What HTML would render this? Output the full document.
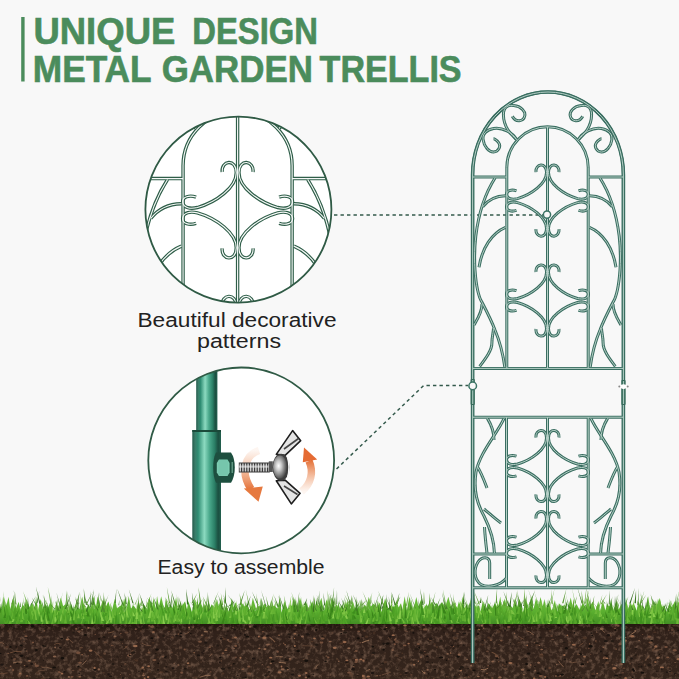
<!DOCTYPE html>
<html><head><meta charset="utf-8">
<style>
html,body{margin:0;padding:0;width:679px;height:679px;overflow:hidden;background:#f8f8f8;}
svg{display:block;position:absolute;left:0;top:0;}
.title{font-family:"Liberation Sans",sans-serif;font-weight:bold;fill:#4b8c5c;stroke:#4b8c5c;stroke-width:0.6;}
.lab{font-family:"Liberation Sans",sans-serif;fill:#222;}
</style></head><body>
<svg width="679" height="679" viewBox="0 0 679 679">
<defs>
<g id="tr"><path d="M472.6,663 L472.6,175 A75.4,83 0 0 1 623.4,175 L623.4,663"/><path d="M506.8,368 L506.8,167.5 A40.7,40.7 0 0 1 588.2,167.5 L588.2,368"/><path d="M547.5,126.8 L547.5,368"/><path d="M472.6,177 L506.8,177 M588.2,177 L623.4,177"/><path d="M472.6,368.4 L623.4,368.4 M472.6,417.2 L623.4,417.2 M472.6,587.8 L623.4,587.8"/><path d="M506.5,417.2 L506.5,587.8 M588.2,417.2 L588.2,587.8 M547.5,417.2 L547.5,587.8"/><path d="M472.6,554 L506.5,554 M588.2,554 L623.4,554"/><path d="M 516.5,139.5 C 511.6,134.8 503.6,127.8 503.4,114.8 C 503.4,105.8 509.6,104.8 513.7,105.6 C 521.6,106.3 525.6,111.8 524.8,115.8 C 523.6,121.8 515.6,122.8 512.3,116.3"/><path d="M 578.5,139.5 C 583.4,134.8 591.4,127.8 591.6,114.8 C 591.6,105.8 585.4,104.8 581.3,105.6 C 573.4,106.3 569.4,111.8 570.2,115.8 C 571.4,121.8 579.4,122.8 582.7,116.3"/><path d="M 516.5,139.5 C 513.0,132.8 502.0,126.8 493.5,128.5 C 486.0,129.8 482.0,134.8 483.2,139.8 C 484.0,146.8 489.0,151.8 493.5,152.1 C 499.0,151.8 501.0,145.8 498.7,142.8 C 497.0,139.8 494.0,138.8 493.5,138.8"/><path d="M 578.5,139.5 C 582.0,132.8 593.0,126.8 601.5,128.5 C 609.0,129.8 613.0,134.8 611.8,139.8 C 611.0,146.8 606.0,151.8 601.5,152.1 C 596.0,151.8 594.0,145.8 596.3,142.8 C 598.0,139.8 601.0,138.8 601.5,138.8"/><path d="M495.2,177.7 C486,192 479,210 475.8,236 C474,252 474.5,262 475,270 C476,284 478,296 482,302.3 C487,312 492,322 495,330 C500,342 503,354 504.8,367"/><path d="M 599.8,177.7 C 609.0,192.0 616.0,210.0 619.2,236.0 C 621.0,252.0 620.5,262.0 620.0,270.0 C 619.0,284.0 617.0,296.0 613.0,302.3 C 608.0,312.0 603.0,322.0 600.0,330.0 C 595.0,342.0 592.0,354.0 590.2,367.0"/><path d="M482.7,206.8 C488,200 496,196 505.5,195.8"/><path d="M 612.3,206.8 C 607.0,200.0 599.0,196.0 589.5,195.8"/><path d="M479,267.2 C482,248 492,233 505.5,227.4"/><path d="M 616.0,267.2 C 613.0,248.0 603.0,233.0 589.5,227.4"/><path d="M474,325 C478,318 482,312 482,303.9"/><path d="M 621.0,325.0 C 617.0,318.0 613.0,312.0 613.0,303.9"/><path d="M479.7,366.3 C486,358 492,350 491.9,343 C492,336 493.5,332 493.5,328.2"/><path d="M 615.3,366.3 C 609.0,358.0 603.0,350.0 603.1,343.0 C 603.0,336.0 601.5,332.0 601.5,328.2"/><path d="M504.1,418.4 C497,434 480,452 476,472 C473,492 478,505 484,516 C490,528 494,540 494.4,553"/><path d="M 590.9,418.4 C 598.0,434.0 615.0,452.0 619.0,472.0 C 622.0,492.0 617.0,505.0 611.0,516.0 C 605.0,528.0 601.0,540.0 600.6,553.0"/><path d="M487.4,418.4 C492,426 494,432 494,440"/><path d="M 607.6,418.4 C 603.0,426.0 601.0,432.0 601.0,440.0"/><path d="M477,466 C481,472 484,480 487,488"/><path d="M 618.0,466.0 C 614.0,472.0 611.0,480.0 608.0,488.0"/><path d="M484,509 C489,513 494,518 501,523"/><path d="M 611.0,509.0 C 606.0,513.0 601.0,518.0 594.0,523.0"/><path d="M484.5,527 C485,537 486,545 487,553"/><path d="M 610.5,527.0 C 610.0,537.0 609.0,545.0 608.0,553.0"/><path d="M489.7,579 L489.7,563 C489.7,556.5 482,556 478,562 C473.5,569 474,580 481,584.5 C488,588 500,586 506.5,578"/><path d="M 605.3,579.0 L 605.3,563.0 C 605.3,556.5 613.0,556.0 617.0,562.0 C 621.5,569.0 621.0,580.0 614.0,584.5 C 607.0,588.0 595.0,586.0 588.5,578.0"/><path transform="translate(547.5,200.6) scale(1,1)" d="M-11.5,-28.5 C-12.5,-37 -1,-39 -1,-28 C-1,-17 -16,-6 -30,-2 C-35,-0.8 -40.5,-1.5 -41,-6 C-41.3,-10 -36,-11.5 -31,-9.8"/><path transform="translate(547.5,200.6) scale(-1,1)" d="M-11.5,-28.5 C-12.5,-37 -1,-39 -1,-28 C-1,-17 -16,-6 -30,-2 C-35,-0.8 -40.5,-1.5 -41,-6 C-41.3,-10 -36,-11.5 -31,-9.8"/><path transform="translate(547.5,200.6) scale(1,-1)" d="M-11.5,-28.5 C-12.5,-37 -1,-39 -1,-28 C-1,-17 -16,-6 -30,-2 C-35,-0.8 -40.5,-1.5 -41,-6 C-41.3,-10 -36,-11.5 -31,-9.8"/><path transform="translate(547.5,200.6) scale(-1,-1)" d="M-11.5,-28.5 C-12.5,-37 -1,-39 -1,-28 C-1,-17 -16,-6 -30,-2 C-35,-0.8 -40.5,-1.5 -41,-6 C-41.3,-10 -36,-11.5 -31,-9.8"/><path transform="translate(547.5,300.5) scale(1,1)" d="M-11.5,-28.5 C-12.5,-37 -1,-39 -1,-28 C-1,-17 -16,-6 -30,-2 C-35,-0.8 -40.5,-1.5 -41,-6 C-41.3,-10 -36,-11.5 -31,-9.8"/><path transform="translate(547.5,300.5) scale(-1,1)" d="M-11.5,-28.5 C-12.5,-37 -1,-39 -1,-28 C-1,-17 -16,-6 -30,-2 C-35,-0.8 -40.5,-1.5 -41,-6 C-41.3,-10 -36,-11.5 -31,-9.8"/><path transform="translate(547.5,300.5) scale(1,-1)" d="M-11.5,-28.5 C-12.5,-37 -1,-39 -1,-28 C-1,-17 -16,-6 -30,-2 C-35,-0.8 -40.5,-1.5 -41,-6 C-41.3,-10 -36,-11.5 -31,-9.8"/><path transform="translate(547.5,300.5) scale(-1,-1)" d="M-11.5,-28.5 C-12.5,-37 -1,-39 -1,-28 C-1,-17 -16,-6 -30,-2 C-35,-0.8 -40.5,-1.5 -41,-6 C-41.3,-10 -36,-11.5 -31,-9.8"/><path transform="translate(547.5,466.0) scale(1,1)" d="M-11.5,-28.5 C-12.5,-37 -1,-39 -1,-28 C-1,-17 -16,-6 -30,-2 C-35,-0.8 -40.5,-1.5 -41,-6 C-41.3,-10 -36,-11.5 -31,-9.8"/><path transform="translate(547.5,466.0) scale(-1,1)" d="M-11.5,-28.5 C-12.5,-37 -1,-39 -1,-28 C-1,-17 -16,-6 -30,-2 C-35,-0.8 -40.5,-1.5 -41,-6 C-41.3,-10 -36,-11.5 -31,-9.8"/><path transform="translate(547.5,466.0) scale(1,-1)" d="M-11.5,-28.5 C-12.5,-37 -1,-39 -1,-28 C-1,-17 -16,-6 -30,-2 C-35,-0.8 -40.5,-1.5 -41,-6 C-41.3,-10 -36,-11.5 -31,-9.8"/><path transform="translate(547.5,466.0) scale(-1,-1)" d="M-11.5,-28.5 C-12.5,-37 -1,-39 -1,-28 C-1,-17 -16,-6 -30,-2 C-35,-0.8 -40.5,-1.5 -41,-6 C-41.3,-10 -36,-11.5 -31,-9.8"/><path transform="translate(547.5,547.0) scale(1,1)" d="M-11.5,-28.5 C-12.5,-37 -1,-39 -1,-28 C-1,-17 -16,-6 -30,-2 C-35,-0.8 -40.5,-1.5 -41,-6 C-41.3,-10 -36,-11.5 -31,-9.8"/><path transform="translate(547.5,547.0) scale(-1,1)" d="M-11.5,-28.5 C-12.5,-37 -1,-39 -1,-28 C-1,-17 -16,-6 -30,-2 C-35,-0.8 -40.5,-1.5 -41,-6 C-41.3,-10 -36,-11.5 -31,-9.8"/><path transform="translate(547.5,547.0) scale(1,-1)" d="M-11.5,-28.5 C-12.5,-37 -1,-39 -1,-28 C-1,-17 -16,-6 -30,-2 C-35,-0.8 -40.5,-1.5 -41,-6 C-41.3,-10 -36,-11.5 -31,-9.8"/><path transform="translate(547.5,547.0) scale(-1,-1)" d="M-11.5,-28.5 C-12.5,-37 -1,-39 -1,-28 C-1,-17 -16,-6 -30,-2 C-35,-0.8 -40.5,-1.5 -41,-6 C-41.3,-10 -36,-11.5 -31,-9.8"/></g>
<clipPath id="c1"><circle cx="238.4" cy="209.6" r="93"/></clipPath>
<clipPath id="c2"><circle cx="241.2" cy="460.4" r="92.9"/></clipPath>
<linearGradient id="pole" x1="0" x2="1" y1="0" y2="0">
 <stop offset="0" stop-color="#23594a"/><stop offset="0.1" stop-color="#3a7d6a"/><stop offset="0.2" stop-color="#2e8c72"/><stop offset="0.42" stop-color="#8cdac0"/><stop offset="0.6" stop-color="#4aa88b"/><stop offset="0.78" stop-color="#2a7e65"/><stop offset="0.9" stop-color="#1b4f40"/><stop offset="1" stop-color="#23604f"/>
</linearGradient>
<filter id="noise" x="0" y="0" width="100%" height="100%">
 <feTurbulence type="fractalNoise" baseFrequency="0.22" numOctaves="3" seed="4"/>
 <feColorMatrix type="matrix" values="0 0 0 0 0.55  0 0 0 0 0.33  0 0 0 0 0.22  0 0 0 2.2 -1.0"/>
</filter>
<linearGradient id="soilg" x1="0" x2="0" y1="0" y2="1">
 <stop offset="0" stop-color="#24170f"/><stop offset="0.15" stop-color="#30211a"/><stop offset="1" stop-color="#34251c"/>
</linearGradient>
<linearGradient id="grassg" gradientUnits="userSpaceOnUse" x1="0" x2="0" y1="596" y2="626">
 <stop offset="0" stop-color="#6fbf3e"/><stop offset="0.5" stop-color="#5cb030"/><stop offset="1" stop-color="#3f8a22"/>
</linearGradient>
<radialGradient id="wn" cx="0.4" cy="0.45" r="0.6">
 <stop offset="0" stop-color="#ffffff"/><stop offset="0.35" stop-color="#c8c8c8"/><stop offset="0.8" stop-color="#6a6a6a"/><stop offset="1" stop-color="#444"/>
</radialGradient>
<linearGradient id="arrL" x1="0" x2="0" y1="0" y2="1">
 <stop offset="0" stop-color="#f0a070" stop-opacity="0.1"/><stop offset="1" stop-color="#e5753d"/>
</linearGradient>
<linearGradient id="arrR" x1="0" x2="0" y1="1" y2="0">
 <stop offset="0" stop-color="#f0a070" stop-opacity="0.1"/><stop offset="1" stop-color="#e5753d"/>
</linearGradient>
</defs>
<rect width="679" height="679" fill="#f8f8f8"/>

<!-- title -->
<rect x="21.2" y="17" width="3.4" height="64.5" fill="#4b8c5c"/>
<text class="title" x="33.4" y="43.5" font-size="36.5" textLength="142.0" lengthAdjust="spacingAndGlyphs">UNIQUE</text>
<text class="title" x="192.2" y="43.5" font-size="36.5" textLength="125.8" lengthAdjust="spacingAndGlyphs">DESIGN</text>
<text class="title" x="32.8" y="81.5" font-size="36.5" textLength="118.8" lengthAdjust="spacingAndGlyphs">METAL</text>
<text class="title" x="161.7" y="81.5" font-size="36.5" textLength="151.3" lengthAdjust="spacingAndGlyphs">GARDEN</text>
<text class="title" x="319.6" y="81.5" font-size="36.5" textLength="142.0" lengthAdjust="spacingAndGlyphs">TRELLIS</text>

<!-- circle 1 -->
<circle cx="238.4" cy="209.6" r="93" fill="#ffffff"/>
<g clip-path="url(#c1)">
 <g transform="translate(237.6,210.2) scale(1.34) translate(-547.5,-200.6)">
  <use href="#tr" fill="none" stroke="#2f5e49" stroke-width="2.55"/>
  <use href="#tr" fill="none" stroke="#f4f8f6" stroke-width="0.85"/>
 </g>
</g>
<circle cx="238.4" cy="209.6" r="93" fill="none" stroke="#2f5a45" stroke-width="1.8"/>
<text class="lab" x="137.5" y="327.4" font-size="20" textLength="199" lengthAdjust="spacingAndGlyphs">Beautiful decorative</text>
<text class="lab" x="197" y="347.8" font-size="20" textLength="84" lengthAdjust="spacingAndGlyphs">patterns</text>

<!-- dashed line 1 -->
<path d="M334,215 L543.4,215" stroke="#33594b" stroke-width="1.5" stroke-dasharray="3.4 3.1" fill="none"/>

<!-- circle 2 -->
<circle cx="241.2" cy="460.4" r="92.9" fill="#ffffff"/>
<g clip-path="url(#c2)">
 <rect x="196.2" y="360" width="21.2" height="72" fill="url(#pole)"/>
 <rect x="192.3" y="430" width="28.7" height="130" fill="url(#pole)"/>
 <rect x="192.3" y="430" width="28.7" height="2" fill="#1a4a3a"/>
 <!-- nut -->
 <path d="M216,452.5 L231,452.5 Q234.8,458 234.8,467.6 Q234.8,477 231,482.7 L216,482.7 Q213.2,477 213.2,467.6 Q213.2,458 216,452.5Z" fill="#1d4f3f"/>
 <path d="M219,459.5 L227.5,459.5 L229.6,463 L229.6,472.5 L227.5,476 L219,476 L216.8,472.5 L216.8,463Z" fill="#7dcdb2"/>
 <path d="M218.5,460 L228,460 L228,475.5 L218.5,475.5Z" fill="#6fc0a5" opacity="0.5"/>
 <rect x="231.6" y="462" width="1.2" height="11" fill="#6fa892"/>
 <!-- arrows -->
 <path d="M259,450.5 C245,455 240,472 251,489" stroke="url(#arrL)" stroke-width="7.5" fill="none"/>
 <path d="M243.8,488.5 L262.8,486.5 L258.5,501.7 Z" fill="#e6793f"/>
 <!-- bolt -->
 <rect x="238.8" y="462.5" width="31" height="10" fill="#3a3a3a"/>
 <g fill="#d0d0d0"><rect x="239.6" y="463.5" width="1.4" height="8"/><rect x="242.2" y="463.5" width="1.4" height="8"/><rect x="244.8" y="463.5" width="1.4" height="8"/><rect x="247.4" y="463.5" width="1.4" height="8"/><rect x="250.0" y="463.5" width="1.4" height="8"/><rect x="252.6" y="463.5" width="1.4" height="8"/><rect x="255.2" y="463.5" width="1.4" height="8"/><rect x="257.8" y="463.5" width="1.4" height="8"/><rect x="260.4" y="463.5" width="1.4" height="8"/><rect x="263.0" y="463.5" width="1.4" height="8"/><rect x="265.6" y="463.5" width="1.4" height="8"/><rect x="268.2" y="463.5" width="1.4" height="8"/></g>
 <rect x="238.8" y="465.5" width="31" height="2.2" fill="#f2f2f2" opacity="0.6"/>
 <rect x="268.8" y="461.3" width="4" height="10.7" fill="#555"/>
 <!-- right arrow -->
 <path d="M301.5,491.5 C311,484 314,472 309,461" stroke="url(#arrR)" stroke-width="7.5" fill="none"/>
 <path d="M302.8,462.3 L317.2,459.5 L304,447.4 Z" fill="#e56b33"/>
 <!-- wing nut -->
 <path d="M276.3,454.4 L292.6,430.6 L300.7,440.7 L285.1,455.4 Z" fill="#e4e4e4" stroke="#1e1e1e" stroke-width="1.6" stroke-linejoin="round"/>
 <path d="M284,449 L298.5,438.5" stroke="#444" stroke-width="1.6"/>
 <path d="M276.3,480.8 L291.3,503.9 L300.1,493.3 L285.1,480.1 Z" fill="#e4e4e4" stroke="#1e1e1e" stroke-width="1.6" stroke-linejoin="round"/>
 <path d="M284,486 L297.5,494.5" stroke="#444" stroke-width="1.6"/>
 <ellipse cx="281" cy="467.3" rx="8.6" ry="13.5" fill="#3d3d3d"/>
 <ellipse cx="280" cy="467" rx="7" ry="11.5" fill="url(#wn)"/>
 <path d="M287.5,457 Q290.5,467 287.5,478" stroke="#f8f8f8" stroke-width="1.5" fill="none"/>
</g>
<circle cx="241.2" cy="460.4" r="92.9" fill="none" stroke="#2f5a45" stroke-width="1.8"/>
<text class="lab" x="157.5" y="574" font-size="20" textLength="167" lengthAdjust="spacingAndGlyphs">Easy to assemble</text>

<!-- dashed line 2 -->
<path d="M336.5,469 L423.7,385.5 L468,385.5" stroke="#33594b" stroke-width="1.5" stroke-dasharray="3.4 3.1" fill="none"/>

<!-- grass & soil -->
<path d="M-2,626 L-2.0,608.3 L-0.2,602.5 L1.4,609.8 L3.7,596.6 L6.2,606.3 L8.6,596.7 L10.2,609.0 L13.4,597.2 L15.3,610.4 L18.7,601.8 L21.0,612.8 L22.6,604.6 L24.7,607.0 L26.4,599.1 L29.6,607.3 L32.2,602.4 L34.5,609.8 L36.1,596.6 L38.0,610.8 L40.4,599.1 L43.0,609.2 L45.1,603.9 L48.0,607.7 L50.7,601.3 L53.9,611.1 L56.0,605.8 L57.8,608.9 L60.8,597.5 L63.2,606.3 L66.1,603.6 L68.7,612.1 L70.9,603.0 L73.5,610.1 L76.0,604.4 L79.3,609.3 L82.2,596.6 L85.1,610.5 L88.6,604.2 L90.6,608.7 L93.5,596.2 L95.9,607.2 L97.6,596.6 L100.7,606.9 L102.7,599.9 L105.9,606.6 L108.3,601.5 L111.6,611.7 L114.8,598.8 L117.1,608.5 L120.4,605.6 L122.2,607.2 L124.2,598.3 L126.6,610.1 L128.7,596.0 L131.0,608.6 L133.6,605.5 L136.5,609.6 L139.2,602.8 L140.8,612.3 L143.9,604.7 L147.0,608.7 L149.3,597.0 L152.1,606.4 L153.7,598.1 L155.5,608.4 L157.1,596.0 L158.9,606.7 L161.2,596.3 L164.4,610.3 L166.2,598.5 L168.4,608.5 L170.2,604.5 L173.6,609.3 L176.1,596.9 L177.8,608.4 L179.8,604.3 L181.7,606.2 L185.1,601.3 L186.9,609.8 L188.4,601.3 L191.9,612.0 L194.8,598.6 L197.0,607.2 L200.0,601.3 L203.1,608.3 L205.0,604.1 L208.5,612.0 L211.6,604.2 L214.6,607.6 L217.1,599.6 L218.7,606.2 L220.8,598.6 L223.6,612.7 L226.0,605.4 L229.5,612.7 L231.7,598.2 L233.7,607.4 L235.6,602.2 L238.9,611.9 L241.4,602.5 L244.5,606.6 L247.3,605.1 L250.3,611.3 L252.8,597.8 L255.9,608.3 L259.0,605.7 L261.3,608.8 L264.7,603.2 L266.5,606.9 L268.3,605.0 L271.4,607.0 L274.6,605.8 L277.4,608.5 L280.0,597.3 L281.5,612.8 L284.3,601.3 L287.7,609.0 L290.9,604.3 L292.8,607.8 L294.9,598.4 L297.6,607.8 L299.9,597.3 L303.3,608.5 L305.7,601.8 L309.0,608.9 L312.3,601.0 L314.9,609.7 L316.4,600.4 L318.3,606.0 L321.4,597.7 L323.8,611.1 L326.5,599.3 L329.0,609.9 L332.1,597.1 L334.7,607.7 L336.7,603.7 L339.2,609.9 L342.3,605.1 L344.7,610.3 L347.2,601.1 L350.1,609.2 L352.6,600.8 L356.0,610.9 L359.3,605.4 L361.3,609.9 L364.7,604.4 L366.4,606.9 L368.8,596.7 L370.8,606.5 L373.6,603.8 L376.9,607.1 L379.9,602.6 L381.6,612.2 L385.1,598.2 L388.5,608.8 L391.0,605.9 L394.1,607.1 L396.5,601.2 L398.7,607.4 L400.8,603.2 L402.3,609.9 L404.7,596.2 L406.9,610.4 L409.4,596.6 L412.9,611.5 L416.3,597.0 L418.4,606.3 L421.4,598.7 L423.2,609.0 L426.5,604.2 L428.5,607.0 L431.9,601.7 L434.8,606.6 L436.4,602.9 L438.7,606.5 L442.1,602.3 L445.2,606.6 L448.4,596.7 L451.6,609.2 L453.8,601.5 L457.2,607.9 L458.9,601.3 L460.9,606.8 L462.7,596.5 L464.6,608.2 L466.7,603.6 L468.8,609.5 L470.7,599.5 L472.2,607.8 L473.7,603.3 L476.3,607.3 L478.8,605.3 L480.5,611.7 L482.9,601.0 L486.0,608.8 L488.6,602.9 L492.0,608.4 L495.2,603.1 L498.0,608.8 L500.2,596.5 L501.9,606.5 L504.9,598.6 L506.7,606.6 L509.9,604.7 L512.7,608.0 L514.7,598.9 L517.1,607.1 L519.5,598.6 L523.0,612.8 L525.6,598.4 L529.0,608.2 L531.2,596.0 L533.5,609.3 L536.0,598.0 L538.5,606.0 L540.5,596.9 L542.8,606.3 L544.4,599.0 L546.3,610.1 L548.9,603.5 L551.7,611.0 L554.9,599.9 L557.1,612.9 L558.9,603.2 L561.7,606.3 L564.9,604.9 L567.6,611.1 L570.7,597.4 L573.3,609.5 L576.5,604.0 L579.6,610.1 L582.9,602.8 L585.8,607.6 L587.3,597.3 L589.6,606.7 L592.7,601.6 L595.5,610.4 L598.4,600.9 L599.9,611.6 L602.9,601.0 L605.4,610.6 L607.1,603.4 L609.1,606.5 L611.1,603.3 L613.0,611.2 L616.5,600.9 L618.7,609.4 L621.6,603.7 L624.3,610.5 L626.0,597.5 L628.0,611.2 L630.1,601.7 L631.6,606.4 L633.7,602.7 L636.5,610.7 L638.6,601.2 L641.1,609.3 L642.8,604.9 L644.7,612.8 L648.1,596.2 L650.5,611.7 L653.9,600.5 L656.0,607.5 L659.3,598.1 L662.0,607.0 L664.6,605.5 L666.3,611.7 L668.8,604.9 L671.7,607.6 L675.0,600.9 L676.6,606.0 L679.1,600.5 L681.2,607.0 L683.4,599.2 L684,626Z" fill="url(#grassg)"/><path d="M-5.3,622.5L-6.8,608.3L-2.3,622.5Z" fill="#4fa326"/><path d="M614.6,616.1L615.3,607.0L617.8,616.1Z" fill="#52a028"/><path d="M46.8,625.0L50.5,611.6L48.5,625.0Z" fill="#4fa326"/><path d="M569.2,616.0L568.1,600.7L571.0,616.0Z" fill="#398419"/><path d="M211.8,622.8L211.9,609.2L213.1,622.8Z" fill="#88cc4c"/><path d="M269.9,624.3L268.3,613.2L271.3,624.3Z" fill="#64b232"/><path d="M305.0,622.5L303.9,610.4L306.3,622.5Z" fill="#398419"/><path d="M81.4,618.6L81.1,609.8L84.1,618.6Z" fill="#88cc4c"/><path d="M173.3,621.2L174.7,612.9L175.3,621.2Z" fill="#6cb838"/><path d="M437.0,613.1L440.7,602.5L439.3,613.1Z" fill="#3f8f1e"/><path d="M618.6,626.0L616.5,616.0L620.2,626.0Z" fill="#5eac2e"/><path d="M114.0,619.8L114.3,611.3L116.8,619.8Z" fill="#489a22"/><path d="M605.2,622.5L605.6,613.0L607.4,622.5Z" fill="#64b232"/><path d="M180.2,622.5L181.8,612.0L182.2,622.5Z" fill="#88cc4c"/><path d="M341.0,620.8L339.6,606.3L342.7,620.8Z" fill="#489a22"/><path d="M258.5,621.0L258.5,611.3L261.4,621.0Z" fill="#4fa326"/><path d="M81.1,618.0L85.1,604.6L84.2,618.0Z" fill="#3f8f1e"/><path d="M-6.3,617.5L-2.3,602.3L-3.4,617.5Z" fill="#3f8f1e"/><path d="M164.9,613.5L166.4,606.8L167.5,613.5Z" fill="#88cc4c"/><path d="M577.6,624.5L580.5,618.6L578.8,624.5Z" fill="#6cb838"/><path d="M154.5,624.9L153.7,612.8L156.0,624.9Z" fill="#7cc242"/><path d="M358.1,618.1L355.8,604.7L359.9,618.1Z" fill="#52a028"/><path d="M125.9,615.7L123.1,602.0L128.2,615.7Z" fill="#3f8f1e"/><path d="M185.8,616.4L184.9,602.2L188.1,616.4Z" fill="#398419"/><path d="M164.6,625.4L163.7,612.7L165.8,625.4Z" fill="#3f8f1e"/><path d="M603.6,621.1L602.5,615.2L605.7,621.1Z" fill="#56a42a"/><path d="M150.0,612.5L150.6,603.8L152.5,612.5Z" fill="#489a22"/><path d="M-1.4,616.1L-3.8,601.8L0.7,616.1Z" fill="#489a22"/><path d="M208.4,623.5L207.5,615.9L211.1,623.5Z" fill="#7cc242"/><path d="M69.0,620.7L73.3,609.0L71.2,620.7Z" fill="#88cc4c"/><path d="M33.2,620.3L30.3,605.2L34.5,620.3Z" fill="#52a028"/><path d="M91.3,612.7L91.9,607.1L94.3,612.7Z" fill="#56a42a"/><path d="M499.1,626.0L498.5,610.7L500.6,626.0Z" fill="#398419"/><path d="M508.2,612.4L508.2,600.1L510.2,612.4Z" fill="#56a42a"/><path d="M298.8,613.5L296.5,607.7L300.9,613.5Z" fill="#5eac2e"/><path d="M380.7,622.6L383.8,613.4L382.5,622.6Z" fill="#64b232"/><path d="M54.4,621.9L55.8,614.7L56.5,621.9Z" fill="#56a42a"/><path d="M244.6,624.6L245.3,619.2L247.4,624.6Z" fill="#64b232"/><path d="M22.2,612.5L26.4,606.8L23.9,612.5Z" fill="#5eac2e"/><path d="M612.9,616.7L617.8,608.8L615.3,616.7Z" fill="#7cc242"/><path d="M508.0,621.7L507.7,606.5L510.6,621.7Z" fill="#52a028"/><path d="M625.6,620.9L622.6,605.5L627.3,620.9Z" fill="#3f8f1e"/><path d="M486.5,618.5L490.3,605.0L489.5,618.5Z" fill="#3f8f1e"/><path d="M85.5,619.0L89.9,613.9L87.3,619.0Z" fill="#6cb838"/><path d="M412.0,616.6L412.3,608.1L414.8,616.6Z" fill="#5eac2e"/><path d="M346.4,617.5L347.0,610.7L348.9,617.5Z" fill="#3f8f1e"/><path d="M374.1,616.6L378.8,600.8L377.3,616.6Z" fill="#7cc242"/><path d="M423.8,614.9L429.3,605.3L426.9,614.9Z" fill="#6cb838"/><path d="M155.0,617.8L157.8,606.0L157.7,617.8Z" fill="#88cc4c"/><path d="M517.5,622.9L516.6,614.7L519.2,622.9Z" fill="#7cc242"/><path d="M502.8,614.8L501.5,607.1L504.3,614.8Z" fill="#52a028"/><path d="M123.6,612.9L122.7,605.1L125.8,612.9Z" fill="#88cc4c"/><path d="M550.9,621.1L548.8,605.2L553.1,621.1Z" fill="#489a22"/><path d="M573.4,624.8L572.5,619.4L574.9,624.8Z" fill="#489a22"/><path d="M407.6,623.6L405.3,616.5L409.9,623.6Z" fill="#6cb838"/><path d="M303.7,615.6L308.0,602.1L305.1,615.6Z" fill="#52a028"/><path d="M483.3,616.9L482.7,611.5L484.6,616.9Z" fill="#7cc242"/><path d="M19.9,622.3L23.9,607.2L22.8,622.3Z" fill="#64b232"/><path d="M461.0,614.6L460.0,606.2L463.8,614.6Z" fill="#398419"/><path d="M327.4,617.7L329.4,604.0L328.9,617.7Z" fill="#398419"/><path d="M56.9,614.3L57.1,601.6L58.7,614.3Z" fill="#7cc242"/><path d="M281.9,612.7L286.0,599.5L283.9,612.7Z" fill="#4fa326"/><path d="M589.1,626.0L588.0,617.0L591.8,626.0Z" fill="#489a22"/><path d="M643.3,618.1L640.9,611.4L644.7,618.1Z" fill="#52a028"/><path d="M602.1,618.5L599.4,611.7L604.4,618.5Z" fill="#88cc4c"/><path d="M549.3,617.6L554.1,606.3L552.0,617.6Z" fill="#6cb838"/><path d="M94.8,616.0L98.9,605.2L96.2,616.0Z" fill="#3f8f1e"/><path d="M512.8,623.1L512.6,609.2L515.6,623.1Z" fill="#4fa326"/><path d="M666.2,618.8L670.6,613.2L668.1,618.8Z" fill="#52a028"/><path d="M468.0,624.5L472.0,612.4L470.4,624.5Z" fill="#52a028"/><path d="M577.1,623.6L575.9,616.6L579.1,623.6Z" fill="#398419"/><path d="M101.4,617.0L106.6,610.4L104.2,617.0Z" fill="#489a22"/><path d="M21.9,619.9L19.6,606.5L24.8,619.9Z" fill="#5eac2e"/><path d="M262.3,618.4L265.8,604.0L264.8,618.4Z" fill="#7cc242"/><path d="M395.4,618.0L396.0,605.7L397.5,618.0Z" fill="#4fa326"/><path d="M-3.8,625.8L-3.0,615.7L-1.4,625.8Z" fill="#3f8f1e"/><path d="M570.4,623.3L567.9,613.9L572.3,623.3Z" fill="#56a42a"/><path d="M57.0,618.2L54.5,607.6L59.4,618.2Z" fill="#5eac2e"/><path d="M629.0,616.4L627.0,603.5L631.7,616.4Z" fill="#64b232"/><path d="M443.5,623.0L441.3,617.7L446.0,623.0Z" fill="#5eac2e"/><path d="M126.9,625.7L132.1,615.3L130.0,625.7Z" fill="#6cb838"/><path d="M466.5,622.1L470.4,614.7L469.0,622.1Z" fill="#7cc242"/><path d="M103.6,624.6L106.9,616.5L105.1,624.6Z" fill="#398419"/><path d="M658.6,618.7L660.3,607.2L660.3,618.7Z" fill="#56a42a"/><path d="M19.1,614.5L23.9,607.8L21.7,614.5Z" fill="#64b232"/><path d="M110.0,623.0L111.5,616.7L112.5,623.0Z" fill="#56a42a"/><path d="M659.2,618.3L662.2,607.6L662.2,618.3Z" fill="#7cc242"/><path d="M678.3,620.8L681.5,611.5L680.0,620.8Z" fill="#56a42a"/><path d="M392.0,617.0L392.3,603.6L393.6,617.0Z" fill="#4fa326"/><path d="M197.7,619.2L202.9,610.8L200.7,619.2Z" fill="#88cc4c"/><path d="M611.3,622.3L609.9,609.0L613.0,622.3Z" fill="#88cc4c"/><path d="M292.0,619.2L289.9,604.3L293.6,619.2Z" fill="#88cc4c"/><path d="M25.3,612.8L24.8,601.5L27.5,612.8Z" fill="#398419"/><path d="M148.3,620.2L147.1,608.7L150.7,620.2Z" fill="#3f8f1e"/><path d="M103.2,612.2L106.0,598.4L105.3,612.2Z" fill="#5eac2e"/><path d="M433.9,624.2L433.9,610.6L435.6,624.2Z" fill="#4fa326"/><path d="M32.5,623.5L34.4,608.7L34.9,623.5Z" fill="#52a028"/><path d="M640.1,622.3L643.9,614.5L641.3,622.3Z" fill="#398419"/><path d="M11.7,614.6L15.7,607.8L13.1,614.6Z" fill="#52a028"/><path d="M373.4,625.2L372.2,618.6L375.8,625.2Z" fill="#398419"/><path d="M440.5,617.8L441.3,606.1L441.9,617.8Z" fill="#88cc4c"/><path d="M27.8,624.5L30.1,610.8L29.0,624.5Z" fill="#64b232"/><path d="M507.6,618.5L508.1,605.4L509.3,618.5Z" fill="#5eac2e"/><path d="M173.6,621.0L178.3,614.7L176.6,621.0Z" fill="#7cc242"/><path d="M484.0,615.7L484.8,604.6L486.7,615.7Z" fill="#398419"/><path d="M663.9,616.1L667.8,600.9L665.3,616.1Z" fill="#398419"/><path d="M3.9,615.6L7.4,608.0L7.0,615.6Z" fill="#56a42a"/><path d="M125.8,617.4L126.3,605.8L128.7,617.4Z" fill="#88cc4c"/><path d="M574.2,619.5L575.1,609.3L575.4,619.5Z" fill="#4fa326"/><path d="M295.4,622.1L294.7,610.9L297.1,622.1Z" fill="#52a028"/><path d="M397.6,619.9L394.6,613.0L399.0,619.9Z" fill="#52a028"/><path d="M634.4,616.8L631.3,610.3L635.7,616.8Z" fill="#88cc4c"/><path d="M430.6,621.8L428.3,608.7L432.9,621.8Z" fill="#56a42a"/><path d="M130.8,625.4L133.6,614.5L133.8,625.4Z" fill="#64b232"/><path d="M67.4,614.9L65.1,608.6L70.3,614.9Z" fill="#88cc4c"/><path d="M54.5,622.5L55.1,610.6L56.0,622.5Z" fill="#88cc4c"/><path d="M135.4,616.5L132.4,606.8L137.1,616.5Z" fill="#7cc242"/><path d="M27.2,622.6L30.5,607.6L29.6,622.6Z" fill="#3f8f1e"/><path d="M580.6,620.7L580.9,615.3L582.6,620.7Z" fill="#5eac2e"/><path d="M232.5,621.9L231.7,610.9L235.4,621.9Z" fill="#5eac2e"/><path d="M390.0,616.0L391.0,606.2L391.7,616.0Z" fill="#4fa326"/><path d="M-2.8,618.9L0.4,608.5L-1.2,618.9Z" fill="#3f8f1e"/><path d="M402.5,625.4L403.9,614.7L404.0,625.4Z" fill="#489a22"/><path d="M640.1,615.2L645.0,608.4L642.8,615.2Z" fill="#3f8f1e"/><path d="M536.9,621.8L538.9,608.1L538.8,621.8Z" fill="#64b232"/><path d="M633.5,624.5L634.1,611.3L636.0,624.5Z" fill="#56a42a"/><path d="M136.0,615.7L137.0,600.8L138.0,615.7Z" fill="#88cc4c"/><path d="M154.6,618.5L158.0,607.6L157.3,618.5Z" fill="#88cc4c"/><path d="M17.3,620.1L21.3,609.4L19.4,620.1Z" fill="#398419"/><path d="M505.1,614.4L508.4,604.5L507.4,614.4Z" fill="#6cb838"/><path d="M224.3,621.0L225.2,608.3L226.0,621.0Z" fill="#52a028"/><path d="M100.4,614.2L100.1,606.5L102.6,614.2Z" fill="#6cb838"/><path d="M156.2,625.4L161.4,617.5L159.3,625.4Z" fill="#6cb838"/><path d="M656.7,613.4L662.0,604.2L659.5,613.4Z" fill="#7cc242"/><path d="M293.9,614.7L291.5,602.7L295.5,614.7Z" fill="#64b232"/><path d="M313.8,612.2L314.1,597.8L315.5,612.2Z" fill="#88cc4c"/><path d="M198.5,612.3L201.0,604.5L199.7,612.3Z" fill="#489a22"/><path d="M619.6,618.0L622.6,606.7L621.6,618.0Z" fill="#489a22"/><path d="M454.0,621.1L456.3,606.5L456.4,621.1Z" fill="#489a22"/><path d="M462.0,621.0L461.7,611.0L464.5,621.0Z" fill="#5eac2e"/><path d="M610.7,615.4L613.2,606.0L612.2,615.4Z" fill="#64b232"/><path d="M326.3,612.3L327.8,597.8L328.9,612.3Z" fill="#6cb838"/><path d="M609.8,616.6L614.0,611.5L612.8,616.6Z" fill="#5eac2e"/><path d="M19.7,619.6L23.5,612.8L22.8,619.6Z" fill="#398419"/><path d="M233.8,623.9L232.6,613.8L236.0,623.9Z" fill="#4fa326"/><path d="M433.9,623.6L434.7,612.9L437.0,623.6Z" fill="#489a22"/><path d="M676.0,614.6L680.8,603.9L678.6,614.6Z" fill="#52a028"/><path d="M239.3,612.8L239.1,604.8L240.5,612.8Z" fill="#64b232"/><path d="M625.0,620.8L626.4,608.4L626.4,620.8Z" fill="#7cc242"/><path d="M504.5,625.2L503.6,614.4L507.3,625.2Z" fill="#64b232"/><path d="M312.0,614.3L309.9,599.1L314.8,614.3Z" fill="#489a22"/><path d="M317.3,619.9L322.0,612.4L319.2,619.9Z" fill="#88cc4c"/><path d="M566.0,623.1L571.3,613.6L568.7,623.1Z" fill="#88cc4c"/><path d="M80.4,623.7L84.0,614.8L82.1,623.7Z" fill="#64b232"/><path d="M467.2,625.8L468.5,613.3L470.1,625.8Z" fill="#7cc242"/><path d="M240.4,621.2L241.5,612.6L242.9,621.2Z" fill="#5eac2e"/><path d="M448.6,617.1L452.1,601.9L449.9,617.1Z" fill="#52a028"/><path d="M617.9,623.0L621.8,616.4L620.3,623.0Z" fill="#4fa326"/><path d="M446.7,614.9L446.2,609.1L449.1,614.9Z" fill="#52a028"/><path d="M92.6,615.3L92.1,601.7L94.1,615.3Z" fill="#64b232"/><path d="M539.1,614.4L541.3,599.5L541.8,614.4Z" fill="#88cc4c"/><path d="M615.1,619.7L614.6,607.7L617.3,619.7Z" fill="#489a22"/><path d="M359.6,622.4L363.8,612.6L361.9,622.4Z" fill="#7cc242"/><path d="M282.6,623.6L284.2,613.4L284.8,623.6Z" fill="#6cb838"/><path d="M476.3,615.5L478.4,608.6L478.9,615.5Z" fill="#6cb838"/><path d="M572.8,618.6L575.6,607.4L575.7,618.6Z" fill="#56a42a"/><path d="M287.4,626.0L285.8,613.6L289.3,626.0Z" fill="#88cc4c"/><path d="M13.7,620.5L18.1,608.0L15.6,620.5Z" fill="#5eac2e"/><path d="M345.5,618.8L343.1,603.9L348.1,618.8Z" fill="#88cc4c"/><path d="M81.1,613.3L81.2,601.1L83.8,613.3Z" fill="#398419"/><path d="M524.8,615.0L525.3,605.2L527.1,615.0Z" fill="#7cc242"/><path d="M195.9,623.6L196.8,614.1L197.7,623.6Z" fill="#398419"/><path d="M231.8,614.8L229.5,604.4L233.4,614.8Z" fill="#7cc242"/><path d="M81.9,625.6L86.9,619.7L83.9,625.6Z" fill="#398419"/><path d="M604.6,619.6L603.6,614.1L605.8,619.6Z" fill="#489a22"/><path d="M560.2,618.7L557.8,605.2L562.4,618.7Z" fill="#398419"/><path d="M415.3,620.6L418.1,608.7L417.7,620.6Z" fill="#88cc4c"/><path d="M51.4,612.6L53.2,600.6L53.0,612.6Z" fill="#88cc4c"/><path d="M118.7,612.5L123.2,599.0L121.2,612.5Z" fill="#56a42a"/><path d="M594.3,613.9L597.4,605.5L597.2,613.9Z" fill="#6cb838"/><path d="M284.1,616.5L286.7,606.7L287.1,616.5Z" fill="#4fa326"/><path d="M336.9,619.3L340.2,605.2L339.0,619.3Z" fill="#64b232"/><path d="M301.1,612.2L303.4,602.9L304.2,612.2Z" fill="#6cb838"/><path d="M321.8,617.8L323.7,611.7L323.4,617.8Z" fill="#6cb838"/><path d="M425.3,618.0L428.3,612.9L428.5,618.0Z" fill="#5eac2e"/><path d="M144.2,613.7L143.6,603.5L146.5,613.7Z" fill="#3f8f1e"/><path d="M499.1,614.6L502.6,609.1L501.7,614.6Z" fill="#6cb838"/><path d="M496.7,613.2L499.5,601.3L498.8,613.2Z" fill="#7cc242"/><path d="M622.9,612.7L620.9,607.4L625.9,612.7Z" fill="#88cc4c"/><path d="M557.4,613.1L560.0,604.7L558.9,613.1Z" fill="#3f8f1e"/><path d="M413.5,616.4L416.4,601.0L415.6,616.4Z" fill="#6cb838"/><path d="M93.6,623.2L96.0,614.2L96.1,623.2Z" fill="#64b232"/><path d="M322.3,622.9L321.8,612.9L325.0,622.9Z" fill="#56a42a"/><path d="M195.0,612.8L198.1,597.1L197.9,612.8Z" fill="#56a42a"/><path d="M592.7,622.2L591.3,617.0L595.6,622.2Z" fill="#52a028"/><path d="M289.1,624.4L291.8,615.3L291.5,624.4Z" fill="#489a22"/><path d="M550.3,616.0L549.5,610.9L552.4,616.0Z" fill="#52a028"/><path d="M628.6,622.7L627.6,609.1L630.0,622.7Z" fill="#52a028"/><path d="M94.9,625.7L96.7,611.9L97.7,625.7Z" fill="#3f8f1e"/><path d="M233.2,613.2L236.4,602.1L234.8,613.2Z" fill="#489a22"/><path d="M206.7,612.8L209.9,603.5L209.8,612.8Z" fill="#52a028"/><path d="M511.1,623.1L509.2,613.0L513.9,623.1Z" fill="#5eac2e"/><path d="M154.3,620.1L158.5,605.2L156.6,620.1Z" fill="#3f8f1e"/><path d="M342.3,614.8L340.5,607.5L345.2,614.8Z" fill="#7cc242"/><path d="M244.2,619.9L245.1,610.5L245.7,619.9Z" fill="#4fa326"/><path d="M629.6,618.9L629.7,604.4L631.7,618.9Z" fill="#5eac2e"/><path d="M102.0,620.4L102.7,611.6L103.2,620.4Z" fill="#4fa326"/><path d="M135.2,624.2L136.7,613.0L136.8,624.2Z" fill="#7cc242"/><path d="M286.9,625.3L291.0,611.8L290.0,625.3Z" fill="#7cc242"/><path d="M575.7,616.7L575.4,600.8L577.0,616.7Z" fill="#4fa326"/><path d="M377.5,624.2L382.6,614.1L380.5,624.2Z" fill="#5eac2e"/><path d="M588.9,621.0L591.2,605.8L590.3,621.0Z" fill="#56a42a"/><path d="M382.9,621.0L385.3,605.4L384.9,621.0Z" fill="#3f8f1e"/><path d="M579.7,617.2L582.2,609.6L581.2,617.2Z" fill="#7cc242"/><path d="M641.9,612.8L639.7,601.7L645.0,612.8Z" fill="#7cc242"/><path d="M536.2,621.9L540.7,609.8L537.5,621.9Z" fill="#6cb838"/><path d="M212.7,612.1L215.9,604.9L215.1,612.1Z" fill="#3f8f1e"/><path d="M516.5,613.5L515.2,604.9L517.9,613.5Z" fill="#3f8f1e"/><path d="M255.1,618.2L259.9,604.3L258.1,618.2Z" fill="#3f8f1e"/><path d="M488.3,614.7L492.6,609.3L490.0,614.7Z" fill="#52a028"/><path d="M591.5,624.4L591.8,617.9L592.9,624.4Z" fill="#64b232"/><path d="M573.9,620.8L574.0,610.8L576.7,620.8Z" fill="#3f8f1e"/><path d="M73.9,617.1L76.5,608.5L75.4,617.1Z" fill="#3f8f1e"/><path d="M375.3,614.0L374.4,599.4L377.3,614.0Z" fill="#6cb838"/><path d="M11.7,620.0L14.9,611.7L13.4,620.0Z" fill="#5eac2e"/><path d="M213.5,624.6L218.0,618.4L214.8,624.6Z" fill="#88cc4c"/><path d="M631.1,619.8L629.4,605.7L633.8,619.8Z" fill="#56a42a"/><path d="M291.7,615.7L290.6,608.0L293.7,615.7Z" fill="#64b232"/><path d="M610.9,612.8L610.8,599.8L614.1,612.8Z" fill="#4fa326"/><path d="M298.2,619.1L299.2,608.5L301.0,619.1Z" fill="#398419"/><path d="M191.4,617.0L191.6,611.6L193.2,617.0Z" fill="#6cb838"/><path d="M89.3,614.5L91.8,601.0L90.9,614.5Z" fill="#5eac2e"/><path d="M565.4,624.5L568.3,611.4L566.9,624.5Z" fill="#6cb838"/><path d="M416.2,621.9L417.6,608.0L417.8,621.9Z" fill="#5eac2e"/><path d="M470.8,619.3L475.3,605.0L473.1,619.3Z" fill="#56a42a"/><path d="M225.4,623.8L225.9,609.3L226.6,623.8Z" fill="#3f8f1e"/><path d="M85.2,621.3L87.3,613.6L88.4,621.3Z" fill="#4fa326"/><path d="M106.5,617.2L103.7,605.7L108.8,617.2Z" fill="#3f8f1e"/><path d="M661.0,613.0L660.4,604.1L663.9,613.0Z" fill="#56a42a"/><path d="M530.9,624.2L535.0,612.8L532.7,624.2Z" fill="#5eac2e"/><path d="M651.2,618.9L652.6,608.3L653.5,618.9Z" fill="#4fa326"/><path d="M161.9,613.2L160.1,601.4L163.7,613.2Z" fill="#398419"/><path d="M557.2,612.4L559.6,606.4L558.8,612.4Z" fill="#4fa326"/><path d="M570.9,620.9L569.8,610.8L573.0,620.9Z" fill="#56a42a"/><path d="M593.0,622.0L591.1,616.5L595.2,622.0Z" fill="#398419"/><path d="M518.5,613.5L522.8,607.2L520.8,613.5Z" fill="#489a22"/><path d="M587.5,614.1L590.3,602.8L589.1,614.1Z" fill="#4fa326"/><path d="M639.9,617.4L643.7,607.8L642.1,617.4Z" fill="#64b232"/><path d="M662.2,612.7L662.9,603.7L665.1,612.7Z" fill="#64b232"/><path d="M574.8,619.9L574.4,604.1L576.8,619.9Z" fill="#398419"/><path d="M31.0,619.2L35.4,603.7L32.7,619.2Z" fill="#64b232"/><path d="M451.0,612.2L449.4,606.0L452.8,612.2Z" fill="#489a22"/><path d="M341.4,612.3L346.5,605.8L344.2,612.3Z" fill="#3f8f1e"/><path d="M430.6,623.3L434.4,608.6L431.9,623.3Z" fill="#88cc4c"/><path d="M421.4,624.9L423.8,613.0L424.2,624.9Z" fill="#4fa326"/><path d="M421.5,615.5L422.5,604.8L424.6,615.5Z" fill="#7cc242"/><path d="M71.3,616.9L69.4,610.0L74.4,616.9Z" fill="#398419"/><path d="M615.0,613.2L619.5,601.7L617.1,613.2Z" fill="#398419"/><path d="M84.7,616.1L83.8,606.6L86.4,616.1Z" fill="#5eac2e"/><path d="M504.3,616.0L506.7,606.0L506.0,616.0Z" fill="#64b232"/><path d="M132.4,621.9L134.0,611.9L134.8,621.9Z" fill="#3f8f1e"/><path d="M558.0,612.4L556.7,603.8L560.3,612.4Z" fill="#52a028"/><path d="M267.2,624.9L271.8,618.2L269.1,624.9Z" fill="#56a42a"/><path d="M332.2,616.0L331.9,600.1L335.0,616.0Z" fill="#6cb838"/><path d="M373.6,620.5L376.0,611.7L375.8,620.5Z" fill="#3f8f1e"/><path d="M237.7,622.7L242.9,611.9L240.3,622.7Z" fill="#6cb838"/><path d="M280.9,621.4L279.8,614.8L283.4,621.4Z" fill="#7cc242"/><path d="M559.4,619.2L562.7,606.1L562.2,619.2Z" fill="#3f8f1e"/><path d="M179.1,620.8L181.8,608.9L181.1,620.8Z" fill="#5eac2e"/><path d="M-3.6,622.7L-2.0,611.3L-0.5,622.7Z" fill="#52a028"/><path d="M97.4,623.9L99.1,615.8L98.8,623.9Z" fill="#3f8f1e"/><path d="M471.1,616.0L471.1,607.2L473.4,616.0Z" fill="#52a028"/><path d="M258.8,616.5L262.7,602.9L261.0,616.5Z" fill="#3f8f1e"/><path d="M200.7,619.5L201.2,605.7L202.7,619.5Z" fill="#489a22"/><path d="M54.1,624.9L58.3,616.3L57.0,624.9Z" fill="#56a42a"/><path d="M135.1,618.0L131.9,603.0L136.4,618.0Z" fill="#52a028"/><path d="M611.0,616.2L610.8,605.3L613.5,616.2Z" fill="#64b232"/><path d="M350.6,619.2L350.6,606.7L352.5,619.2Z" fill="#52a028"/><path d="M460.1,618.3L457.5,613.2L461.7,618.3Z" fill="#64b232"/><path d="M251.5,617.6L253.6,606.4L254.5,617.6Z" fill="#64b232"/><path d="M329.4,618.2L334.3,606.3L331.3,618.2Z" fill="#398419"/><path d="M508.6,613.3L508.2,604.3L510.0,613.3Z" fill="#7cc242"/><path d="M346.8,613.5L349.7,598.7L349.6,613.5Z" fill="#398419"/><path d="M605.8,617.9L605.3,611.2L608.0,617.9Z" fill="#398419"/><path d="M609.7,617.8L610.9,612.1L611.1,617.8Z" fill="#52a028"/><path d="M678.3,620.9L679.0,615.4L681.1,620.9Z" fill="#7cc242"/><path d="M483.9,619.7L483.8,604.7L485.3,619.7Z" fill="#4fa326"/><path d="M454.5,614.8L455.8,604.3L456.2,614.8Z" fill="#88cc4c"/><path d="M610.8,619.2L609.6,612.6L613.2,619.2Z" fill="#6cb838"/><path d="M102.2,622.6L99.8,616.5L103.8,622.6Z" fill="#398419"/><path d="M331.7,618.5L335.3,608.8L334.2,618.5Z" fill="#88cc4c"/><path d="M525.2,616.5L524.8,603.6L526.7,616.5Z" fill="#7cc242"/><path d="M427.4,624.0L424.7,608.6L429.0,624.0Z" fill="#52a028"/><path d="M259.2,612.8L261.4,598.0L262.3,612.8Z" fill="#3f8f1e"/><path d="M31.4,615.3L29.9,607.9L33.8,615.3Z" fill="#6cb838"/><path d="M210.7,624.6L210.3,610.6L213.1,624.6Z" fill="#3f8f1e"/><path d="M668.7,612.9L671.3,600.5L671.1,612.9Z" fill="#64b232"/><path d="M207.2,624.3L210.4,613.9L208.9,624.3Z" fill="#6cb838"/><path d="M111.1,617.3L115.1,612.2L113.1,617.3Z" fill="#56a42a"/><path d="M73.5,619.5L73.4,610.2L74.8,619.5Z" fill="#5eac2e"/><path d="M284.9,624.8L285.0,613.7L287.0,624.8Z" fill="#56a42a"/><path d="M157.7,612.5L157.1,600.2L159.2,612.5Z" fill="#6cb838"/><path d="M57.8,615.8L55.8,601.6L59.9,615.8Z" fill="#489a22"/><path d="M103.1,616.9L103.7,604.0L106.3,616.9Z" fill="#489a22"/><path d="M198.5,618.7L202.7,611.4L201.1,618.7Z" fill="#7cc242"/><path d="M404.6,618.2L405.9,602.3L406.6,618.2Z" fill="#398419"/><path d="M140.3,624.2L141.5,617.9L142.6,624.2Z" fill="#7cc242"/><path d="M501.3,622.7L503.8,617.4L502.8,622.7Z" fill="#4fa326"/><path d="M262.7,613.2L266.5,606.3L264.6,613.2Z" fill="#88cc4c"/><path d="M607.8,613.0L611.6,597.9L610.5,613.0Z" fill="#489a22"/><path d="M39.1,616.4L37.4,608.9L41.7,616.4Z" fill="#7cc242"/><path d="M239.0,623.8L241.2,613.7L241.4,623.8Z" fill="#6cb838"/><path d="M639.1,614.5L642.8,605.4L641.7,614.5Z" fill="#64b232"/><path d="M11.4,621.9L16.4,611.8L13.4,621.9Z" fill="#88cc4c"/><path d="M61.5,616.1L63.2,608.1L63.1,616.1Z" fill="#88cc4c"/><path d="M22.0,612.6L20.5,605.8L23.8,612.6Z" fill="#64b232"/><path d="M502.5,619.7L507.2,607.8L504.9,619.7Z" fill="#489a22"/><path d="M386.6,622.0L387.3,614.2L389.1,622.0Z" fill="#56a42a"/><path d="M638.2,613.6L640.9,600.2L641.2,613.6Z" fill="#52a028"/><path d="M412.1,612.7L410.4,605.0L414.9,612.7Z" fill="#489a22"/><path d="M529.1,616.8L529.8,601.8L531.8,616.8Z" fill="#52a028"/><path d="M565.0,615.9L569.6,609.9L567.0,615.9Z" fill="#56a42a"/><path d="M470.5,622.3L472.6,608.2L472.6,622.3Z" fill="#4fa326"/><path d="M459.8,614.9L463.9,602.5L462.5,614.9Z" fill="#3f8f1e"/><path d="M519.1,612.6L522.4,599.9L520.8,612.6Z" fill="#398419"/><path d="M106.2,622.9L105.9,615.3L109.4,622.9Z" fill="#6cb838"/><path d="M240.8,617.8L240.0,610.5L242.3,617.8Z" fill="#3f8f1e"/><path d="M455.8,615.3L457.0,607.7L457.9,615.3Z" fill="#88cc4c"/><path d="M236.0,616.2L234.3,601.5L238.3,616.2Z" fill="#56a42a"/><path d="M427.4,613.7L432.2,604.0L429.9,613.7Z" fill="#6cb838"/><path d="M406.8,618.5L410.1,605.0L408.2,618.5Z" fill="#7cc242"/><path d="M2.6,618.8L6.7,613.3L4.4,618.8Z" fill="#5eac2e"/><path d="M477.4,618.3L477.0,612.0L479.5,618.3Z" fill="#56a42a"/><path d="M192.9,619.8L194.2,614.3L196.0,619.8Z" fill="#3f8f1e"/><path d="M52.1,622.0L53.4,606.3L53.6,622.0Z" fill="#3f8f1e"/><path d="M653.2,618.8L652.8,605.2L655.1,618.8Z" fill="#5eac2e"/><path d="M438.2,620.8L440.3,605.5L439.9,620.8Z" fill="#489a22"/><path d="M48.1,622.5L48.0,617.2L49.6,622.5Z" fill="#56a42a"/><path d="M122.2,620.9L126.4,606.6L123.7,620.9Z" fill="#7cc242"/><path d="M505.5,616.6L509.1,609.5L507.4,616.6Z" fill="#56a42a"/><path d="M88.3,624.9L87.0,610.7L89.6,624.9Z" fill="#5eac2e"/><path d="M384.1,620.8L387.2,606.8L387.1,620.8Z" fill="#489a22"/><path d="M334.4,619.0L334.0,612.3L336.8,619.0Z" fill="#5eac2e"/><path d="M91.8,615.2L93.9,608.7L93.8,615.2Z" fill="#4fa326"/><path d="M580.5,618.7L580.1,611.3L581.7,618.7Z" fill="#52a028"/><path d="M583.1,623.0L582.6,613.3L585.6,623.0Z" fill="#398419"/><path d="M483.2,624.5L480.8,618.8L486.3,624.5Z" fill="#6cb838"/><path d="M616.7,614.3L617.4,606.0L619.0,614.3Z" fill="#56a42a"/><path d="M385.0,618.6L386.2,607.6L387.0,618.6Z" fill="#398419"/><path d="M619.9,624.1L624.8,608.4L622.3,624.1Z" fill="#4fa326"/><path d="M492.0,616.6L493.5,604.4L494.0,616.6Z" fill="#56a42a"/><path d="M324.7,621.1L325.0,612.8L327.7,621.1Z" fill="#4fa326"/><path d="M578.6,615.1L580.9,602.0L580.1,615.1Z" fill="#52a028"/><path d="M250.1,620.1L251.6,610.6L252.5,620.1Z" fill="#64b232"/><path d="M173.5,615.2L172.5,599.5L176.2,615.2Z" fill="#489a22"/><path d="M588.2,615.5L589.3,609.5L589.9,615.5Z" fill="#3f8f1e"/><path d="M150.1,618.4L153.0,607.5L152.7,618.4Z" fill="#52a028"/><path d="M384.8,623.9L388.0,611.4L386.3,623.9Z" fill="#398419"/><path d="M372.7,622.0L371.3,608.7L375.9,622.0Z" fill="#398419"/><path d="M63.8,623.6L62.7,614.3L66.9,623.6Z" fill="#52a028"/><path d="M321.3,613.3L323.3,604.2L323.4,613.3Z" fill="#4fa326"/><path d="M250.6,612.2L249.3,600.7L252.4,612.2Z" fill="#6cb838"/><path d="M287.3,624.4L291.5,612.6L289.7,624.4Z" fill="#56a42a"/><path d="M109.5,622.4L112.9,613.7L112.0,622.4Z" fill="#7cc242"/><path d="M78.2,617.2L83.1,604.1L80.9,617.2Z" fill="#4fa326"/><path d="M556.4,616.9L556.2,608.0L558.8,616.9Z" fill="#4fa326"/><path d="M631.5,621.5L630.1,613.7L633.6,621.5Z" fill="#52a028"/><path d="M297.2,623.1L294.7,612.7L298.9,623.1Z" fill="#6cb838"/><path d="M376.1,616.1L375.9,603.5L377.6,616.1Z" fill="#7cc242"/><path d="M365.4,621.7L369.6,607.8L366.6,621.7Z" fill="#56a42a"/><path d="M678.8,618.8L676.5,608.5L681.6,618.8Z" fill="#5eac2e"/><path d="M119.5,623.5L119.7,611.0L121.7,623.5Z" fill="#6cb838"/><path d="M471.3,618.3L476.1,610.8L473.5,618.3Z" fill="#56a42a"/><path d="M221.2,615.0L222.6,600.2L222.5,615.0Z" fill="#6cb838"/><path d="M557.9,622.2L559.2,613.5L561.0,622.2Z" fill="#56a42a"/><path d="M-1.9,620.1L-4.7,611.4L0.2,620.1Z" fill="#52a028"/><path d="M25.4,614.0L24.4,601.7L27.1,614.0Z" fill="#398419"/><path d="M677.3,617.0L678.7,605.7L678.8,617.0Z" fill="#4fa326"/><path d="M624.4,624.6L623.1,618.6L626.5,624.6Z" fill="#52a028"/><path d="M430.8,617.1L434.6,609.0L433.7,617.1Z" fill="#6cb838"/><path d="M463.3,616.3L466.4,602.9L465.5,616.3Z" fill="#88cc4c"/><path d="M162.6,624.2L162.6,611.3L165.2,624.2Z" fill="#88cc4c"/><path d="M216.8,625.8L216.6,615.5L218.5,625.8Z" fill="#489a22"/><path d="M680.4,614.1L684.8,606.9L683.0,614.1Z" fill="#64b232"/><path d="M301.3,620.0L299.3,611.6L302.6,620.0Z" fill="#7cc242"/><path d="M489.4,615.5L492.2,604.2L492.5,615.5Z" fill="#5eac2e"/><path d="M628.5,620.2L627.2,614.3L630.9,620.2Z" fill="#3f8f1e"/><path d="M240.3,622.8L243.9,613.1L241.6,622.8Z" fill="#3f8f1e"/><path d="M213.6,614.5L215.3,599.6L216.3,614.5Z" fill="#88cc4c"/><path d="M178.9,621.9L178.9,614.5L180.5,621.9Z" fill="#52a028"/><path d="M189.1,619.0L187.7,612.9L190.4,619.0Z" fill="#6cb838"/><path d="M408.2,613.1L412.1,599.2L410.0,613.1Z" fill="#6cb838"/><path d="M-2.4,615.8L-5.4,603.7L-0.6,615.8Z" fill="#4fa326"/><path d="M140.2,616.6L142.4,603.3L142.2,616.6Z" fill="#88cc4c"/><path d="M545.8,614.4L548.8,599.9L547.1,614.4Z" fill="#52a028"/><path d="M224.4,618.9L223.5,607.3L226.5,618.9Z" fill="#4fa326"/><path d="M11.7,616.4L11.2,604.2L13.8,616.4Z" fill="#56a42a"/><path d="M101.5,612.3L103.2,604.9L104.4,612.3Z" fill="#56a42a"/><path d="M554.7,617.9L556.6,607.0L557.0,617.9Z" fill="#88cc4c"/><path d="M669.8,620.0L672.1,612.5L672.6,620.0Z" fill="#3f8f1e"/><path d="M519.3,622.9L523.1,614.5L522.5,622.9Z" fill="#3f8f1e"/><path d="M379.5,617.1L378.5,606.2L381.2,617.1Z" fill="#398419"/><path d="M321.2,621.2L321.7,607.7L324.4,621.2Z" fill="#489a22"/><path d="M270.5,625.7L272.2,610.4L271.9,625.7Z" fill="#398419"/><path d="M339.8,619.8L344.3,612.8L341.7,619.8Z" fill="#6cb838"/><path d="M615.9,624.2L619.3,609.8L618.2,624.2Z" fill="#56a42a"/><path d="M529.9,615.4L531.1,599.6L532.4,615.4Z" fill="#56a42a"/><path d="M615.2,617.4L618.1,610.1L616.4,617.4Z" fill="#88cc4c"/><path d="M498.8,612.9L499.5,600.8L501.8,612.9Z" fill="#4fa326"/><path d="M150.9,617.3L151.2,602.3L153.4,617.3Z" fill="#489a22"/><path d="M15.2,612.3L14.1,599.5L17.1,612.3Z" fill="#56a42a"/><path d="M517.2,621.0L522.0,612.7L518.9,621.0Z" fill="#52a028"/><path d="M538.3,618.7L542.0,603.4L541.4,618.7Z" fill="#6cb838"/><path d="M560.4,616.0L561.8,607.3L563.4,616.0Z" fill="#6cb838"/><path d="M214.7,620.5L213.0,605.0L216.0,620.5Z" fill="#489a22"/><path d="M580.5,622.3L583.8,616.8L582.6,622.3Z" fill="#64b232"/><path d="M589.6,625.9L586.5,617.7L591.0,625.9Z" fill="#4fa326"/><path d="M85.6,616.2L85.7,605.7L88.3,616.2Z" fill="#3f8f1e"/><path d="M464.1,613.3L468.8,604.5L466.7,613.3Z" fill="#56a42a"/><path d="M668.7,612.5L672.3,604.9L671.3,612.5Z" fill="#4fa326"/><path d="M86.6,620.3L89.5,609.0L89.2,620.3Z" fill="#4fa326"/><path d="M676.6,616.4L674.6,601.8L678.7,616.4Z" fill="#6cb838"/><path d="M355.8,612.0L357.3,604.6L358.2,612.0Z" fill="#398419"/><path d="M338.5,613.6L340.0,604.7L341.5,613.6Z" fill="#56a42a"/><path d="M663.0,623.9L661.5,608.3L664.3,623.9Z" fill="#6cb838"/><path d="M4.8,615.8L3.0,600.1L6.1,615.8Z" fill="#398419"/><path d="M649.8,615.7L647.2,607.2L651.9,615.7Z" fill="#7cc242"/><path d="M371.8,621.7L376.1,605.9L374.4,621.7Z" fill="#64b232"/><path d="M284.4,619.6L282.9,610.3L287.1,619.6Z" fill="#64b232"/><path d="M547.7,624.6L546.7,612.6L549.9,624.6Z" fill="#7cc242"/><path d="M471.7,622.2L475.5,606.3L474.2,622.2Z" fill="#5eac2e"/><path d="M574.6,623.0L572.3,608.0L577.2,623.0Z" fill="#56a42a"/><path d="M465.7,618.2L466.5,605.8L468.0,618.2Z" fill="#3f8f1e"/><path d="M507.5,623.9L509.9,613.3L510.7,623.9Z" fill="#489a22"/><path d="M562.8,623.1L562.3,608.5L564.1,623.1Z" fill="#398419"/><path d="M177.2,621.2L175.1,607.1L180.0,621.2Z" fill="#88cc4c"/><path d="M147.8,620.6L152.1,612.7L149.9,620.6Z" fill="#56a42a"/><path d="M353.2,618.7L351.8,611.2L356.2,618.7Z" fill="#398419"/><path d="M244.6,614.9L244.8,608.0L247.1,614.9Z" fill="#6cb838"/><path d="M559.8,618.4L563.9,606.4L562.8,618.4Z" fill="#4fa326"/><path d="M215.8,617.1L216.3,602.6L217.8,617.1Z" fill="#7cc242"/><path d="M252.6,617.1L253.7,604.8L254.4,617.1Z" fill="#88cc4c"/><path d="M54.6,617.5L57.2,601.6L56.7,617.5Z" fill="#3f8f1e"/><path d="M497.7,614.4L494.5,603.8L499.2,614.4Z" fill="#3f8f1e"/><path d="M352.8,615.3L352.5,606.2L354.7,615.3Z" fill="#4fa326"/><path d="M377.3,612.0L378.9,604.2L379.1,612.0Z" fill="#398419"/><path d="M183.5,616.5L186.9,608.9L184.9,616.5Z" fill="#88cc4c"/><path d="M334.1,613.2L338.6,606.8L335.8,613.2Z" fill="#56a42a"/><path d="M627.9,622.0L625.6,612.9L630.6,622.0Z" fill="#64b232"/><path d="M290.5,620.5L289.8,612.7L293.4,620.5Z" fill="#6cb838"/><path d="M631.2,614.7L633.9,599.0L633.2,614.7Z" fill="#88cc4c"/><path d="M134.0,624.0L134.5,618.2L135.9,624.0Z" fill="#64b232"/><path d="M336.0,624.6L333.4,611.3L338.3,624.6Z" fill="#3f8f1e"/><path d="M638.5,621.8L643.2,612.0L640.0,621.8Z" fill="#5eac2e"/><path d="M296.8,618.9L300.6,608.2L299.3,618.9Z" fill="#489a22"/><path d="M270.4,612.6L272.2,600.1L273.1,612.6Z" fill="#3f8f1e"/><path d="M75.7,615.1L78.9,609.2L77.1,615.1Z" fill="#5eac2e"/><path d="M578.6,615.0L582.0,605.0L580.2,615.0Z" fill="#56a42a"/><path d="M326.5,612.8L327.0,600.2L328.8,612.8Z" fill="#64b232"/><path d="M556.7,624.2L556.5,617.6L558.9,624.2Z" fill="#4fa326"/><path d="M122.3,619.5L119.9,608.8L124.2,619.5Z" fill="#88cc4c"/><path d="M586.1,619.8L586.1,609.2L587.4,619.8Z" fill="#7cc242"/><path d="M165.3,617.3L166.5,607.5L167.1,617.3Z" fill="#6cb838"/><path d="M29.8,619.5L30.6,610.4L32.0,619.5Z" fill="#52a028"/><path d="M91.0,625.0L92.0,616.3L93.7,625.0Z" fill="#88cc4c"/><path d="M29.1,616.4L29.5,605.5L31.4,616.4Z" fill="#56a42a"/><path d="M18.5,615.1L16.9,605.2L20.1,615.1Z" fill="#52a028"/><path d="M415.0,617.7L413.4,604.7L416.6,617.7Z" fill="#6cb838"/><path d="M293.2,620.9L296.7,615.4L294.5,620.9Z" fill="#52a028"/><path d="M336.8,612.2L339.4,599.3L338.3,612.2Z" fill="#489a22"/><path d="M457.8,621.4L457.0,613.2L460.7,621.4Z" fill="#6cb838"/><path d="M529.9,622.0L530.5,611.3L531.5,622.0Z" fill="#5eac2e"/><path d="M648.6,617.8L648.2,605.6L651.7,617.8Z" fill="#88cc4c"/><path d="M286.8,624.2L284.6,609.0L288.3,624.2Z" fill="#3f8f1e"/><path d="M196.2,615.3L195.9,603.9L198.5,615.3Z" fill="#6cb838"/><path d="M206.7,615.6L206.0,604.6L209.8,615.6Z" fill="#88cc4c"/><path d="M669.0,617.5L669.3,612.1L671.5,617.5Z" fill="#489a22"/><path d="M445.4,621.7L443.4,614.5L447.0,621.7Z" fill="#56a42a"/><path d="M461.2,613.6L459.7,599.5L464.3,613.6Z" fill="#88cc4c"/><path d="M640.9,619.4L641.1,611.2L643.6,619.4Z" fill="#3f8f1e"/><path d="M606.9,624.8L606.0,617.6L608.7,624.8Z" fill="#52a028"/><path d="M366.1,613.2L365.7,606.7L369.0,613.2Z" fill="#489a22"/><path d="M393.2,616.2L390.6,604.8L394.4,616.2Z" fill="#489a22"/><path d="M644.6,621.2L644.4,615.6L646.7,621.2Z" fill="#489a22"/><path d="M220.7,617.1L224.7,610.9L223.5,617.1Z" fill="#398419"/><path d="M307.5,622.5L305.8,616.2L309.5,622.5Z" fill="#4fa326"/><path d="M17.5,619.2L19.4,613.1L19.0,619.2Z" fill="#52a028"/><path d="M570.9,613.1L573.7,600.1L572.8,613.1Z" fill="#88cc4c"/><path d="M642.6,616.6L646.7,602.4L644.8,616.6Z" fill="#6cb838"/><path d="M174.2,613.5L172.2,605.9L175.9,613.5Z" fill="#398419"/><path d="M74.9,618.5L76.3,611.7L77.1,618.5Z" fill="#56a42a"/><path d="M647.6,616.0L653.0,604.9L650.6,616.0Z" fill="#398419"/><path d="M339.6,624.5L344.3,619.3L341.8,624.5Z" fill="#52a028"/><path d="M138.9,622.4L137.7,616.5L141.8,622.4Z" fill="#4fa326"/><path d="M286.4,620.7L287.7,614.5L287.9,620.7Z" fill="#88cc4c"/><path d="M392.3,615.3L395.9,603.7L394.9,615.3Z" fill="#4fa326"/><path d="M560.1,613.0L557.7,604.3L561.7,613.0Z" fill="#6cb838"/><path d="M554.8,616.8L556.0,602.9L557.8,616.8Z" fill="#4fa326"/><path d="M212.4,625.0L210.0,611.4L215.1,625.0Z" fill="#6cb838"/><path d="M499.8,621.5L499.3,614.8L501.3,621.5Z" fill="#489a22"/><path d="M631.7,621.6L628.8,608.8L632.9,621.6Z" fill="#3f8f1e"/><path d="M19.8,619.4L17.5,610.7L22.2,619.4Z" fill="#5eac2e"/><path d="M131.4,620.8L134.4,606.4L132.8,620.8Z" fill="#56a42a"/><path d="M395.4,623.2L398.7,612.8L397.6,623.2Z" fill="#7cc242"/><path d="M564.4,625.1L567.7,610.2L567.2,625.1Z" fill="#88cc4c"/><path d="M400.3,618.1L404.0,604.0L403.2,618.1Z" fill="#7cc242"/><path d="M509.7,620.3L511.4,608.1L511.1,620.3Z" fill="#7cc242"/><path d="M511.1,623.9L512.9,616.2L513.4,623.9Z" fill="#3f8f1e"/><path d="M389.9,625.1L387.6,610.3L392.4,625.1Z" fill="#64b232"/><path d="M540.8,621.6L544.4,606.2L542.8,621.6Z" fill="#5eac2e"/><path d="M150.8,621.4L153.6,607.7L153.8,621.4Z" fill="#64b232"/><path d="M540.6,612.1L537.5,601.7L542.1,612.1Z" fill="#3f8f1e"/><path d="M282.6,620.5L282.1,610.4L284.3,620.5Z" fill="#56a42a"/><path d="M264.8,618.5L265.1,613.2L268.0,618.5Z" fill="#6cb838"/><path d="M477.4,618.2L480.6,605.9L478.8,618.2Z" fill="#88cc4c"/><path d="M426.2,617.3L426.2,602.4L428.0,617.3Z" fill="#6cb838"/><path d="M243.2,615.1L245.6,600.4L246.2,615.1Z" fill="#64b232"/><path d="M206.4,616.5L209.9,601.8L208.8,616.5Z" fill="#6cb838"/><path d="M263.5,612.1L261.2,597.7L265.2,612.1Z" fill="#52a028"/><path d="M551.5,615.5L549.5,606.6L553.8,615.5Z" fill="#398419"/><path d="M452.9,613.9L452.0,600.6L455.0,613.9Z" fill="#398419"/><path d="M423.7,618.2L423.8,602.7L426.2,618.2Z" fill="#88cc4c"/><path d="M466.6,625.1L464.3,611.2L469.1,625.1Z" fill="#3f8f1e"/><path d="M244.3,625.7L248.3,620.0L246.9,625.7Z" fill="#398419"/><path d="M253.7,616.4L252.1,605.7L256.1,616.4Z" fill="#3f8f1e"/><path d="M17.7,616.6L22.8,610.0L20.7,616.6Z" fill="#6cb838"/><path d="M123.5,624.9L128.3,614.3L125.1,624.9Z" fill="#52a028"/><path d="M435.8,615.9L435.3,602.5L438.1,615.9Z" fill="#64b232"/><path d="M371.5,617.7L376.3,611.8L374.0,617.7Z" fill="#3f8f1e"/><path d="M657.8,621.9L656.7,609.3L659.3,621.9Z" fill="#52a028"/><path d="M335.8,612.7L339.7,601.8L337.4,612.7Z" fill="#4fa326"/><path d="M106.1,622.3L105.2,615.5L107.4,622.3Z" fill="#7cc242"/><path d="M663.5,622.9L665.9,613.9L665.2,622.9Z" fill="#3f8f1e"/><path d="M130.1,616.5L127.8,606.7L131.8,616.5Z" fill="#64b232"/><path d="M213.7,623.1L212.1,612.9L216.7,623.1Z" fill="#52a028"/><path d="M304.3,623.7L307.4,611.7L306.1,623.7Z" fill="#6cb838"/><path d="M186.2,619.5L189.9,607.2L188.2,619.5Z" fill="#5eac2e"/><path d="M183.9,617.1L185.0,602.0L185.6,617.1Z" fill="#88cc4c"/><path d="M77.1,618.3L78.7,613.2L79.7,618.3Z" fill="#7cc242"/><path d="M238.0,625.2L236.6,617.2L239.3,625.2Z" fill="#398419"/><path d="M60.1,620.4L64.1,606.3L62.7,620.4Z" fill="#7cc242"/><path d="M108.6,614.5L111.3,601.5L110.0,614.5Z" fill="#64b232"/><path d="M265.8,625.2L265.5,612.0L267.8,625.2Z" fill="#56a42a"/><path d="M234.8,614.6L236.2,600.0L237.1,614.6Z" fill="#88cc4c"/><path d="M632.4,616.0L635.3,608.7L635.4,616.0Z" fill="#5eac2e"/><path d="M340.0,623.9L341.6,611.6L342.0,623.9Z" fill="#52a028"/><path d="M496.4,623.0L499.9,610.5L497.8,623.0Z" fill="#489a22"/><path d="M456.2,622.6L460.9,612.1L459.2,622.6Z" fill="#88cc4c"/><path d="M256.5,616.0L260.5,603.9L258.5,616.0Z" fill="#7cc242"/><path d="M484.4,622.8L485.7,611.1L486.8,622.8Z" fill="#489a22"/><path d="M207.4,617.0L211.2,605.8L208.8,617.0Z" fill="#4fa326"/><path d="M476.3,613.0L475.5,598.8L477.5,613.0Z" fill="#88cc4c"/><path d="M520.2,618.3L525.2,607.7L522.6,618.3Z" fill="#52a028"/><path d="M550.5,612.6L548.2,598.5L552.1,612.6Z" fill="#88cc4c"/><path d="M638.9,625.5L637.9,614.7L641.2,625.5Z" fill="#489a22"/><path d="M188.3,625.6L190.8,614.3L189.9,625.6Z" fill="#6cb838"/><path d="M13.3,619.1L11.1,609.4L15.8,619.1Z" fill="#5eac2e"/><path d="M397.2,617.6L398.7,607.0L398.8,617.6Z" fill="#4fa326"/><path d="M548.4,625.5L553.0,616.8L549.7,625.5Z" fill="#3f8f1e"/><path d="M390.4,618.0L394.6,602.4L392.8,618.0Z" fill="#489a22"/><path d="M229.6,614.7L228.7,605.2L231.2,614.7Z" fill="#398419"/><path d="M5.0,622.9L8.3,609.2L7.8,622.9Z" fill="#489a22"/><path d="M379.5,621.8L383.0,606.1L382.6,621.8Z" fill="#52a028"/><path d="M489.3,612.9L486.8,605.6L492.2,612.9Z" fill="#88cc4c"/><path d="M364.6,619.8L366.0,607.9L366.4,619.8Z" fill="#56a42a"/><path d="M204.2,612.6L204.5,605.7L207.2,612.6Z" fill="#3f8f1e"/><path d="M525.9,616.8L526.3,602.4L528.9,616.8Z" fill="#3f8f1e"/><path d="M676.1,624.8L677.3,611.0L678.9,624.8Z" fill="#6cb838"/><path d="M579.7,619.4L579.7,611.6L581.6,619.4Z" fill="#88cc4c"/><path d="M8.0,624.7L13.2,611.9L11.2,624.7Z" fill="#64b232"/><path d="M527.5,622.2L531.7,615.4L529.6,622.2Z" fill="#6cb838"/><path d="M3.3,615.0L2.9,603.6L4.5,615.0Z" fill="#5eac2e"/><path d="M313.8,612.6L314.8,597.8L315.2,612.6Z" fill="#56a42a"/><path d="M226.7,619.8L230.3,609.8L229.7,619.8Z" fill="#4fa326"/><path d="M161.5,624.7L159.5,615.5L163.9,624.7Z" fill="#6cb838"/><path d="M644.7,618.2L649.3,606.9L647.3,618.2Z" fill="#3f8f1e"/><path d="M519.0,620.0L522.7,607.1L520.6,620.0Z" fill="#88cc4c"/><path d="M457.3,622.0L459.8,614.4L459.9,622.0Z" fill="#3f8f1e"/><path d="M411.2,613.7L411.5,603.2L413.8,613.7Z" fill="#489a22"/><path d="M-3.0,619.9L-3.8,606.7L-0.3,619.9Z" fill="#88cc4c"/><path d="M20.7,613.3L23.8,597.6L22.0,613.3Z" fill="#4fa326"/><path d="M271.3,625.2L274.2,609.6L272.6,625.2Z" fill="#398419"/><path d="M434.4,624.9L432.2,617.0L435.6,624.9Z" fill="#5eac2e"/><path d="M517.2,624.4L515.4,618.3L519.4,624.4Z" fill="#52a028"/><path d="M346.3,613.5L351.0,599.8L349.4,613.5Z" fill="#4fa326"/><path d="M43.5,612.4L41.4,600.3L45.9,612.4Z" fill="#52a028"/><path d="M403.5,623.2L401.1,617.3L405.8,623.2Z" fill="#7cc242"/><path d="M309.1,621.4L307.6,610.2L310.7,621.4Z" fill="#398419"/><path d="M553.4,618.4L555.4,612.1L555.0,618.4Z" fill="#64b232"/><path d="M671.2,620.6L672.7,614.6L673.8,620.6Z" fill="#5eac2e"/><path d="M497.1,623.9L494.9,609.6L499.1,623.9Z" fill="#7cc242"/><path d="M207.1,616.1L208.7,605.7L209.0,616.1Z" fill="#489a22"/><path d="M-1.4,613.0L1.3,606.8L1.0,613.0Z" fill="#398419"/><path d="M259.7,625.8L261.1,610.6L261.3,625.8Z" fill="#5eac2e"/><path d="M622.7,623.7L620.2,610.8L625.2,623.7Z" fill="#64b232"/><path d="M546.1,612.8L545.3,601.0L547.8,612.8Z" fill="#6cb838"/><path d="M168.4,616.2L167.7,607.4L169.8,616.2Z" fill="#3f8f1e"/><path d="M106.0,625.3L107.0,613.0L108.5,625.3Z" fill="#56a42a"/><path d="M183.1,615.5L180.1,606.0L184.8,615.5Z" fill="#56a42a"/><path d="M628.0,616.6L631.7,603.1L631.0,616.6Z" fill="#5eac2e"/><path d="M360.3,613.5L360.1,599.4L362.8,613.5Z" fill="#56a42a"/><path d="M38.6,613.7L37.0,603.7L39.9,613.7Z" fill="#88cc4c"/><path d="M364.7,625.1L369.3,615.6L367.3,625.1Z" fill="#88cc4c"/><path d="M56.1,615.0L60.0,606.8L57.4,615.0Z" fill="#7cc242"/><path d="M291.0,613.7L293.1,598.2L293.4,613.7Z" fill="#6cb838"/><path d="M470.0,622.4L468.8,609.2L471.7,622.4Z" fill="#4fa326"/><path d="M57.0,624.1L59.2,612.1L59.5,624.1Z" fill="#52a028"/><path d="M92.2,613.0L92.0,607.2L93.5,613.0Z" fill="#5eac2e"/><path d="M362.8,613.0L364.5,607.2L365.4,613.0Z" fill="#88cc4c"/><path d="M662.2,621.6L665.2,613.6L663.8,621.6Z" fill="#5eac2e"/><path d="M169.1,617.5L168.0,604.9L172.2,617.5Z" fill="#5eac2e"/><path d="M587.5,618.4L586.1,609.9L589.4,618.4Z" fill="#489a22"/><path d="M67.2,614.9L67.1,606.1L69.7,614.9Z" fill="#489a22"/><path d="M44.1,613.3L46.3,599.6L46.0,613.3Z" fill="#7cc242"/><path d="M118.5,614.0L123.3,607.9L120.4,614.0Z" fill="#88cc4c"/><path d="M55.4,620.2L54.7,614.5L57.2,620.2Z" fill="#6cb838"/><path d="M639.0,617.0L637.4,606.0L640.9,617.0Z" fill="#7cc242"/><path d="M248.8,614.3L253.2,602.0L251.8,614.3Z" fill="#6cb838"/><path d="M190.8,617.3L189.3,603.9L192.4,617.3Z" fill="#489a22"/><path d="M519.6,623.9L523.6,616.3L521.3,623.9Z" fill="#4fa326"/><path d="M29.2,621.3L27.7,607.1L30.5,621.3Z" fill="#3f8f1e"/><path d="M329.8,613.5L330.8,602.4L331.8,613.5Z" fill="#3f8f1e"/><path d="M324.7,614.4L324.9,606.9L326.1,614.4Z" fill="#5eac2e"/><path d="M177.7,618.2L177.0,610.6L179.0,618.2Z" fill="#398419"/><path d="M146.7,622.4L151.2,611.2L149.8,622.4Z" fill="#64b232"/><path d="M70.1,625.2L68.7,614.4L71.6,625.2Z" fill="#56a42a"/><path d="M140.3,613.2L144.7,605.2L142.4,613.2Z" fill="#6cb838"/><path d="M45.0,618.3L43.9,609.8L47.5,618.3Z" fill="#56a42a"/><path d="M40.8,621.8L40.0,611.6L43.1,621.8Z" fill="#88cc4c"/><path d="M443.6,619.2L444.7,613.9L446.2,619.2Z" fill="#398419"/><path d="M440.8,622.8L438.9,610.5L442.7,622.8Z" fill="#64b232"/><path d="M547.7,625.2L551.6,612.1L549.7,625.2Z" fill="#88cc4c"/><path d="M119.5,615.2L123.4,603.6L120.9,615.2Z" fill="#489a22"/><path d="M579.8,616.0L583.4,600.3L581.6,616.0Z" fill="#56a42a"/><path d="M396.3,625.2L398.3,615.7L397.5,625.2Z" fill="#3f8f1e"/><path d="M154.5,618.7L159.2,608.1L156.7,618.7Z" fill="#489a22"/><path d="M421.4,615.0L420.6,600.9L424.6,615.0Z" fill="#3f8f1e"/><path d="M180.9,625.6L178.0,612.3L182.5,625.6Z" fill="#64b232"/><path d="M454.3,612.3L453.0,603.2L457.1,612.3Z" fill="#4fa326"/><path d="M100.5,623.4L101.5,611.7L102.8,623.4Z" fill="#64b232"/><path d="M89.1,615.4L93.5,609.0L90.6,615.4Z" fill="#6cb838"/><path d="M682.2,613.9L685.0,605.4L683.7,613.9Z" fill="#64b232"/><path d="M108.9,620.2L109.7,610.2L111.9,620.2Z" fill="#88cc4c"/><path d="M147.3,614.1L152.4,600.9L149.9,614.1Z" fill="#5eac2e"/><path d="M29.7,624.8L26.7,618.7L31.4,624.8Z" fill="#7cc242"/><path d="M513.2,614.5L510.7,607.9L515.1,614.5Z" fill="#7cc242"/><path d="M550.2,621.1L548.0,610.5L551.9,621.1Z" fill="#88cc4c"/><path d="M359.3,621.5L360.6,612.5L361.6,621.5Z" fill="#64b232"/><path d="M46.1,624.6L44.8,613.3L48.7,624.6Z" fill="#7cc242"/><path d="M436.9,617.8L436.4,602.2L439.8,617.8Z" fill="#4fa326"/><path d="M424.5,618.6L427.5,606.2L425.7,618.6Z" fill="#3f8f1e"/><path d="M228.2,622.7L232.4,607.1L230.3,622.7Z" fill="#56a42a"/><path d="M535.5,615.3L540.0,605.5L537.1,615.3Z" fill="#64b232"/><path d="M270.0,613.9L270.3,600.7L272.6,613.9Z" fill="#64b232"/><path d="M451.2,622.7L449.8,616.3L452.9,622.7Z" fill="#7cc242"/><path d="M71.7,619.1L73.9,604.4L74.2,619.1Z" fill="#3f8f1e"/><path d="M394.9,625.2L395.1,613.8L397.5,625.2Z" fill="#64b232"/><path d="M210.3,623.4L213.1,610.7L213.1,623.4Z" fill="#64b232"/><path d="M248.5,625.5L252.4,612.0L251.0,625.5Z" fill="#88cc4c"/><path d="M164.8,620.3L165.2,606.8L167.7,620.3Z" fill="#88cc4c"/><path d="M169.7,623.5L174.0,611.9L172.7,623.5Z" fill="#52a028"/><path d="M25.3,624.6L25.7,613.0L27.6,624.6Z" fill="#4fa326"/><path d="M42.7,612.1L44.8,605.2L43.9,612.1Z" fill="#489a22"/><path d="M114.6,624.6L113.1,611.0L115.9,624.6Z" fill="#5eac2e"/><path d="M637.8,625.6L637.6,618.9L640.1,625.6Z" fill="#56a42a"/><path d="M194.5,622.5L194.7,607.8L197.6,622.5Z" fill="#7cc242"/><path d="M106.1,613.3L108.5,601.4L107.8,613.3Z" fill="#56a42a"/><path d="M229.3,618.9L233.9,611.8L231.6,618.9Z" fill="#4fa326"/><path d="M512.0,623.7L511.0,614.1L513.2,623.7Z" fill="#7cc242"/><path d="M543.4,623.2L544.9,617.2L545.0,623.2Z" fill="#3f8f1e"/><path d="M547.7,623.1L545.7,615.5L550.2,623.1Z" fill="#52a028"/><path d="M293.6,612.2L292.8,596.9L296.5,612.2Z" fill="#3f8f1e"/><path d="M159.7,615.6L161.3,606.0L162.3,615.6Z" fill="#4fa326"/><path d="M151.3,612.3L150.3,601.7L154.0,612.3Z" fill="#3f8f1e"/><path d="M417.3,624.6L417.0,617.4L419.8,624.6Z" fill="#7cc242"/><path d="M84.1,612.9L84.1,602.8L86.7,612.9Z" fill="#88cc4c"/><path d="M654.2,623.1L654.1,614.7L656.9,623.1Z" fill="#4fa326"/><path d="M527.9,616.4L527.3,608.2L529.6,616.4Z" fill="#6cb838"/><path d="M636.2,624.3L634.5,614.2L637.6,624.3Z" fill="#398419"/><path d="M489.0,624.2L489.8,611.6L490.9,624.2Z" fill="#5eac2e"/><path d="M67.3,613.0L68.1,603.7L69.0,613.0Z" fill="#88cc4c"/><path d="M347.8,618.3L352.3,603.9L349.9,618.3Z" fill="#56a42a"/><path d="M363.0,622.9L362.1,609.9L364.3,622.9Z" fill="#3f8f1e"/><path d="M54.0,624.9L58.4,618.5L57.1,624.9Z" fill="#398419"/><path d="M83.2,618.5L82.2,606.7L84.5,618.5Z" fill="#88cc4c"/><path d="M525.4,618.1L525.2,612.2L526.7,618.1Z" fill="#4fa326"/><path d="M15.7,624.7L17.2,612.4L18.3,624.7Z" fill="#56a42a"/><path d="M107.2,619.4L105.3,605.3L108.8,619.4Z" fill="#64b232"/><path d="M481.6,617.1L482.4,602.3L483.9,617.1Z" fill="#5eac2e"/><path d="M172.8,622.4L177.1,607.6L174.9,622.4Z" fill="#6cb838"/><path d="M409.9,616.0L412.9,605.9L412.5,616.0Z" fill="#6cb838"/><path d="M509.9,624.8L514.0,614.4L512.2,624.8Z" fill="#489a22"/><path d="M12.5,619.2L15.6,605.2L15.6,619.2Z" fill="#52a028"/><path d="M215.5,614.4L215.1,601.2L217.1,614.4Z" fill="#64b232"/><path d="M32.5,612.0L32.6,604.5L35.2,612.0Z" fill="#7cc242"/><path d="M411.4,624.6L411.5,609.1L414.3,624.6Z" fill="#7cc242"/><path d="M648.4,616.2L648.4,604.4L650.2,616.2Z" fill="#489a22"/><path d="M2.5,621.5L5.8,608.1L4.8,621.5Z" fill="#489a22"/><path d="M557.1,621.0L561.0,615.4L558.7,621.0Z" fill="#6cb838"/><path d="M553.7,615.5L554.2,603.3L556.6,615.5Z" fill="#6cb838"/><path d="M158.7,622.0L156.7,609.6L161.7,622.0Z" fill="#6cb838"/><path d="M577.8,624.3L582.7,617.8L580.5,624.3Z" fill="#88cc4c"/><path d="M367.3,624.8L371.6,611.0L370.4,624.8Z" fill="#56a42a"/><path d="M317.7,618.5L321.7,605.2L320.3,618.5Z" fill="#56a42a"/><path d="M165.4,613.4L163.0,604.8L168.2,613.4Z" fill="#489a22"/><path d="M248.5,620.6L246.4,610.1L251.4,620.6Z" fill="#88cc4c"/><path d="M270.6,623.2L270.3,607.7L273.1,623.2Z" fill="#52a028"/><path d="M317.7,624.6L317.6,611.5L320.6,624.6Z" fill="#52a028"/><path d="M624.4,620.4L628.3,604.4L625.8,620.4Z" fill="#3f8f1e"/><path d="M280.9,624.3L279.6,612.0L282.9,624.3Z" fill="#56a42a"/><path d="M633.0,621.2L635.4,606.7L635.3,621.2Z" fill="#3f8f1e"/><path d="M401.4,618.1L401.5,605.2L402.8,618.1Z" fill="#398419"/><path d="M194.1,619.2L192.3,606.0L196.9,619.2Z" fill="#52a028"/><path d="M546.4,615.1L551.3,600.4L548.4,615.1Z" fill="#64b232"/><path d="M432.3,613.1L432.5,603.5L435.4,613.1Z" fill="#398419"/><path d="M498.2,614.6L499.5,603.6L500.8,614.6Z" fill="#6cb838"/><path d="M411.0,617.3L415.0,603.1L412.5,617.3Z" fill="#4fa326"/><path d="M621.2,619.7L625.1,606.4L623.1,619.7Z" fill="#4fa326"/><path d="M136.4,612.3L141.1,601.8L139.4,612.3Z" fill="#489a22"/><path d="M345.7,625.1L344.1,613.9L348.2,625.1Z" fill="#4fa326"/><path d="M286.0,620.4L285.2,612.6L288.1,620.4Z" fill="#398419"/><path d="M426.5,612.8L430.4,599.2L429.5,612.8Z" fill="#6cb838"/><path d="M509.8,615.3L510.8,607.5L511.4,615.3Z" fill="#52a028"/><path d="M114.8,624.2L117.3,608.5L116.2,624.2Z" fill="#3f8f1e"/><path d="M484.1,621.9L488.3,614.0L487.2,621.9Z" fill="#4fa326"/><path d="M330.0,612.0L334.5,597.5L333.0,612.0Z" fill="#398419"/><path d="M460.3,614.0L463.0,603.9L463.5,614.0Z" fill="#56a42a"/><path d="M274.8,622.1L274.1,606.1L277.8,622.1Z" fill="#56a42a"/><path d="M420.3,616.2L418.7,609.5L421.6,616.2Z" fill="#489a22"/><path d="M399.9,613.7L400.7,605.5L402.8,613.7Z" fill="#52a028"/><path d="M328.8,625.2L327.6,615.0L331.2,625.2Z" fill="#6cb838"/><path d="M339.0,615.3L338.7,606.4L340.3,615.3Z" fill="#5eac2e"/><path d="M238.0,618.0L240.5,609.1L240.0,618.0Z" fill="#6cb838"/><path d="M314.2,623.7L311.9,612.7L317.0,623.7Z" fill="#3f8f1e"/><path d="M238.2,620.8L238.4,605.7L240.3,620.8Z" fill="#7cc242"/><path d="M101.5,621.1L98.8,607.9L104.1,621.1Z" fill="#88cc4c"/><path d="M245.8,623.9L247.8,610.2L248.3,623.9Z" fill="#56a42a"/><path d="M546.0,614.2L548.1,603.1L547.8,614.2Z" fill="#6cb838"/><path d="M612.3,623.2L612.0,617.9L614.5,623.2Z" fill="#3f8f1e"/><path d="M182.9,619.3L184.6,614.1L185.6,619.3Z" fill="#56a42a"/><path d="M434.2,618.7L434.5,610.0L436.6,618.7Z" fill="#7cc242"/><path d="M5.3,623.2L9.0,617.5L7.8,623.2Z" fill="#4fa326"/><path d="M183.7,616.7L182.3,602.6L186.3,616.7Z" fill="#4fa326"/><path d="M46.3,614.9L44.3,601.8L48.1,614.9Z" fill="#489a22"/><path d="M33.2,615.7L36.4,602.6L36.2,615.7Z" fill="#6cb838"/><path d="M373.5,624.9L378.0,618.9L375.6,624.9Z" fill="#489a22"/><path d="M21.2,619.0L21.8,605.9L23.7,619.0Z" fill="#6cb838"/><path d="M405.6,625.7L402.8,620.3L407.1,625.7Z" fill="#4fa326"/><path d="M220.2,621.7L220.6,614.9L221.6,621.7Z" fill="#489a22"/><path d="M413.2,621.4L413.7,605.7L416.4,621.4Z" fill="#64b232"/><path d="M218.5,617.7L219.0,607.8L219.8,617.7Z" fill="#88cc4c"/><path d="M480.4,614.5L478.6,607.5L482.3,614.5Z" fill="#88cc4c"/><path d="M34.6,619.4L31.9,606.9L36.6,619.4Z" fill="#52a028"/><path d="M3.3,618.1L5.6,612.9L5.8,618.1Z" fill="#398419"/><path d="M644.2,624.0L645.5,609.0L645.7,624.0Z" fill="#6cb838"/><path d="M467.8,614.2L469.3,602.1L470.8,614.2Z" fill="#398419"/><path d="M641.0,623.8L643.4,614.8L642.6,623.8Z" fill="#64b232"/><path d="M495.3,617.7L500.5,602.2L498.4,617.7Z" fill="#52a028"/><path d="M105.3,624.5L110.1,617.4L106.9,624.5Z" fill="#88cc4c"/><path d="M537.1,623.5L539.5,607.6L538.9,623.5Z" fill="#398419"/><path d="M174.6,620.6L178.6,613.8L176.8,620.6Z" fill="#7cc242"/><path d="M585.8,625.8L589.1,615.4L587.1,625.8Z" fill="#64b232"/><path d="M518.3,620.0L520.1,605.0L520.4,620.0Z" fill="#4fa326"/><path d="M54.4,622.9L53.3,616.7L55.8,622.9Z" fill="#64b232"/><path d="M298.1,622.2L301.2,614.3L300.6,622.2Z" fill="#5eac2e"/><path d="M18.7,623.7L16.1,615.4L20.4,623.7Z" fill="#56a42a"/><path d="M135.4,619.1L136.9,608.6L138.1,619.1Z" fill="#88cc4c"/><path d="M516.1,618.4L516.8,603.9L519.2,618.4Z" fill="#3f8f1e"/><path d="M654.4,612.6L657.8,598.5L656.2,612.6Z" fill="#52a028"/><path d="M674.7,619.6L673.0,606.4L677.2,619.6Z" fill="#64b232"/><path d="M585.5,615.6L585.7,605.1L586.7,615.6Z" fill="#5eac2e"/><path d="M580.5,624.5L581.3,619.1L582.7,624.5Z" fill="#5eac2e"/><path d="M496.6,616.8L494.9,601.5L498.1,616.8Z" fill="#5eac2e"/><path d="M438.0,623.7L436.8,615.9L441.0,623.7Z" fill="#489a22"/><path d="M320.7,623.0L324.8,615.3L322.3,623.0Z" fill="#52a028"/><path d="M201.8,625.9L202.1,620.2L204.3,625.9Z" fill="#3f8f1e"/><path d="M140.6,617.8L139.7,607.7L141.9,617.8Z" fill="#64b232"/><path d="M153.3,618.5L158.6,604.4L156.4,618.5Z" fill="#6cb838"/><path d="M352.2,613.7L356.8,605.2L355.2,613.7Z" fill="#3f8f1e"/><path d="M317.4,625.1L315.3,613.9L319.6,625.1Z" fill="#52a028"/><path d="M220.6,616.8L220.4,610.8L222.0,616.8Z" fill="#6cb838"/><path d="M337.8,616.0L339.2,607.3L339.4,616.0Z" fill="#4fa326"/><path d="M213.0,618.4L213.6,602.9L215.0,618.4Z" fill="#88cc4c"/><path d="M472.7,618.7L471.8,603.5L475.8,618.7Z" fill="#88cc4c"/><path d="M455.0,617.0L455.0,605.4L458.1,617.0Z" fill="#489a22"/><path d="M483.0,620.2L481.4,610.6L484.4,620.2Z" fill="#398419"/><path d="M343.4,613.7L346.0,599.4L345.9,613.7Z" fill="#5eac2e"/><path d="M677.9,621.5L674.6,608.6L679.2,621.5Z" fill="#64b232"/><path d="M54.2,615.9L56.9,601.1L56.4,615.9Z" fill="#56a42a"/><path d="M616.0,620.3L612.9,606.2L617.6,620.3Z" fill="#6cb838"/><path d="M618.2,615.1L616.3,607.8L620.5,615.1Z" fill="#398419"/><path d="M653.3,621.4L657.9,612.2L654.6,621.4Z" fill="#52a028"/><path d="M566.3,625.7L569.1,619.5L568.0,625.7Z" fill="#6cb838"/><path d="M289.1,624.2L286.0,618.9L290.4,624.2Z" fill="#64b232"/><path d="M423.3,621.1L426.3,614.4L425.6,621.1Z" fill="#56a42a"/><path d="M627.5,617.2L625.6,606.2L629.0,617.2Z" fill="#5eac2e"/><path d="M399.3,623.2L400.5,616.5L401.7,623.2Z" fill="#398419"/><path d="M336.3,618.5L339.0,605.2L338.0,618.5Z" fill="#6cb838"/><path d="M157.3,622.6L160.7,614.9L159.0,622.6Z" fill="#5eac2e"/><path d="M569.6,620.2L570.0,610.5L570.8,620.2Z" fill="#88cc4c"/><path d="M678.2,612.7L676.8,596.8L679.5,612.7Z" fill="#6cb838"/><path d="M130.6,615.6L133.6,602.1L132.5,615.6Z" fill="#5eac2e"/><path d="M286.0,616.3L290.3,605.7L287.7,616.3Z" fill="#6cb838"/><path d="M112.4,618.0L110.4,602.8L114.7,618.0Z" fill="#6cb838"/><path d="M398.1,619.0L401.4,603.1L400.8,619.0Z" fill="#88cc4c"/><path d="M538.3,616.0L535.8,610.6L540.6,616.0Z" fill="#489a22"/><path d="M345.6,614.4L346.3,602.0L348.1,614.4Z" fill="#5eac2e"/><path d="M159.8,618.5L161.8,605.8L161.2,618.5Z" fill="#64b232"/><path d="M54.6,621.6L54.2,605.7L56.4,621.6Z" fill="#88cc4c"/><path d="M221.8,612.5L225.2,602.9L223.2,612.5Z" fill="#5eac2e"/><path d="M42.8,619.6L46.9,603.7L44.2,619.6Z" fill="#398419"/><path d="M462.7,615.5L467.2,609.5L465.0,615.5Z" fill="#3f8f1e"/><path d="M195.4,625.1L195.9,611.1L196.9,625.1Z" fill="#3f8f1e"/><path d="M294.7,621.2L293.8,616.0L297.9,621.2Z" fill="#4fa326"/><path d="M538.1,623.1L541.3,617.2L539.8,623.1Z" fill="#489a22"/><path d="M395.7,622.1L398.3,613.3L397.7,622.1Z" fill="#7cc242"/><path d="M105.3,618.1L103.5,611.2L107.6,618.1Z" fill="#64b232"/><path d="M589.5,620.9L593.8,614.2L592.1,620.9Z" fill="#5eac2e"/><path d="M550.1,613.3L548.8,605.9L553.0,613.3Z" fill="#5eac2e"/><path d="M596.3,625.9L600.9,617.4L599.0,625.9Z" fill="#52a028"/><path d="M298.4,625.4L302.2,611.7L300.7,625.4Z" fill="#7cc242"/><path d="M351.3,618.8L351.4,610.1L353.5,618.8Z" fill="#52a028"/><path d="M676.3,620.7L674.0,608.4L677.6,620.7Z" fill="#64b232"/><path d="M451.2,614.6L450.8,603.7L454.0,614.6Z" fill="#3f8f1e"/><path d="M532.0,619.2L536.5,611.5L534.2,619.2Z" fill="#64b232"/><path d="M369.0,616.1L366.1,602.0L370.7,616.1Z" fill="#56a42a"/><path d="M497.8,615.0L497.6,605.0L499.6,615.0Z" fill="#56a42a"/><path d="M52.8,617.0L57.0,604.8L56.0,617.0Z" fill="#64b232"/><path d="M445.1,621.5L447.6,609.5L446.9,621.5Z" fill="#4fa326"/><path d="M229.0,617.7L231.3,607.9L232.0,617.7Z" fill="#7cc242"/><path d="M547.8,615.2L546.1,606.5L550.6,615.2Z" fill="#6cb838"/><path d="M329.7,617.2L330.9,609.2L332.3,617.2Z" fill="#56a42a"/><path d="M578.9,624.1L579.2,614.3L580.8,624.1Z" fill="#88cc4c"/><path d="M119.9,614.2L124.7,606.1L122.8,614.2Z" fill="#56a42a"/><path d="M19.5,614.4L19.7,608.8L21.0,614.4Z" fill="#56a42a"/><path d="M344.3,613.6L345.9,605.6L347.5,613.6Z" fill="#7cc242"/><path d="M673.6,617.5L677.2,610.4L676.2,617.5Z" fill="#5eac2e"/><path d="M518.7,616.7L520.5,604.2L520.3,616.7Z" fill="#4fa326"/><path d="M392.9,620.0L391.0,612.5L395.5,620.0Z" fill="#489a22"/><path d="M155.1,620.2L154.3,608.9L156.4,620.2Z" fill="#56a42a"/><path d="M349.7,623.9L350.2,617.9L351.4,623.9Z" fill="#3f8f1e"/><path d="M208.8,617.8L212.7,608.8L210.2,617.8Z" fill="#64b232"/><path d="M159.6,624.0L161.3,616.3L161.6,624.0Z" fill="#4fa326"/><path d="M351.7,619.7L352.8,611.4L354.4,619.7Z" fill="#3f8f1e"/><path d="M673.8,612.8L672.9,603.6L676.3,612.8Z" fill="#52a028"/><path d="M574.5,619.7L577.6,610.4L576.0,619.7Z" fill="#7cc242"/><path d="M516.9,622.5L520.8,607.1L518.7,622.5Z" fill="#489a22"/><path d="M472.0,612.9L470.1,598.0L473.2,612.9Z" fill="#64b232"/><path d="M343.3,616.1L345.0,603.3L346.4,616.1Z" fill="#6cb838"/><path d="M62.9,619.4L62.4,613.1L65.2,619.4Z" fill="#489a22"/><path d="M598.5,617.0L600.6,608.3L600.8,617.0Z" fill="#7cc242"/><path d="M518.7,620.7L522.4,607.8L520.6,620.7Z" fill="#398419"/><path d="M436.4,613.9L434.0,601.5L437.9,613.9Z" fill="#4fa326"/><path d="M653.0,617.1L651.6,607.6L655.6,617.1Z" fill="#88cc4c"/><path d="M359.9,617.0L358.6,609.2L362.5,617.0Z" fill="#6cb838"/><path d="M567.4,617.2L564.4,604.2L569.0,617.2Z" fill="#56a42a"/><path d="M464.3,621.5L464.9,611.0L465.9,621.5Z" fill="#6cb838"/><path d="M40.4,614.4L44.0,607.4L42.6,614.4Z" fill="#52a028"/><path d="M524.7,621.2L524.1,606.7L526.9,621.2Z" fill="#3f8f1e"/><path d="M499.0,613.6L498.2,605.5L500.6,613.6Z" fill="#52a028"/><path d="M536.2,625.2L539.0,611.0L538.9,625.2Z" fill="#56a42a"/><path d="M383.9,622.5L385.0,613.5L387.0,622.5Z" fill="#4fa326"/><path d="M443.3,613.5L441.1,601.8L446.3,613.5Z" fill="#398419"/><path d="M495.2,615.7L494.1,601.4L498.1,615.7Z" fill="#398419"/><path d="M9.7,620.7L7.8,613.1L12.5,620.7Z" fill="#3f8f1e"/><path d="M361.1,624.1L365.2,616.8L363.0,624.1Z" fill="#4fa326"/><path d="M84.4,617.2L81.9,602.2L87.1,617.2Z" fill="#4fa326"/><path d="M103.5,616.1L108.4,608.0L106.5,616.1Z" fill="#489a22"/><path d="M675.5,618.2L675.2,604.4L678.5,618.2Z" fill="#4fa326"/><path d="M498.3,615.2L502.9,609.2L500.6,615.2Z" fill="#52a028"/><path d="M407.9,624.4L409.2,615.2L409.8,624.4Z" fill="#3f8f1e"/><path d="M565.0,625.2L564.7,617.7L568.1,625.2Z" fill="#398419"/><path d="M164.9,621.7L163.5,612.4L166.5,621.7Z" fill="#56a42a"/><path d="M311.6,616.9L314.0,606.5L314.3,616.9Z" fill="#56a42a"/><path d="M269.9,614.2L274.7,603.8L273.0,614.2Z" fill="#6cb838"/><path d="M355.4,614.2L356.3,599.1L357.6,614.2Z" fill="#489a22"/><path d="M444.5,615.5L448.6,604.2L446.3,615.5Z" fill="#56a42a"/><path d="M432.1,618.8L433.6,609.6L433.8,618.8Z" fill="#64b232"/><path d="M550.6,624.2L553.7,615.9L552.1,624.2Z" fill="#398419"/><path d="M408.5,620.8L411.7,614.4L410.3,620.8Z" fill="#5eac2e"/><path d="M535.5,621.5L536.3,607.5L538.1,621.5Z" fill="#64b232"/><path d="M124.5,613.4L125.4,603.9L126.0,613.4Z" fill="#489a22"/><path d="M437.7,618.1L435.8,610.0L440.3,618.1Z" fill="#489a22"/><path d="M105.0,620.2L107.3,613.1L107.2,620.2Z" fill="#5eac2e"/><path d="M5.2,625.0L2.8,617.8L7.9,625.0Z" fill="#52a028"/><path d="M64.0,618.1L69.1,603.7L66.4,618.1Z" fill="#52a028"/><path d="M151.2,620.0L151.2,607.9L153.4,620.0Z" fill="#5eac2e"/><path d="M669.4,614.2L668.9,605.8L672.3,614.2Z" fill="#5eac2e"/><path d="M35.5,620.0L33.9,605.1L37.1,620.0Z" fill="#7cc242"/><path d="M168.2,613.2L167.1,602.8L170.0,613.2Z" fill="#3f8f1e"/><path d="M147.4,615.4L148.1,600.7L150.1,615.4Z" fill="#4fa326"/><path d="M73.2,622.5L73.8,612.5L74.5,622.5Z" fill="#489a22"/><path d="M137.5,612.5L138.3,599.2L140.5,612.5Z" fill="#64b232"/><path d="M147.8,617.9L151.6,606.0L150.5,617.9Z" fill="#88cc4c"/><path d="M295.4,622.8L296.0,608.6L296.9,622.8Z" fill="#64b232"/><path d="M618.2,623.5L615.4,616.2L619.8,623.5Z" fill="#52a028"/><path d="M615.5,625.9L613.7,615.3L618.1,625.9Z" fill="#64b232"/><path d="M667.6,612.2L670.1,600.3L670.5,612.2Z" fill="#3f8f1e"/><path d="M557.0,624.2L559.6,614.5L560.0,624.2Z" fill="#6cb838"/><path d="M436.7,621.2L433.9,609.0L438.8,621.2Z" fill="#56a42a"/><path d="M352.5,615.2L349.6,609.5L353.9,615.2Z" fill="#4fa326"/><path d="M539.1,616.3L542.2,605.3L540.5,616.3Z" fill="#88cc4c"/><path d="M41.0,625.1L43.7,619.8L42.9,625.1Z" fill="#6cb838"/><path d="M418.8,620.9L422.7,607.8L420.3,620.9Z" fill="#3f8f1e"/><path d="M200.9,625.5L201.3,616.3L202.6,625.5Z" fill="#489a22"/><path d="M215.3,621.0L215.8,606.9L218.1,621.0Z" fill="#7cc242"/><path d="M568.2,620.2L567.8,608.0L571.2,620.2Z" fill="#6cb838"/><path d="M297.4,622.7L295.7,614.6L299.6,622.7Z" fill="#64b232"/><path d="M96.8,615.8L94.4,601.6L98.1,615.8Z" fill="#5eac2e"/><path d="M17.1,618.2L16.8,603.1L19.5,618.2Z" fill="#5eac2e"/><path d="M64.1,623.2L65.6,613.7L66.9,623.2Z" fill="#64b232"/><path d="M244.8,623.2L242.1,617.2L247.0,623.2Z" fill="#88cc4c"/><path d="M50.4,613.3L51.3,606.1L51.9,613.3Z" fill="#64b232"/><path d="M297.8,620.2L302.6,611.8L300.1,620.2Z" fill="#5eac2e"/><path d="M368.5,621.2L365.7,612.8L369.9,621.2Z" fill="#64b232"/><path d="M38.2,621.7L40.9,610.2L40.0,621.7Z" fill="#3f8f1e"/><path d="M193.5,620.0L194.0,614.8L195.3,620.0Z" fill="#398419"/><path d="M183.3,621.0L186.8,615.1L185.4,621.0Z" fill="#489a22"/><path d="M248.2,616.4L247.4,602.3L250.0,616.4Z" fill="#489a22"/><path d="M277.5,624.5L282.9,616.5L280.5,624.5Z" fill="#64b232"/><path d="M644.1,615.6L645.8,601.6L645.7,615.6Z" fill="#398419"/><path d="M439.8,623.3L437.9,612.2L442.7,623.3Z" fill="#6cb838"/><path d="M242.5,621.7L242.5,606.4L244.1,621.7Z" fill="#88cc4c"/><path d="M59.9,621.2L60.9,615.1L62.4,621.2Z" fill="#88cc4c"/><path d="M282.8,624.5L283.3,609.0L285.4,624.5Z" fill="#489a22"/><path d="M252.1,621.7L254.3,608.6L254.1,621.7Z" fill="#52a028"/><path d="M269.4,617.5L267.6,608.2L271.6,617.5Z" fill="#56a42a"/><path d="M677.5,618.5L676.8,604.3L680.2,618.5Z" fill="#398419"/><path d="M640.3,623.7L639.8,609.0L643.1,623.7Z" fill="#3f8f1e"/><path d="M223.3,620.4L227.2,604.6L224.8,620.4Z" fill="#398419"/><path d="M455.5,614.4L456.8,607.7L457.1,614.4Z" fill="#56a42a"/><path d="M589.3,619.3L591.3,612.8L592.4,619.3Z" fill="#56a42a"/><path d="M662.0,616.0L661.2,610.1L665.1,616.0Z" fill="#64b232"/><path d="M145.1,618.5L147.6,608.7L147.9,618.5Z" fill="#5eac2e"/><path d="M656.0,615.2L652.9,607.4L657.4,615.2Z" fill="#64b232"/><path d="M394.4,619.1L394.3,611.3L397.6,619.1Z" fill="#56a42a"/><path d="M389.2,612.4L392.5,598.2L391.6,612.4Z" fill="#88cc4c"/><path d="M483.5,623.3L485.3,610.7L486.3,623.3Z" fill="#6cb838"/><path d="M611.0,618.5L609.0,609.7L612.4,618.5Z" fill="#52a028"/><path d="M535.8,621.3L536.0,612.6L537.3,621.3Z" fill="#7cc242"/><path d="M384.8,616.6L384.5,601.4L386.2,616.6Z" fill="#56a42a"/><path d="M169.3,622.4L168.2,607.0L171.0,622.4Z" fill="#64b232"/><path d="M530.0,618.2L533.0,608.2L531.9,618.2Z" fill="#5eac2e"/><path d="M468.2,614.5L471.4,608.2L470.8,614.5Z" fill="#6cb838"/><path d="M138.4,614.9L136.9,602.6L140.3,614.9Z" fill="#3f8f1e"/><path d="M326.5,612.7L329.6,598.4L327.8,612.7Z" fill="#3f8f1e"/><path d="M46.4,618.3L47.2,613.1L48.4,618.3Z" fill="#5eac2e"/><path d="M279.2,623.9L280.7,610.3L280.8,623.9Z" fill="#7cc242"/><path d="M428.7,617.8L432.4,612.2L430.0,617.8Z" fill="#4fa326"/><path d="M412.5,626.0L411.8,618.7L413.7,626.0Z" fill="#5eac2e"/><path d="M574.2,623.9L575.2,609.5L576.4,623.9Z" fill="#56a42a"/><path d="M570.7,620.2L567.8,608.8L572.6,620.2Z" fill="#7cc242"/><path d="M276.3,625.4L277.3,614.9L277.8,625.4Z" fill="#5eac2e"/><path d="M272.4,613.4L276.0,600.4L274.8,613.4Z" fill="#5eac2e"/><path d="M498.3,618.6L501.9,605.1L500.1,618.6Z" fill="#52a028"/><path d="M598.9,621.3L603.6,613.3L601.7,621.3Z" fill="#489a22"/><path d="M235.9,618.6L238.1,612.4L238.3,618.6Z" fill="#4fa326"/><path d="M222.1,619.6L224.2,604.4L225.1,619.6Z" fill="#52a028"/><path d="M544.3,621.2L548.6,611.5L546.7,621.2Z" fill="#52a028"/><path d="M661.3,620.7L663.5,610.5L663.6,620.7Z" fill="#7cc242"/><path d="M646.8,612.2L650.5,603.7L648.1,612.2Z" fill="#489a22"/><path d="M15.3,621.1L14.2,607.3L17.3,621.1Z" fill="#489a22"/><path d="M507.5,622.1L510.9,606.3L510.0,622.1Z" fill="#6cb838"/><path d="M651.5,622.9L650.6,607.4L653.7,622.9Z" fill="#64b232"/><path d="M649.2,614.1L653.5,604.2L652.3,614.1Z" fill="#7cc242"/><path d="M638.0,612.3L639.5,604.3L641.1,612.3Z" fill="#6cb838"/><path d="M571.3,612.0L574.1,597.8L574.0,612.0Z" fill="#56a42a"/><path d="M220.7,614.2L220.5,607.7L223.3,614.2Z" fill="#52a028"/><path d="M599.0,623.9L602.1,613.9L601.2,623.9Z" fill="#5eac2e"/><path d="M143.8,625.2L142.2,611.2L145.0,625.2Z" fill="#7cc242"/><path d="M60.8,622.7L63.3,609.2L63.7,622.7Z" fill="#56a42a"/><path d="M667.8,613.8L670.4,606.8L669.7,613.8Z" fill="#6cb838"/><path d="M578.7,619.9L577.9,611.9L581.0,619.9Z" fill="#6cb838"/><path d="M417.9,617.2L420.1,610.5L419.1,617.2Z" fill="#5eac2e"/><path d="M132.6,616.3L132.6,611.2L135.3,616.3Z" fill="#88cc4c"/><path d="M315.6,623.4L313.4,616.7L317.5,623.4Z" fill="#6cb838"/><path d="M105.3,613.0L103.3,599.7L107.8,613.0Z" fill="#5eac2e"/><path d="M80.4,618.4L85.2,612.8L82.8,618.4Z" fill="#5eac2e"/><path d="M15.1,616.8L18.7,609.1L17.7,616.8Z" fill="#3f8f1e"/><path d="M360.5,621.8L360.4,615.4L362.3,621.8Z" fill="#7cc242"/><path d="M195.4,613.6L195.7,603.8L197.0,613.6Z" fill="#88cc4c"/><path d="M542.3,616.3L539.8,604.4L543.8,616.3Z" fill="#5eac2e"/><path d="M384.8,624.1L383.6,616.3L386.2,624.1Z" fill="#398419"/><path d="M477.3,621.0L475.5,610.4L478.5,621.0Z" fill="#64b232"/><path d="M569.7,625.5L572.0,616.7L572.0,625.5Z" fill="#5eac2e"/><path d="M630.2,621.2L631.2,612.9L632.0,621.2Z" fill="#3f8f1e"/><path d="M566.0,616.0L569.4,601.4L568.4,616.0Z" fill="#52a028"/><path d="M658.0,613.9L660.6,598.8L660.9,613.9Z" fill="#64b232"/><path d="M482.6,623.2L484.0,615.2L484.8,623.2Z" fill="#489a22"/><path d="M287.9,612.3L291.1,596.3L290.5,612.3Z" fill="#88cc4c"/><path d="M497.6,613.2L496.4,597.5L499.6,613.2Z" fill="#64b232"/><path d="M250.0,621.3L250.7,608.7L252.1,621.3Z" fill="#64b232"/><path d="M68.0,613.0L69.7,602.3L70.1,613.0Z" fill="#64b232"/><path d="M449.3,620.0L448.5,608.0L451.8,620.0Z" fill="#398419"/><path d="M367.9,618.0L367.5,610.2L370.1,618.0Z" fill="#3f8f1e"/><path d="M19.2,619.0L21.9,608.4L22.0,619.0Z" fill="#4fa326"/><path d="M231.9,623.0L231.2,608.2L234.6,623.0Z" fill="#3f8f1e"/><path d="M614.5,617.7L617.1,611.9L616.0,617.7Z" fill="#489a22"/><path d="M468.9,617.3L472.4,602.2L470.7,617.3Z" fill="#5eac2e"/><path d="M91.9,616.5L89.6,606.8L93.3,616.5Z" fill="#56a42a"/><path d="M17.5,622.3L16.8,610.4L19.6,622.3Z" fill="#489a22"/><path d="M177.4,618.5L181.1,611.8L180.5,618.5Z" fill="#56a42a"/><path d="M516.6,613.9L520.5,601.0L519.4,613.9Z" fill="#5eac2e"/><path d="M125.1,625.6L126.6,613.2L127.6,625.6Z" fill="#5eac2e"/><path d="M376.7,617.4L375.9,605.6L377.9,617.4Z" fill="#64b232"/><path d="M532.9,622.1L532.1,613.7L535.5,622.1Z" fill="#7cc242"/><path d="M137.7,620.9L138.4,609.7L139.6,620.9Z" fill="#64b232"/><path d="M51.0,624.1L54.2,612.8L53.4,624.1Z" fill="#64b232"/><path d="M428.1,621.1L428.8,610.6L430.6,621.1Z" fill="#52a028"/><path d="M514.8,618.9L517.8,613.4L516.5,618.9Z" fill="#3f8f1e"/><path d="M529.9,621.7L532.2,613.5L531.4,621.7Z" fill="#3f8f1e"/><path d="M546.3,620.7L545.6,606.4L548.4,620.7Z" fill="#6cb838"/><path d="M496.4,614.8L495.9,606.4L497.8,614.8Z" fill="#56a42a"/><path d="M624.8,614.7L625.0,608.1L626.6,614.7Z" fill="#56a42a"/><path d="M511.5,614.1L510.6,608.0L513.7,614.1Z" fill="#7cc242"/><path d="M436.3,618.4L439.7,603.6L438.9,618.4Z" fill="#398419"/><path d="M230.9,621.2L233.6,605.5L232.6,621.2Z" fill="#489a22"/><path d="M215.6,614.8L219.4,605.0L216.8,614.8Z" fill="#88cc4c"/><path d="M207.1,612.2L206.1,597.3L208.7,612.2Z" fill="#5eac2e"/><path d="M433.9,616.8L434.0,606.2L435.2,616.8Z" fill="#3f8f1e"/><path d="M338.0,617.1L341.3,606.4L339.3,617.1Z" fill="#64b232"/><path d="M626.6,623.1L627.3,611.9L628.4,623.1Z" fill="#6cb838"/><path d="M162.4,615.6L161.2,603.0L164.1,615.6Z" fill="#489a22"/><path d="M16.7,621.8L18.4,614.2L19.6,621.8Z" fill="#56a42a"/><path d="M587.3,617.2L589.5,611.6L589.0,617.2Z" fill="#398419"/><path d="M671.1,614.6L668.3,601.8L672.8,614.6Z" fill="#5eac2e"/><path d="M328.2,619.2L333.1,604.4L330.7,619.2Z" fill="#398419"/><path d="M422.9,624.1L422.0,617.7L425.6,624.1Z" fill="#3f8f1e"/><path d="M48.1,618.7L47.1,605.1L50.8,618.7Z" fill="#4fa326"/><path d="M659.3,624.5L661.2,617.3L662.3,624.5Z" fill="#5eac2e"/><path d="M468.5,618.4L467.6,602.8L471.2,618.4Z" fill="#56a42a"/><path d="M654.4,613.4L657.1,599.8L656.2,613.4Z" fill="#88cc4c"/><path d="M47.6,613.5L47.2,602.5L50.1,613.5Z" fill="#3f8f1e"/><path d="M319.3,623.4L320.3,615.1L320.5,623.4Z" fill="#3f8f1e"/><path d="M116.6,614.9L118.0,606.1L118.2,614.9Z" fill="#5eac2e"/><path d="M653.0,613.2L656.0,600.4L655.4,613.2Z" fill="#4fa326"/><path d="M357.1,618.8L359.2,603.5L358.8,618.8Z" fill="#4fa326"/><path d="M276.8,619.9L276.0,609.1L278.9,619.9Z" fill="#489a22"/><path d="M503.4,614.9L507.9,608.3L506.0,614.9Z" fill="#52a028"/><path d="M179.7,618.8L184.0,609.8L181.8,618.8Z" fill="#4fa326"/><path d="M342.2,625.8L344.3,615.3L345.1,625.8Z" fill="#4fa326"/><path d="M272.8,613.9L271.6,600.4L275.6,613.9Z" fill="#64b232"/><path d="M546.7,613.8L547.0,599.2L548.5,613.8Z" fill="#489a22"/><path d="M73.0,625.0L71.2,616.0L75.9,625.0Z" fill="#398419"/><path d="M347.3,625.8L344.3,618.5L349.1,625.8Z" fill="#56a42a"/><path d="M151.4,612.7L149.2,605.7L153.5,612.7Z" fill="#88cc4c"/><path d="M474.2,622.2L474.0,608.9L476.9,622.2Z" fill="#489a22"/><path d="M93.0,621.5L93.5,611.4L94.3,621.5Z" fill="#398419"/><path d="M562.1,623.3L559.9,607.5L563.7,623.3Z" fill="#5eac2e"/><path d="M74.3,622.5L76.0,613.8L77.4,622.5Z" fill="#52a028"/><path d="M381.2,624.9L383.7,612.8L383.6,624.9Z" fill="#3f8f1e"/><path d="M391.7,617.9L391.6,612.3L394.2,617.9Z" fill="#5eac2e"/><path d="M291.8,619.9L292.0,610.9L293.9,619.9Z" fill="#56a42a"/><path d="M199.3,620.5L198.6,610.7L200.7,620.5Z" fill="#3f8f1e"/><path d="M303.7,620.3L302.2,611.2L304.9,620.3Z" fill="#4fa326"/><path d="M641.3,616.0L640.6,605.9L642.6,616.0Z" fill="#489a22"/><path d="M569.9,615.4L572.9,607.6L572.7,615.4Z" fill="#3f8f1e"/><path d="M299.8,613.6L303.6,606.6L302.5,613.6Z" fill="#56a42a"/><path d="M72.7,620.3L75.5,604.5L74.9,620.3Z" fill="#6cb838"/><path d="M661.0,617.9L663.8,610.6L663.1,617.9Z" fill="#52a028"/><path d="M320.5,624.5L322.2,609.2L321.9,624.5Z" fill="#52a028"/><path d="M-1.2,617.7L2.2,607.2L2.0,617.7Z" fill="#52a028"/><path d="M151.7,616.8L151.3,605.5L153.8,616.8Z" fill="#6cb838"/><path d="M495.9,619.3L498.4,603.6L497.3,619.3Z" fill="#52a028"/><path d="M6.9,615.5L5.4,600.2L9.1,615.5Z" fill="#4fa326"/><path d="M302.5,616.5L306.5,609.3L304.8,616.5Z" fill="#6cb838"/><path d="M614.7,619.2L616.3,611.4L616.5,619.2Z" fill="#6cb838"/><path d="M195.8,621.8L197.9,614.5L198.2,621.8Z" fill="#3f8f1e"/><path d="M84.4,615.0L84.9,606.3L87.1,615.0Z" fill="#64b232"/><path d="M582.0,625.7L581.5,619.0L583.3,625.7Z" fill="#88cc4c"/><path d="M166.7,625.7L169.2,614.9L168.7,625.7Z" fill="#7cc242"/><path d="M562.6,613.8L568.0,598.8L565.5,613.8Z" fill="#398419"/><path d="M356.6,614.9L356.6,607.9L359.2,614.9Z" fill="#398419"/><path d="M176.1,621.4L175.2,608.2L179.3,621.4Z" fill="#5eac2e"/><path d="M140.0,623.5L139.4,612.5L141.7,623.5Z" fill="#7cc242"/><path d="M562.6,623.0L564.8,610.6L563.9,623.0Z" fill="#52a028"/><path d="M444.7,613.6L442.9,608.1L446.4,613.6Z" fill="#398419"/><path d="M47.7,620.8L46.4,606.3L49.9,620.8Z" fill="#398419"/><path d="M513.2,616.8L517.9,611.3L514.9,616.8Z" fill="#5eac2e"/><path d="M267.7,622.9L269.4,609.3L270.3,622.9Z" fill="#489a22"/><path d="M650.0,623.9L652.6,612.3L651.8,623.9Z" fill="#7cc242"/><path d="M181.5,613.2L179.1,597.4L183.9,613.2Z" fill="#56a42a"/><path d="M389.5,621.2L388.9,612.4L392.0,621.2Z" fill="#88cc4c"/><path d="M655.4,619.2L657.5,611.0L658.4,619.2Z" fill="#398419"/><path d="M113.8,615.4L114.8,604.7L116.1,615.4Z" fill="#64b232"/><path d="M610.4,618.6L613.6,613.1L611.6,618.6Z" fill="#56a42a"/><path d="M570.6,612.4L568.9,606.7L572.4,612.4Z" fill="#5eac2e"/><path d="M342.8,614.2L345.2,599.4L345.1,614.2Z" fill="#7cc242"/><path d="M214.2,613.9L214.2,607.1L215.7,613.9Z" fill="#64b232"/><path d="M87.0,616.5L87.3,608.9L89.8,616.5Z" fill="#398419"/><path d="M220.9,625.1L225.6,610.6L223.6,625.1Z" fill="#398419"/><path d="M375.5,620.8L377.3,606.2L378.0,620.8Z" fill="#6cb838"/><path d="M597.3,616.5L598.3,607.0L598.7,616.5Z" fill="#64b232"/><path d="M542.2,624.3L540.7,615.8L544.9,624.3Z" fill="#5eac2e"/><path d="M249.9,616.8L253.7,610.1L252.1,616.8Z" fill="#4fa326"/><path d="M227.6,616.5L231.0,605.9L230.6,616.5Z" fill="#56a42a"/><path d="M483.9,619.4L483.9,606.9L486.2,619.4Z" fill="#52a028"/><path d="M243.9,615.8L247.2,601.1L245.7,615.8Z" fill="#5eac2e"/><path d="M471.5,621.2L469.3,611.5L474.6,621.2Z" fill="#7cc242"/><path d="M376.0,619.6L377.2,610.0L377.4,619.6Z" fill="#489a22"/><path d="M65.2,604.2L67.6,591.2L66.6,604.2Z" fill="#80b860"/><path d="M-4.9,605.1L-1.5,597.4L-3.5,605.1Z" fill="#4d8a2e"/><path d="M254.3,610.9L259.3,604.1L255.8,610.9Z" fill="#80b860"/><path d="M391.3,611.7L386.0,597.0L392.7,611.7Z" fill="#4d8a2e"/><path d="M463.1,605.7L463.6,592.0L464.5,605.7Z" fill="#5b9a35"/><path d="M294.9,604.1L291.1,591.7L296.1,604.1Z" fill="#80b860"/><path d="M358.9,611.6L364.3,606.6L360.2,611.6Z" fill="#6aa83f"/><path d="M374.5,608.0L375.0,602.8L376.0,608.0Z" fill="#6aa83f"/><path d="M251.5,611.9L246.5,599.2L252.3,611.9Z" fill="#3f7a26"/><path d="M55.3,606.6L57.8,598.8L56.6,606.6Z" fill="#6aa83f"/><path d="M620.7,610.5L620.6,598.8L621.7,610.5Z" fill="#35701f"/><path d="M366.2,607.4L372.5,592.2L367.1,607.4Z" fill="#6aa83f"/><path d="M46.3,604.1L42.4,595.0L47.4,604.1Z" fill="#80b860"/><path d="M569.6,611.6L566.6,604.0L570.3,611.6Z" fill="#5b9a35"/><path d="M191.6,603.1L197.4,593.1L193.0,603.1Z" fill="#6aa83f"/><path d="M405.9,605.7L408.8,591.9L407.2,605.7Z" fill="#6aa83f"/><path d="M307.2,610.7L303.2,600.9L308.8,610.7Z" fill="#5b9a35"/><path d="M122.5,610.7L127.5,595.2L123.9,610.7Z" fill="#6aa83f"/><path d="M592.3,605.1L594.3,595.6L593.5,605.1Z" fill="#5b9a35"/><path d="M-1.1,606.2L0.5,597.0L-0.3,606.2Z" fill="#5b9a35"/><path d="M221.8,609.5L218.3,594.7L223.3,609.5Z" fill="#3f7a26"/><path d="M400.5,610.4L401.7,604.7L401.8,610.4Z" fill="#4d8a2e"/><path d="M639.7,603.9L646.3,594.5L640.9,603.9Z" fill="#5b9a35"/><path d="M169.0,603.2L166.8,586.9L170.2,603.2Z" fill="#5b9a35"/><path d="M44.6,608.0L43.8,594.5L45.8,608.0Z" fill="#3f7a26"/><path d="M233.2,603.2L227.8,594.7L234.0,603.2Z" fill="#3f7a26"/><path d="M157.3,609.4L153.2,596.5L158.8,609.4Z" fill="#3f7a26"/><path d="M361.1,605.3L367.3,599.1L362.5,605.3Z" fill="#6aa83f"/><path d="M303.9,605.1L307.2,598.0L305.3,605.1Z" fill="#35701f"/><path d="M228.9,610.4L232.7,599.7L229.8,610.4Z" fill="#35701f"/><path d="M379.7,610.6L384.4,603.2L380.5,610.6Z" fill="#35701f"/><path d="M585.0,603.5L589.4,588.9L586.0,603.5Z" fill="#6aa83f"/><path d="M278.2,608.3L272.6,598.2L279.0,608.3Z" fill="#80b860"/><path d="M369.7,604.2L371.5,593.8L371.0,604.2Z" fill="#80b860"/><path d="M114.7,603.0L116.4,589.0L115.7,603.0Z" fill="#3f7a26"/><path d="M36.0,605.4L31.8,597.5L37.1,605.4Z" fill="#3f7a26"/><path d="M435.0,605.1L430.8,597.3L436.2,605.1Z" fill="#3f7a26"/><path d="M217.9,605.8L214.4,595.1L219.0,605.8Z" fill="#80b860"/><path d="M102.9,606.4L103.9,596.0L104.2,606.4Z" fill="#3f7a26"/><path d="M306.4,611.3L310.0,605.0L307.7,611.3Z" fill="#5b9a35"/><path d="M581.8,603.8L581.6,590.6L583.4,603.8Z" fill="#6aa83f"/><path d="M466.9,608.5L463.7,598.4L468.0,608.5Z" fill="#35701f"/><path d="M60.1,608.4L56.5,592.6L61.1,608.4Z" fill="#35701f"/><path d="M428.6,609.6L431.7,601.7L430.2,609.6Z" fill="#6aa83f"/><path d="M341.5,607.5L345.4,596.0L342.4,607.5Z" fill="#4d8a2e"/><path d="M232.5,611.9L230.7,606.1L233.6,611.9Z" fill="#80b860"/><path d="M313.0,611.7L313.1,596.2L314.1,611.7Z" fill="#35701f"/><path d="M19.6,606.9L20.5,601.6L20.8,606.9Z" fill="#4d8a2e"/><path d="M515.0,606.1L512.2,597.2L516.3,606.1Z" fill="#4d8a2e"/><path d="M367.9,605.4L362.4,591.0L368.8,605.4Z" fill="#5b9a35"/><path d="M507.4,610.6L509.8,604.9L508.1,610.6Z" fill="#80b860"/><path d="M551.7,604.0L551.0,589.6L552.9,604.0Z" fill="#6aa83f"/><path d="M508.4,606.2L503.3,591.1L509.7,606.2Z" fill="#35701f"/><path d="M476.8,604.3L481.4,598.9L478.1,604.3Z" fill="#80b860"/><path d="M314.4,608.1L319.3,593.9L315.5,608.1Z" fill="#5b9a35"/><path d="M228.8,606.1L235.3,600.3L230.4,606.1Z" fill="#3f7a26"/><path d="M355.5,610.7L356.0,596.2L356.9,610.7Z" fill="#3f7a26"/><path d="M539.8,604.1L535.6,598.9L541.2,604.1Z" fill="#80b860"/><path d="M350.1,605.1L346.1,589.8L351.1,605.1Z" fill="#3f7a26"/><path d="M468.7,607.7L474.9,594.3L469.9,607.7Z" fill="#4d8a2e"/><path d="M674.6,610.0L680.6,593.8L675.4,610.0Z" fill="#4d8a2e"/><path d="M150.5,605.9L156.8,596.8L151.3,605.9Z" fill="#6aa83f"/><path d="M452.9,607.5L449.8,592.6L453.9,607.5Z" fill="#3f7a26"/><path d="M522.9,606.0L526.5,596.1L524.3,606.0Z" fill="#4d8a2e"/><path d="M207.6,610.6L209.0,596.8L208.6,610.6Z" fill="#35701f"/><path d="M259.6,603.8L260.7,597.6L260.8,603.8Z" fill="#80b860"/><path d="M54.9,609.2L49.8,603.9L55.7,609.2Z" fill="#35701f"/><path d="M359.2,608.6L356.5,598.5L360.2,608.6Z" fill="#80b860"/><path d="M590.4,608.7L586.9,592.5L591.3,608.7Z" fill="#35701f"/><path d="M315.9,610.7L313.1,603.1L316.8,610.7Z" fill="#35701f"/><path d="M452.2,608.2L453.5,593.7L453.5,608.2Z" fill="#80b860"/><path d="M670.1,610.1L665.9,603.6L671.0,610.1Z" fill="#80b860"/><path d="M435.5,610.6L432.0,603.7L436.7,610.6Z" fill="#5b9a35"/><path d="M257.9,604.8L255.4,599.8L258.8,604.8Z" fill="#5b9a35"/><path d="M87.3,605.4L83.7,596.4L88.5,605.4Z" fill="#5b9a35"/><path d="M502.9,607.4L500.5,602.4L504.4,607.4Z" fill="#6aa83f"/><path d="M446.8,610.5L443.3,599.7L448.4,610.5Z" fill="#6aa83f"/><path d="M381.0,604.1L383.1,595.2L382.4,604.1Z" fill="#80b860"/><path d="M409.6,610.3L411.9,598.9L410.4,610.3Z" fill="#35701f"/><path d="M590.4,611.1L594.1,605.2L591.3,611.1Z" fill="#5b9a35"/><path d="M74.2,608.1L80.2,591.4L75.8,608.1Z" fill="#5b9a35"/><path d="M639.5,605.3L642.0,593.5L640.4,605.3Z" fill="#6aa83f"/><path d="M277.4,606.8L274.1,595.5L278.9,606.8Z" fill="#4d8a2e"/><path d="M435.4,608.7L440.4,597.4L436.8,608.7Z" fill="#4d8a2e"/><path d="M334.6,611.6L331.3,604.1L335.6,611.6Z" fill="#6aa83f"/><path d="M235.9,611.0L231.4,598.1L236.8,611.0Z" fill="#35701f"/><path d="M634.4,603.2L636.1,590.1L636.0,603.2Z" fill="#3f7a26"/><path d="M66.6,606.3L66.4,590.1L68.1,606.3Z" fill="#5b9a35"/><path d="M646.3,606.6L647.5,596.5L647.8,606.6Z" fill="#4d8a2e"/><path d="M524.4,607.8L526.9,594.2L526.0,607.8Z" fill="#5b9a35"/><path d="M518.2,604.9L517.9,593.1L519.1,604.9Z" fill="#6aa83f"/><path d="M146.7,609.4L146.5,598.5L148.0,609.4Z" fill="#80b860"/><path d="M202.2,611.7L205.7,601.5L203.5,611.7Z" fill="#6aa83f"/><path d="M474.0,603.4L474.6,592.4L475.2,603.4Z" fill="#4d8a2e"/><path d="M361.5,605.8L361.7,599.5L362.2,605.8Z" fill="#4d8a2e"/><path d="M297.2,611.7L295.0,601.0L298.2,611.7Z" fill="#35701f"/><path d="M86.5,603.2L92.7,591.5L87.5,603.2Z" fill="#5b9a35"/><path d="M531.0,605.9L533.0,595.9L532.4,605.9Z" fill="#4d8a2e"/><path d="M85.9,604.9L85.2,595.4L86.9,604.9Z" fill="#35701f"/><path d="M297.0,608.2L299.3,591.6L298.2,608.2Z" fill="#4d8a2e"/><path d="M224.8,603.3L225.8,586.8L226.0,603.3Z" fill="#3f7a26"/><path d="M614.6,605.8L615.0,595.8L615.7,605.8Z" fill="#35701f"/><path d="M248.6,605.5L245.8,589.8L249.6,605.5Z" fill="#6aa83f"/><path d="M506.0,607.9L506.4,591.6L507.5,607.9Z" fill="#6aa83f"/><path d="M342.6,609.2L338.2,601.1L344.0,609.2Z" fill="#3f7a26"/><path d="M240.4,610.3L245.7,599.7L241.5,610.3Z" fill="#5b9a35"/><path d="M581.3,611.2L586.0,604.7L582.7,611.2Z" fill="#4d8a2e"/><path d="M389.8,610.8L390.1,604.0L390.9,610.8Z" fill="#3f7a26"/><path d="M268.2,609.5L265.8,595.8L269.7,609.5Z" fill="#5b9a35"/><path d="M587.4,611.6L582.7,599.4L588.9,611.6Z" fill="#4d8a2e"/><path d="M622.7,608.8L628.4,596.4L624.2,608.8Z" fill="#4d8a2e"/><path d="M318.3,604.3L319.3,590.7L319.3,604.3Z" fill="#3f7a26"/><path d="M630.0,611.9L629.2,606.0L631.1,611.9Z" fill="#5b9a35"/><path d="M531.3,610.9L529.1,604.5L532.9,610.9Z" fill="#4d8a2e"/><path d="M606.8,607.1L606.8,600.8L607.9,607.1Z" fill="#4d8a2e"/><path d="M122.6,605.5L117.3,588.7L123.8,605.5Z" fill="#3f7a26"/><path d="M39.2,603.7L35.9,586.8L40.6,603.7Z" fill="#3f7a26"/><path d="M151.3,603.4L146.7,597.4L152.3,603.4Z" fill="#35701f"/><path d="M238.9,609.5L239.6,604.0L240.0,609.5Z" fill="#3f7a26"/><path d="M320.9,609.7L316.6,594.7L321.9,609.7Z" fill="#3f7a26"/><path d="M77.3,604.0L75.1,598.3L78.6,604.0Z" fill="#3f7a26"/><path d="M661.8,610.8L666.0,604.3L663.2,610.8Z" fill="#6aa83f"/><path d="M653.3,605.2L650.5,594.3L654.6,605.2Z" fill="#3f7a26"/><path d="M415.3,608.6L409.7,593.3L416.0,608.6Z" fill="#4d8a2e"/><path d="M174.9,605.4L171.0,590.0L176.3,605.4Z" fill="#4d8a2e"/><path d="M381.8,608.5L383.7,603.4L383.0,608.5Z" fill="#35701f"/><path d="M351.0,604.0L353.2,596.4L351.8,604.0Z" fill="#3f7a26"/><path d="M193.4,609.6L192.7,600.0L194.5,609.6Z" fill="#3f7a26"/><path d="M394.8,605.1L399.6,593.4L395.8,605.1Z" fill="#6aa83f"/><path d="M314.1,606.4L313.5,594.2L314.8,606.4Z" fill="#5b9a35"/><path d="M396.0,603.1L400.9,596.3L396.9,603.1Z" fill="#35701f"/><path d="M407.3,610.4L409.3,599.8L408.2,610.4Z" fill="#5b9a35"/><path d="M84.4,603.3L83.7,587.9L85.8,603.3Z" fill="#4d8a2e"/><path d="M239.2,605.3L244.8,590.2L240.7,605.3Z" fill="#4d8a2e"/><path d="M207.4,608.3L202.5,595.8L208.9,608.3Z" fill="#5b9a35"/><path d="M226.6,607.0L223.1,593.8L227.7,607.0Z" fill="#3f7a26"/><path d="M463.5,608.3L460.6,602.0L464.5,608.3Z" fill="#3f7a26"/><path d="M202.8,608.8L203.3,598.0L204.1,608.8Z" fill="#6aa83f"/><path d="M317.3,607.7L317.6,599.3L318.8,607.7Z" fill="#6aa83f"/><path d="M265.5,605.9L260.9,589.4L266.2,605.9Z" fill="#35701f"/><path d="M322.4,611.3L317.8,597.2L323.1,611.3Z" fill="#80b860"/><path d="M257.0,603.9L252.0,591.5L258.0,603.9Z" fill="#35701f"/><path d="M569.9,608.4L566.1,602.9L571.4,608.4Z" fill="#35701f"/><path d="M528.6,604.7L535.3,589.7L530.1,604.7Z" fill="#3f7a26"/><path d="M179.7,611.6L182.2,601.7L180.5,611.6Z" fill="#35701f"/><path d="M479.7,603.1L481.1,597.3L481.2,603.1Z" fill="#35701f"/><path d="M297.8,611.5L296.4,599.2L299.2,611.5Z" fill="#4d8a2e"/><path d="M614.0,609.4L618.7,593.6L614.9,609.4Z" fill="#4d8a2e"/><path d="M523.4,603.7L524.7,588.3L525.0,603.7Z" fill="#6aa83f"/><path d="M675.2,605.9L679.4,590.0L676.6,605.9Z" fill="#80b860"/><path d="M616.0,607.4L618.6,598.5L617.3,607.4Z" fill="#6aa83f"/><path d="M383.0,611.3L383.9,602.6L383.9,611.3Z" fill="#5b9a35"/><path d="M327.7,608.9L325.7,603.1L329.3,608.9Z" fill="#5b9a35"/><path d="M597.5,608.7L593.1,602.5L598.4,608.7Z" fill="#5b9a35"/><path d="M27.5,609.3L27.9,596.9L28.8,609.3Z" fill="#35701f"/><path d="M396.8,603.7L399.3,593.0L397.8,603.7Z" fill="#3f7a26"/><path d="M386.0,607.6L386.4,594.1L387.0,607.6Z" fill="#35701f"/><path d="M446.4,609.1L444.1,599.5L447.6,609.1Z" fill="#3f7a26"/><path d="M444.8,604.4L442.9,589.2L446.2,604.4Z" fill="#80b860"/><path d="M103.4,611.9L101.6,599.0L104.8,611.9Z" fill="#4d8a2e"/><path d="M169.6,606.7L165.3,597.4L171.1,606.7Z" fill="#80b860"/><path d="M178.3,606.9L178.0,595.8L179.0,606.9Z" fill="#3f7a26"/><path d="M467.4,607.8L465.0,596.8L468.4,607.8Z" fill="#80b860"/><path d="M36.5,603.2L39.4,590.7L37.5,603.2Z" fill="#35701f"/><path d="M348.9,603.9L344.4,594.6L350.0,603.9Z" fill="#6aa83f"/><path d="M519.9,606.3L525.5,598.0L520.7,606.3Z" fill="#35701f"/><path d="M584.2,603.6L586.5,587.2L585.3,603.6Z" fill="#6aa83f"/><path d="M208.2,606.3L207.2,591.9L209.4,606.3Z" fill="#4d8a2e"/><path d="M0.6,610.0L2.9,597.2L1.4,610.0Z" fill="#3f7a26"/><path d="M124.5,609.5L130.8,598.5L125.2,609.5Z" fill="#35701f"/><path d="M432.2,603.6L435.5,591.8L433.0,603.6Z" fill="#5b9a35"/><path d="M563.6,610.1L566.8,593.7L564.7,610.1Z" fill="#80b860"/><path d="M539.1,608.0L534.5,592.6L540.2,608.0Z" fill="#80b860"/><path d="M533.1,605.6L528.1,588.7L533.8,605.6Z" fill="#5b9a35"/><path d="M496.5,608.2L502.9,601.1L497.5,608.2Z" fill="#3f7a26"/><path d="M361.4,608.7L361.7,598.4L363.0,608.7Z" fill="#5b9a35"/><path d="M444.9,609.2L442.0,592.2L446.1,609.2Z" fill="#3f7a26"/><path d="M544.9,606.9L550.5,601.2L545.7,606.9Z" fill="#80b860"/><path d="M25.6,608.8L23.3,602.1L26.7,608.8Z" fill="#6aa83f"/><path d="M294.4,606.8L295.1,596.9L295.3,606.8Z" fill="#35701f"/><path d="M125.5,604.2L124.4,592.6L126.9,604.2Z" fill="#3f7a26"/><path d="M233.3,610.4L239.3,603.3L234.8,610.4Z" fill="#4d8a2e"/><path d="M213.2,607.8L215.8,599.4L214.3,607.8Z" fill="#80b860"/><path d="M221.9,605.0L220.8,593.0L223.2,605.0Z" fill="#6aa83f"/><path d="M285.0,605.7L283.8,594.9L286.3,605.7Z" fill="#80b860"/><path d="M513.6,605.1L518.0,590.0L515.1,605.1Z" fill="#6aa83f"/><path d="M93.8,609.1L91.5,597.2L95.2,609.1Z" fill="#80b860"/><path d="M334.1,610.8L335.4,596.6L335.5,610.8Z" fill="#5b9a35"/><path d="M322.2,611.4L317.6,605.0L323.2,611.4Z" fill="#3f7a26"/><path d="M590.0,606.4L590.6,596.9L590.9,606.4Z" fill="#4d8a2e"/><path d="M589.1,603.6L586.4,588.0L590.1,603.6Z" fill="#6aa83f"/><path d="M645.0,610.5L641.3,605.2L646.6,610.5Z" fill="#5b9a35"/><path d="M418.9,608.6L418.4,598.3L419.7,608.6Z" fill="#35701f"/><path d="M334.3,604.8L334.0,596.4L335.5,604.8Z" fill="#5b9a35"/><path d="M564.3,608.9L559.9,603.4L565.8,608.9Z" fill="#4d8a2e"/><path d="M376.7,605.9L377.2,600.0L377.9,605.9Z" fill="#80b860"/><path d="M134.5,604.7L138.6,596.0L135.4,604.7Z" fill="#80b860"/><path d="M89.8,607.6L90.8,590.8L90.8,607.6Z" fill="#35701f"/><path d="M320.3,611.5L321.6,601.8L321.4,611.5Z" fill="#35701f"/><path d="M374.4,606.5L379.3,593.0L375.2,606.5Z" fill="#4d8a2e"/><path d="M527.0,608.9L532.6,594.8L527.8,608.9Z" fill="#80b860"/><path d="M132.4,603.3L128.9,589.5L133.6,603.3Z" fill="#3f7a26"/><path d="M262.5,610.5L268.5,602.8L263.3,610.5Z" fill="#35701f"/><path d="M449.2,607.7L455.3,602.5L450.4,607.7Z" fill="#3f7a26"/><path d="M141.7,611.5L137.9,605.5L143.1,611.5Z" fill="#35701f"/><path d="M394.6,605.0L391.3,591.6L395.9,605.0Z" fill="#35701f"/><path d="M51.7,606.8L51.6,594.9L52.4,606.8Z" fill="#5b9a35"/><path d="M610.5,610.4L612.2,596.3L611.4,610.4Z" fill="#3f7a26"/><path d="M661.9,611.5L666.4,602.5L663.2,611.5Z" fill="#35701f"/><path d="M547.0,607.1L551.2,597.3L548.3,607.1Z" fill="#35701f"/><path d="M422.4,604.9L419.9,588.2L423.6,604.9Z" fill="#35701f"/><path d="M574.9,603.8L572.0,588.2L575.7,603.8Z" fill="#80b860"/><path d="M632.1,610.1L631.1,604.8L633.5,610.1Z" fill="#3f7a26"/><path d="M366.4,607.2L369.1,597.2L367.2,607.2Z" fill="#80b860"/><path d="M299.6,608.6L299.9,602.5L300.6,608.6Z" fill="#35701f"/><path d="M58.2,607.9L63.0,592.3L59.1,607.9Z" fill="#80b860"/><path d="M316.3,604.8L316.3,598.1L317.1,604.8Z" fill="#35701f"/><path d="M348.5,609.5L346.9,599.2L350.0,609.5Z" fill="#6aa83f"/><path d="M3.8,606.6L3.6,591.1L4.9,606.6Z" fill="#80b860"/><path d="M510.5,609.9L509.4,602.4L511.9,609.9Z" fill="#5b9a35"/><path d="M655.2,604.9L652.1,599.1L656.1,604.9Z" fill="#3f7a26"/><path d="M351.0,603.4L351.5,595.1L351.8,603.4Z" fill="#5b9a35"/><path d="M124.2,612.0L128.6,600.3L125.0,612.0Z" fill="#80b860"/><path d="M352.8,608.8L353.8,602.8L353.7,608.8Z" fill="#80b860"/><path d="M608.7,604.6L609.6,590.3L609.8,604.6Z" fill="#3f7a26"/><path d="M479.4,610.3L478.9,604.5L480.4,610.3Z" fill="#6aa83f"/><path d="M521.1,607.6L516.0,591.8L522.3,607.6Z" fill="#3f7a26"/><path d="M420.6,606.4L421.7,595.7L421.9,606.4Z" fill="#4d8a2e"/><path d="M323.4,610.2L326.8,605.1L324.7,610.2Z" fill="#80b860"/><path d="M247.2,611.6L253.2,606.1L248.1,611.6Z" fill="#3f7a26"/><path d="M474.4,603.5L472.2,596.2L475.7,603.5Z" fill="#4d8a2e"/><path d="M240.7,603.8L239.5,593.1L242.0,603.8Z" fill="#6aa83f"/><path d="M532.1,607.6L532.4,601.7L532.9,607.6Z" fill="#4d8a2e"/><path d="M383.8,607.7L382.1,600.7L384.7,607.7Z" fill="#4d8a2e"/><path d="M224.4,603.2L223.6,597.4L225.9,603.2Z" fill="#5b9a35"/><path d="M54.8,610.6L56.8,599.5L55.7,610.6Z" fill="#80b860"/><path d="M642.8,608.3L640.3,591.9L643.7,608.3Z" fill="#3f7a26"/><path d="M97.5,610.3L92.9,602.1L98.3,610.3Z" fill="#35701f"/><path d="M323.1,609.7L323.7,603.9L324.0,609.7Z" fill="#35701f"/><path d="M476.6,607.4L476.8,600.5L477.8,607.4Z" fill="#80b860"/><path d="M601.1,609.6L602.1,601.4L601.8,609.6Z" fill="#80b860"/><path d="M429.1,604.0L429.7,592.8L430.4,604.0Z" fill="#5b9a35"/><path d="M344.5,608.0L341.2,597.7L345.7,608.0Z" fill="#4d8a2e"/><path d="M204.3,609.4L209.3,594.1L205.1,609.4Z" fill="#5b9a35"/><path d="M165.3,610.2L165.7,597.0L166.8,610.2Z" fill="#5b9a35"/><path d="M389.4,609.6L388.8,596.6L390.5,609.6Z" fill="#35701f"/><path d="M365.5,611.6L361.9,600.6L366.5,611.6Z" fill="#5b9a35"/><path d="M469.1,607.6L471.4,595.7L469.8,607.6Z" fill="#6aa83f"/><path d="M198.5,606.9L193.7,597.7L199.5,606.9Z" fill="#6aa83f"/><path d="M562.1,603.3L566.4,588.7L563.5,603.3Z" fill="#5b9a35"/><path d="M349.1,606.9L351.9,595.6L350.7,606.9Z" fill="#5b9a35"/><path d="M463.7,604.0L461.3,598.9L464.5,604.0Z" fill="#4d8a2e"/><path d="M379.7,608.8L383.5,594.3L381.1,608.8Z" fill="#35701f"/><path d="M616.2,609.5L611.6,604.0L617.1,609.5Z" fill="#5b9a35"/><path d="M151.6,610.8L151.3,596.1L152.5,610.8Z" fill="#3f7a26"/><path d="M160.3,607.3L155.4,602.1L161.4,607.3Z" fill="#4d8a2e"/><path d="M177.6,609.7L181.3,600.6L179.1,609.7Z" fill="#35701f"/><path d="M391.0,603.5L391.8,592.0L392.3,603.5Z" fill="#5b9a35"/><path d="M652.6,605.8L651.0,595.7L653.9,605.8Z" fill="#80b860"/><path d="M76.9,609.2L78.8,593.1L78.5,609.2Z" fill="#3f7a26"/><path d="M193.0,606.3L191.9,592.6L194.4,606.3Z" fill="#3f7a26"/><path d="M324.1,605.4L323.4,593.1L325.2,605.4Z" fill="#35701f"/><path d="M553.5,609.2L551.7,598.8L555.0,609.2Z" fill="#80b860"/><path d="M72.0,610.6L68.0,594.6L73.0,610.6Z" fill="#35701f"/><path d="M668.7,611.9L663.9,603.3L669.6,611.9Z" fill="#35701f"/><path d="M674.7,608.4L676.2,593.3L676.1,608.4Z" fill="#3f7a26"/><path d="M344.7,611.3L347.8,604.7L346.1,611.3Z" fill="#35701f"/><path d="M23.9,610.2L26.2,595.1L24.9,610.2Z" fill="#6aa83f"/><path d="M50.3,603.4L47.8,587.0L51.9,603.4Z" fill="#80b860"/><path d="M26.6,603.8L23.0,591.1L27.9,603.8Z" fill="#80b860"/><path d="M328.1,606.6L327.5,590.0L329.7,606.6Z" fill="#80b860"/><path d="M470.4,608.6L475.8,602.9L471.8,608.6Z" fill="#35701f"/><path d="M137.7,608.4L138.8,594.5L138.7,608.4Z" fill="#4d8a2e"/><path d="M350.0,604.9L351.0,599.9L351.5,604.9Z" fill="#80b860"/><path d="M98.2,607.8L101.1,594.3L99.0,607.8Z" fill="#35701f"/><path d="M653.7,607.1L648.1,602.0L654.4,607.1Z" fill="#6aa83f"/><path d="M76.8,605.3L75.6,596.6L78.0,605.3Z" fill="#5b9a35"/><path d="M314.0,605.2L315.0,596.5L315.1,605.2Z" fill="#5b9a35"/><path d="M104.2,608.7L103.5,592.2L105.7,608.7Z" fill="#5b9a35"/><path d="M472.9,607.3L472.7,595.1L474.0,607.3Z" fill="#80b860"/><path d="M279.7,606.5L278.7,595.5L281.2,606.5Z" fill="#4d8a2e"/><path d="M-0.8,604.8L-4.1,595.7L0.3,604.8Z" fill="#4d8a2e"/><path d="M485.9,608.9L484.1,601.2L486.6,608.9Z" fill="#5b9a35"/><path d="M11.0,610.5L16.0,596.5L11.9,610.5Z" fill="#5b9a35"/><path d="M166.8,606.6L171.8,601.6L167.5,606.6Z" fill="#4d8a2e"/><path d="M30.1,605.5L36.3,595.5L31.0,605.5Z" fill="#35701f"/><path d="M438.2,609.9L442.5,602.2L439.8,609.9Z" fill="#4d8a2e"/><path d="M118.4,605.2L119.4,599.7L119.2,605.2Z" fill="#4d8a2e"/><path d="M581.6,603.3L577.1,586.4L582.5,603.3Z" fill="#3f7a26"/><path d="M104.5,604.3L108.5,594.7L105.2,604.3Z" fill="#3f7a26"/><path d="M369.5,610.2L364.4,601.1L370.3,610.2Z" fill="#80b860"/><path d="M81.2,609.6L80.4,593.0L82.5,609.6Z" fill="#80b860"/><path d="M478.9,604.4L473.9,590.7L480.0,604.4Z" fill="#5b9a35"/><path d="M103.9,607.8L98.6,591.7L104.8,607.8Z" fill="#6aa83f"/><path d="M435.2,609.3L440.1,604.1L436.8,609.3Z" fill="#5b9a35"/><path d="M600.4,604.2L606.8,594.2L601.7,604.2Z" fill="#6aa83f"/><path d="M524.2,607.4L525.3,602.0L525.3,607.4Z" fill="#5b9a35"/><path d="M550.7,603.3L554.7,588.0L551.6,603.3Z" fill="#80b860"/><path d="M308.8,610.6L309.7,604.1L310.2,610.6Z" fill="#6aa83f"/><path d="M306.4,611.3L306.7,597.8L307.1,611.3Z" fill="#3f7a26"/><path d="M15.5,604.6L13.6,589.5L16.3,604.6Z" fill="#35701f"/><path d="M386.9,609.8L393.5,603.2L388.1,609.8Z" fill="#35701f"/><path d="M85.7,611.4L89.7,603.2L87.1,611.4Z" fill="#35701f"/><path d="M169.8,607.4L172.2,593.2L171.3,607.4Z" fill="#3f7a26"/><path d="M199.8,603.5L198.4,587.0L201.3,603.5Z" fill="#5b9a35"/><path d="M283.1,609.0L278.6,593.6L284.2,609.0Z" fill="#3f7a26"/><path d="M432.3,609.8L433.3,598.3L433.7,609.8Z" fill="#4d8a2e"/><path d="M145.7,606.8L151.5,593.3L146.9,606.8Z" fill="#6aa83f"/><path d="M288.7,608.9L288.1,603.9L289.5,608.9Z" fill="#4d8a2e"/><path d="M637.6,604.7L638.9,587.8L638.5,604.7Z" fill="#4d8a2e"/><path d="M15.6,604.0L14.8,590.9L16.4,604.0Z" fill="#6aa83f"/><path d="M486.5,610.2L488.1,595.6L487.3,610.2Z" fill="#35701f"/><path d="M374.2,611.6L370.2,597.3L375.4,611.6Z" fill="#5b9a35"/><path d="M637.4,605.3L637.6,600.0L638.7,605.3Z" fill="#5b9a35"/><path d="M357.3,606.4L353.0,594.6L358.4,606.4Z" fill="#3f7a26"/><path d="M269.3,607.6L273.8,593.5L270.7,607.6Z" fill="#6aa83f"/><path d="M34.7,609.6L32.1,601.7L35.9,609.6Z" fill="#4d8a2e"/><path d="M207.3,611.4L212.6,604.9L208.8,611.4Z" fill="#3f7a26"/><path d="M649.0,611.5L653.9,599.2L650.6,611.5Z" fill="#6aa83f"/><path d="M574.6,603.3L576.9,596.0L575.6,603.3Z" fill="#5b9a35"/><path d="M97.2,603.7L99.1,592.5L98.5,603.7Z" fill="#4d8a2e"/><path d="M672.1,606.1L668.8,598.5L673.1,606.1Z" fill="#80b860"/><path d="M615.2,611.5L617.1,595.1L616.1,611.5Z" fill="#35701f"/><path d="M187.0,604.6L186.1,588.8L188.5,604.6Z" fill="#35701f"/><path d="M483.4,610.5L488.4,594.5L484.6,610.5Z" fill="#3f7a26"/><path d="M383.1,605.8L378.2,590.9L384.4,605.8Z" fill="#5b9a35"/><path d="M174.8,609.6L179.9,602.8L176.0,609.6Z" fill="#6aa83f"/><path d="M654.2,611.6L655.4,600.3L655.1,611.6Z" fill="#6aa83f"/><path d="M225.1,609.8L223.6,599.8L225.9,609.8Z" fill="#4d8a2e"/><path d="M84.5,607.1L81.4,601.4L86.1,607.1Z" fill="#6aa83f"/><path d="M486.9,610.7L491.2,601.3L487.9,610.7Z" fill="#35701f"/><path d="M144.2,608.7L139.0,592.6L145.5,608.7Z" fill="#35701f"/><path d="M66.7,609.8L69.6,600.8L67.8,609.8Z" fill="#6aa83f"/><path d="M225.4,611.9L230.3,602.9L226.8,611.9Z" fill="#5b9a35"/><path d="M333.5,607.5L329.3,592.4L334.4,607.5Z" fill="#3f7a26"/><path d="M462.7,604.0L464.5,591.4L464.0,604.0Z" fill="#35701f"/><path d="M336.3,603.9L337.0,589.9L337.2,603.9Z" fill="#3f7a26"/><path d="M294.7,605.5L291.5,596.1L296.1,605.5Z" fill="#5b9a35"/><path d="M226.2,611.4L223.5,606.1L227.1,611.4Z" fill="#5b9a35"/><path d="M64.7,609.1L71.1,593.4L66.1,609.1Z" fill="#3f7a26"/><path d="M518.7,606.8L518.6,599.6L519.8,606.8Z" fill="#35701f"/><path d="M396.0,603.8L399.5,597.2L397.6,603.8Z" fill="#6aa83f"/><path d="M11.2,604.4L14.3,594.0L12.8,604.4Z" fill="#5b9a35"/><path d="M427.2,608.4L431.1,597.1L428.4,608.4Z" fill="#5b9a35"/><path d="M639.8,611.5L644.9,606.5L640.6,611.5Z" fill="#35701f"/><path d="M509.0,606.9L511.8,591.8L510.6,606.9Z" fill="#35701f"/><path d="M638.8,607.4L644.4,590.5L639.8,607.4Z" fill="#5b9a35"/><path d="M629.3,603.6L635.1,587.5L630.6,603.6Z" fill="#35701f"/><path d="M413.0,609.7L410.1,597.6L413.8,609.7Z" fill="#80b860"/><path d="M194.2,607.2L190.1,602.1L195.3,607.2Z" fill="#5b9a35"/><path d="M598.1,608.6L602.5,594.6L599.2,608.6Z" fill="#6aa83f"/><path d="M484.0,605.1L479.3,596.0L485.1,605.1Z" fill="#80b860"/><path d="M455.4,604.8L453.1,597.7L456.3,604.8Z" fill="#6aa83f"/><path d="M679.8,609.5L683.7,600.6L681.3,609.5Z" fill="#4d8a2e"/><path d="M331.7,604.2L334.1,587.4L333.0,604.2Z" fill="#4d8a2e"/><path d="M357.6,605.6L359.8,599.9L358.9,605.6Z" fill="#80b860"/><path d="M58.3,611.0L54.8,600.6L59.8,611.0Z" fill="#4d8a2e"/><path d="M376.7,607.7L377.3,600.0L377.4,607.7Z" fill="#3f7a26"/><path d="M329.4,608.5L328.8,594.0L330.6,608.5Z" fill="#5b9a35"/><path d="M365.3,610.6L371.3,597.9L366.6,610.6Z" fill="#6aa83f"/><path d="M74.5,610.4L80.3,601.6L75.9,610.4Z" fill="#80b860"/><path d="M515.0,606.5L518.8,595.2L515.8,606.5Z" fill="#35701f"/><path d="M495.6,603.3L497.1,588.0L496.9,603.3Z" fill="#5b9a35"/><path d="M257.3,609.1L256.4,593.3L258.5,609.1Z" fill="#6aa83f"/><path d="M257.3,609.9L256.7,595.9L258.6,609.9Z" fill="#6aa83f"/><path d="M100.9,611.8L104.2,600.8L102.0,611.8Z" fill="#3f7a26"/><path d="M178.6,608.7L176.5,593.9L179.5,608.7Z" fill="#6aa83f"/><path d="M213.2,603.6L218.9,590.4L214.0,603.6Z" fill="#4d8a2e"/><path d="M328.6,605.4L331.5,593.7L329.8,605.4Z" fill="#5b9a35"/><path d="M423.4,603.8L423.9,590.9L424.8,603.8Z" fill="#6aa83f"/><path d="M236.9,610.7L239.1,602.9L237.6,610.7Z" fill="#4d8a2e"/><path d="M301.9,607.1L300.8,596.1L302.8,607.1Z" fill="#80b860"/><path d="M141.4,606.0L140.8,597.5L142.7,606.0Z" fill="#6aa83f"/><path d="M196.4,608.2L202.6,598.7L198.0,608.2Z" fill="#4d8a2e"/><path d="M246.2,606.4L250.9,595.4L247.5,606.4Z" fill="#35701f"/><path d="M604.6,603.6L600.5,598.3L605.6,603.6Z" fill="#4d8a2e"/><path d="M92.2,605.1L95.3,594.5L93.5,605.1Z" fill="#3f7a26"/><path d="M284.0,608.8L286.1,602.2L285.5,608.8Z" fill="#5b9a35"/><path d="M90.9,604.5L93.9,588.7L92.2,604.5Z" fill="#3f7a26"/><path d="M504.1,605.7L502.5,599.4L505.7,605.7Z" fill="#5b9a35"/>
<rect x="0" y="624" width="679" height="55" fill="url(#soilg)"/>
<rect x="0" y="624" width="679" height="55" filter="url(#noise)" opacity="0.45"/>
<ellipse cx="1.9" cy="664.6" rx="1.6" ry="1.2" fill="#1e1612"/><ellipse cx="223.4" cy="668.8" rx="2.1" ry="1.2" fill="#231a14"/><ellipse cx="135.1" cy="663.7" rx="1.1" ry="0.9" fill="#3c2a20"/><ellipse cx="492.2" cy="678.1" rx="1.1" ry="0.8" fill="#74503c"/><ellipse cx="286.6" cy="668.3" rx="2.0" ry="1.2" fill="#231a14"/><ellipse cx="561.7" cy="674.6" rx="2.3" ry="1.2" fill="#15100c"/><ellipse cx="122.5" cy="643.5" rx="0.7" ry="0.6" fill="#5e4232"/><ellipse cx="25.3" cy="649.7" rx="1.1" ry="0.6" fill="#231a14"/><ellipse cx="5.9" cy="667.9" rx="0.8" ry="0.7" fill="#74503c"/><ellipse cx="385.4" cy="662.2" rx="1.8" ry="1.0" fill="#4c3426"/><ellipse cx="335.7" cy="650.7" rx="1.1" ry="0.8" fill="#3c2a20"/><ellipse cx="527.2" cy="645.3" rx="0.9" ry="0.9" fill="#96684c"/><ellipse cx="472.1" cy="665.2" rx="0.9" ry="0.5" fill="#231a14"/><ellipse cx="606.4" cy="655.8" rx="1.9" ry="1.0" fill="#1e1612"/><ellipse cx="43.6" cy="673.1" rx="1.5" ry="0.9" fill="#231a14"/><ellipse cx="488.1" cy="665.7" rx="0.9" ry="0.7" fill="#74503c"/><ellipse cx="369.9" cy="633.4" rx="1.6" ry="1.1" fill="#3c2a20"/><ellipse cx="661.9" cy="667.5" rx="2.1" ry="1.0" fill="#96684c"/><ellipse cx="425.7" cy="677.7" rx="1.4" ry="1.1" fill="#4c3426"/><ellipse cx="28.1" cy="658.2" rx="1.3" ry="1.0" fill="#231a14"/><ellipse cx="460.3" cy="645.0" rx="1.6" ry="1.0" fill="#3c2a20"/><ellipse cx="505.1" cy="630.7" rx="1.1" ry="0.6" fill="#1e1612"/><ellipse cx="356.4" cy="659.9" rx="1.6" ry="1.1" fill="#96684c"/><ellipse cx="264.9" cy="649.1" rx="1.6" ry="1.2" fill="#85604a"/><ellipse cx="285.1" cy="644.8" rx="0.8" ry="0.7" fill="#96684c"/><ellipse cx="452.8" cy="634.9" rx="0.7" ry="0.5" fill="#15100c"/><ellipse cx="377.2" cy="675.8" rx="1.0" ry="0.5" fill="#96684c"/><ellipse cx="534.9" cy="666.3" rx="0.8" ry="0.5" fill="#15100c"/><ellipse cx="303.6" cy="659.6" rx="1.0" ry="0.5" fill="#5e4232"/><ellipse cx="478.0" cy="640.2" rx="0.6" ry="0.4" fill="#5e4232"/><ellipse cx="178.3" cy="665.0" rx="1.2" ry="0.7" fill="#85604a"/><ellipse cx="255.0" cy="626.7" rx="1.8" ry="1.1" fill="#15100c"/><ellipse cx="281.5" cy="666.5" rx="0.9" ry="0.9" fill="#96684c"/><ellipse cx="657.6" cy="658.3" rx="1.4" ry="0.7" fill="#85604a"/><ellipse cx="405.0" cy="625.5" rx="1.8" ry="0.9" fill="#96684c"/><ellipse cx="535.3" cy="670.6" rx="1.0" ry="0.8" fill="#85604a"/><ellipse cx="170.6" cy="627.0" rx="0.6" ry="0.5" fill="#1e1612"/><ellipse cx="587.7" cy="662.1" rx="1.0" ry="0.8" fill="#74503c"/><ellipse cx="434.6" cy="644.1" rx="1.2" ry="0.9" fill="#4c3426"/><ellipse cx="288.1" cy="651.9" rx="0.6" ry="0.5" fill="#5e4232"/><ellipse cx="227.8" cy="639.8" rx="0.6" ry="0.5" fill="#74503c"/><ellipse cx="278.1" cy="628.0" rx="0.9" ry="0.5" fill="#231a14"/><ellipse cx="23.5" cy="675.6" rx="1.9" ry="1.2" fill="#3c2a20"/><ellipse cx="346.9" cy="660.4" rx="1.5" ry="0.8" fill="#96684c"/><ellipse cx="538.2" cy="673.2" rx="1.7" ry="0.9" fill="#15100c"/><ellipse cx="234.0" cy="648.4" rx="0.8" ry="0.7" fill="#85604a"/><ellipse cx="621.6" cy="664.2" rx="1.2" ry="0.9" fill="#85604a"/><ellipse cx="392.6" cy="666.8" rx="0.8" ry="0.5" fill="#3c2a20"/><ellipse cx="162.6" cy="659.2" rx="1.3" ry="1.1" fill="#3c2a20"/><ellipse cx="205.8" cy="642.7" rx="1.6" ry="1.1" fill="#1e1612"/><ellipse cx="310.5" cy="635.9" rx="0.8" ry="0.8" fill="#3c2a20"/><ellipse cx="267.8" cy="635.6" rx="1.6" ry="1.1" fill="#1e1612"/><ellipse cx="393.3" cy="635.2" rx="1.6" ry="0.9" fill="#96684c"/><ellipse cx="489.9" cy="665.2" rx="0.8" ry="0.6" fill="#1e1612"/><ellipse cx="499.9" cy="677.4" rx="1.7" ry="1.2" fill="#85604a"/><ellipse cx="245.4" cy="629.2" rx="0.9" ry="0.8" fill="#74503c"/><ellipse cx="67.3" cy="662.0" rx="1.1" ry="0.8" fill="#3c2a20"/><ellipse cx="667.0" cy="672.1" rx="1.2" ry="0.7" fill="#15100c"/><ellipse cx="59.7" cy="672.1" rx="2.1" ry="1.1" fill="#74503c"/><ellipse cx="171.7" cy="652.3" rx="1.0" ry="0.8" fill="#5e4232"/><ellipse cx="128.2" cy="669.0" rx="0.7" ry="0.5" fill="#74503c"/><ellipse cx="502.7" cy="665.0" rx="1.0" ry="0.9" fill="#5e4232"/><ellipse cx="624.2" cy="662.1" rx="0.8" ry="0.7" fill="#5e4232"/><ellipse cx="581.4" cy="677.7" rx="1.0" ry="0.7" fill="#231a14"/><ellipse cx="8.3" cy="653.5" rx="1.1" ry="0.6" fill="#74503c"/><ellipse cx="3.2" cy="670.7" rx="2.1" ry="1.2" fill="#3c2a20"/><ellipse cx="78.3" cy="652.8" rx="2.3" ry="1.2" fill="#74503c"/><ellipse cx="647.8" cy="632.6" rx="2.1" ry="1.1" fill="#3c2a20"/><ellipse cx="667.7" cy="657.4" rx="1.6" ry="0.8" fill="#74503c"/><ellipse cx="576.5" cy="648.6" rx="1.1" ry="0.8" fill="#4c3426"/><ellipse cx="173.3" cy="626.7" rx="1.1" ry="0.6" fill="#4c3426"/><ellipse cx="115.0" cy="636.3" rx="1.6" ry="0.9" fill="#85604a"/><ellipse cx="294.6" cy="630.7" rx="1.2" ry="0.7" fill="#1e1612"/><ellipse cx="97.2" cy="674.8" rx="1.3" ry="0.8" fill="#5e4232"/><ellipse cx="201.1" cy="662.1" rx="0.7" ry="0.5" fill="#5e4232"/><ellipse cx="566.4" cy="648.2" rx="1.5" ry="1.2" fill="#15100c"/><ellipse cx="72.1" cy="676.8" rx="1.5" ry="0.8" fill="#74503c"/><ellipse cx="444.8" cy="626.3" rx="1.1" ry="1.0" fill="#4c3426"/><ellipse cx="64.6" cy="628.6" rx="1.1" ry="0.8" fill="#74503c"/><ellipse cx="258.9" cy="636.4" rx="1.0" ry="1.0" fill="#96684c"/><ellipse cx="620.6" cy="674.9" rx="1.6" ry="0.8" fill="#231a14"/><ellipse cx="220.4" cy="626.3" rx="1.5" ry="0.9" fill="#5e4232"/><ellipse cx="545.4" cy="668.9" rx="1.0" ry="0.9" fill="#1e1612"/><ellipse cx="642.4" cy="661.0" rx="0.9" ry="0.5" fill="#4c3426"/><ellipse cx="62.0" cy="673.6" rx="1.3" ry="0.9" fill="#96684c"/><ellipse cx="341.9" cy="675.8" rx="1.0" ry="0.6" fill="#3c2a20"/><ellipse cx="642.4" cy="672.7" rx="1.9" ry="1.0" fill="#15100c"/><ellipse cx="626.1" cy="626.7" rx="1.2" ry="0.7" fill="#4c3426"/><ellipse cx="235.6" cy="645.9" rx="1.5" ry="1.1" fill="#74503c"/><ellipse cx="364.0" cy="678.2" rx="1.8" ry="1.1" fill="#74503c"/><ellipse cx="517.0" cy="664.7" rx="1.2" ry="1.0" fill="#231a14"/><ellipse cx="511.6" cy="662.1" rx="0.8" ry="0.5" fill="#1e1612"/><ellipse cx="559.8" cy="675.7" rx="1.4" ry="1.0" fill="#74503c"/><ellipse cx="277.7" cy="632.0" rx="0.9" ry="0.5" fill="#3c2a20"/><ellipse cx="373.0" cy="654.4" rx="0.8" ry="0.7" fill="#5e4232"/><ellipse cx="635.4" cy="630.8" rx="1.1" ry="0.9" fill="#85604a"/><ellipse cx="425.8" cy="654.7" rx="1.4" ry="0.9" fill="#4c3426"/><ellipse cx="269.1" cy="671.9" rx="1.3" ry="0.9" fill="#231a14"/><ellipse cx="584.5" cy="656.8" rx="1.6" ry="0.8" fill="#96684c"/><ellipse cx="631.6" cy="658.5" rx="1.4" ry="1.0" fill="#1e1612"/><ellipse cx="334.7" cy="647.8" rx="2.0" ry="1.1" fill="#96684c"/><ellipse cx="133.8" cy="642.1" rx="0.6" ry="0.5" fill="#231a14"/><ellipse cx="678.8" cy="653.3" rx="1.1" ry="0.6" fill="#231a14"/><ellipse cx="385.3" cy="627.3" rx="0.6" ry="0.5" fill="#3c2a20"/><ellipse cx="610.6" cy="627.9" rx="0.6" ry="0.4" fill="#1e1612"/><ellipse cx="376.9" cy="657.2" rx="0.5" ry="0.5" fill="#231a14"/><ellipse cx="283.7" cy="643.3" rx="0.8" ry="0.7" fill="#74503c"/><ellipse cx="313.3" cy="674.5" rx="1.1" ry="0.5" fill="#231a14"/><ellipse cx="624.2" cy="663.2" rx="0.8" ry="0.7" fill="#3c2a20"/><ellipse cx="625.6" cy="678.2" rx="1.4" ry="1.1" fill="#96684c"/><ellipse cx="512.9" cy="663.6" rx="1.3" ry="0.7" fill="#4c3426"/><ellipse cx="617.7" cy="661.8" rx="0.7" ry="0.5" fill="#5e4232"/><ellipse cx="468.2" cy="668.6" rx="1.0" ry="0.6" fill="#231a14"/><ellipse cx="582.7" cy="629.7" rx="1.2" ry="1.0" fill="#231a14"/><ellipse cx="223.9" cy="639.1" rx="2.1" ry="1.1" fill="#4c3426"/><ellipse cx="147.2" cy="653.1" rx="0.6" ry="0.5" fill="#4c3426"/><ellipse cx="9.1" cy="668.4" rx="1.5" ry="1.1" fill="#3c2a20"/><ellipse cx="541.6" cy="654.5" rx="1.4" ry="0.9" fill="#74503c"/><ellipse cx="638.9" cy="666.8" rx="1.0" ry="0.8" fill="#231a14"/><ellipse cx="404.7" cy="645.4" rx="1.8" ry="0.9" fill="#74503c"/><ellipse cx="655.8" cy="646.5" rx="1.5" ry="1.2" fill="#96684c"/><ellipse cx="222.9" cy="653.3" rx="1.3" ry="1.1" fill="#74503c"/><ellipse cx="405.2" cy="630.9" rx="0.7" ry="0.4" fill="#96684c"/><ellipse cx="653.7" cy="649.0" rx="0.9" ry="0.5" fill="#74503c"/><ellipse cx="228.7" cy="641.3" rx="0.7" ry="0.5" fill="#74503c"/><ellipse cx="152.6" cy="625.7" rx="0.9" ry="0.7" fill="#5e4232"/><ellipse cx="390.3" cy="636.6" rx="1.6" ry="1.1" fill="#1e1612"/><ellipse cx="117.3" cy="656.8" rx="0.8" ry="0.5" fill="#231a14"/><ellipse cx="483.5" cy="666.1" rx="0.7" ry="0.6" fill="#15100c"/><ellipse cx="120.5" cy="674.4" rx="0.6" ry="0.4" fill="#96684c"/><ellipse cx="24.4" cy="631.4" rx="1.0" ry="1.0" fill="#4c3426"/><ellipse cx="615.4" cy="630.1" rx="1.0" ry="0.8" fill="#15100c"/><ellipse cx="551.6" cy="635.9" rx="1.3" ry="1.0" fill="#5e4232"/><ellipse cx="50.3" cy="678.7" rx="1.3" ry="0.9" fill="#231a14"/><ellipse cx="219.9" cy="662.3" rx="1.0" ry="0.9" fill="#1e1612"/><ellipse cx="233.0" cy="662.3" rx="1.7" ry="1.1" fill="#3c2a20"/><ellipse cx="307.8" cy="669.6" rx="1.7" ry="1.0" fill="#3c2a20"/><ellipse cx="201.9" cy="635.1" rx="1.1" ry="0.6" fill="#96684c"/><ellipse cx="619.8" cy="647.3" rx="0.6" ry="0.5" fill="#4c3426"/><ellipse cx="487.5" cy="651.4" rx="1.5" ry="0.8" fill="#5e4232"/><ellipse cx="16.3" cy="646.9" rx="1.0" ry="0.6" fill="#15100c"/><ellipse cx="380.3" cy="641.5" rx="0.9" ry="0.9" fill="#3c2a20"/><ellipse cx="591.4" cy="633.1" rx="1.3" ry="0.9" fill="#1e1612"/><ellipse cx="506.9" cy="670.7" rx="1.3" ry="0.8" fill="#3c2a20"/><ellipse cx="425.2" cy="629.4" rx="2.3" ry="1.2" fill="#74503c"/><ellipse cx="7.0" cy="625.2" rx="1.1" ry="1.0" fill="#231a14"/><ellipse cx="389.9" cy="658.7" rx="0.6" ry="0.6" fill="#231a14"/><ellipse cx="255.1" cy="664.7" rx="0.5" ry="0.5" fill="#1e1612"/><ellipse cx="243.0" cy="669.1" rx="1.3" ry="0.7" fill="#96684c"/><ellipse cx="69.7" cy="669.7" rx="0.6" ry="0.5" fill="#74503c"/><ellipse cx="453.8" cy="642.6" rx="0.6" ry="0.4" fill="#231a14"/><ellipse cx="375.3" cy="646.1" rx="0.9" ry="0.7" fill="#3c2a20"/><ellipse cx="316.8" cy="644.7" rx="1.8" ry="1.1" fill="#231a14"/><ellipse cx="446.5" cy="648.2" rx="1.1" ry="0.8" fill="#231a14"/><ellipse cx="112.0" cy="645.4" rx="1.1" ry="0.6" fill="#74503c"/><ellipse cx="470.9" cy="669.5" rx="1.0" ry="0.9" fill="#4c3426"/><ellipse cx="564.8" cy="659.6" rx="1.3" ry="0.9" fill="#1e1612"/><ellipse cx="158.3" cy="663.2" rx="1.2" ry="0.7" fill="#15100c"/><ellipse cx="460.9" cy="670.4" rx="1.3" ry="1.0" fill="#96684c"/><ellipse cx="10.5" cy="646.9" rx="1.2" ry="0.9" fill="#15100c"/><ellipse cx="250.3" cy="636.1" rx="1.0" ry="0.7" fill="#3c2a20"/><ellipse cx="90.6" cy="650.6" rx="1.9" ry="1.2" fill="#96684c"/><ellipse cx="240.5" cy="657.8" rx="1.1" ry="1.1" fill="#96684c"/><ellipse cx="86.7" cy="649.0" rx="1.0" ry="0.8" fill="#3c2a20"/><ellipse cx="630.0" cy="663.7" rx="1.2" ry="0.8" fill="#5e4232"/><ellipse cx="477.3" cy="628.2" rx="1.3" ry="0.8" fill="#1e1612"/><ellipse cx="668.7" cy="630.1" rx="0.9" ry="0.6" fill="#74503c"/><ellipse cx="158.0" cy="669.9" rx="1.2" ry="0.9" fill="#1e1612"/><ellipse cx="505.7" cy="668.9" rx="1.7" ry="1.0" fill="#5e4232"/><ellipse cx="36.5" cy="650.0" rx="1.6" ry="1.1" fill="#15100c"/><ellipse cx="558.6" cy="653.8" rx="1.2" ry="0.7" fill="#3c2a20"/><ellipse cx="405.8" cy="673.9" rx="0.8" ry="0.5" fill="#3c2a20"/><ellipse cx="7.0" cy="646.9" rx="1.9" ry="1.0" fill="#4c3426"/><ellipse cx="313.4" cy="669.2" rx="0.8" ry="0.7" fill="#4c3426"/><ellipse cx="478.0" cy="634.0" rx="1.1" ry="0.9" fill="#15100c"/><ellipse cx="428.2" cy="652.2" rx="0.8" ry="0.4" fill="#231a14"/><ellipse cx="125.3" cy="663.9" rx="1.2" ry="0.7" fill="#74503c"/><ellipse cx="277.6" cy="676.2" rx="0.8" ry="0.8" fill="#3c2a20"/><ellipse cx="556.8" cy="664.5" rx="0.8" ry="0.7" fill="#85604a"/><ellipse cx="84.1" cy="656.9" rx="0.7" ry="0.6" fill="#3c2a20"/><ellipse cx="475.3" cy="662.5" rx="1.1" ry="1.0" fill="#74503c"/><ellipse cx="32.0" cy="656.5" rx="0.7" ry="0.5" fill="#1e1612"/><ellipse cx="633.1" cy="669.2" rx="1.1" ry="0.9" fill="#15100c"/><ellipse cx="383.7" cy="649.5" rx="1.1" ry="1.0" fill="#15100c"/><ellipse cx="234.0" cy="677.3" rx="0.9" ry="0.4" fill="#1e1612"/><ellipse cx="296.4" cy="633.4" rx="1.4" ry="0.8" fill="#3c2a20"/><ellipse cx="639.1" cy="640.5" rx="0.9" ry="0.7" fill="#85604a"/><ellipse cx="285.2" cy="658.8" rx="1.0" ry="0.6" fill="#1e1612"/><ellipse cx="243.3" cy="677.5" rx="1.3" ry="0.7" fill="#231a14"/><ellipse cx="108.0" cy="626.4" rx="1.4" ry="0.8" fill="#15100c"/><ellipse cx="358.3" cy="638.3" rx="1.6" ry="1.1" fill="#15100c"/><ellipse cx="44.3" cy="646.3" rx="1.9" ry="1.0" fill="#231a14"/><ellipse cx="674.8" cy="650.3" rx="1.9" ry="1.2" fill="#74503c"/><ellipse cx="181.0" cy="633.4" rx="1.2" ry="0.8" fill="#15100c"/><ellipse cx="595.9" cy="641.0" rx="1.0" ry="0.8" fill="#74503c"/><ellipse cx="366.4" cy="660.0" rx="0.9" ry="0.7" fill="#231a14"/><ellipse cx="564.3" cy="655.1" rx="1.2" ry="1.0" fill="#96684c"/><ellipse cx="214.3" cy="649.1" rx="1.7" ry="1.0" fill="#3c2a20"/><ellipse cx="356.3" cy="650.9" rx="1.5" ry="1.0" fill="#74503c"/><ellipse cx="384.9" cy="653.9" rx="1.5" ry="1.0" fill="#3c2a20"/><ellipse cx="656.6" cy="671.4" rx="1.1" ry="0.7" fill="#231a14"/><ellipse cx="247.4" cy="636.7" rx="1.8" ry="0.9" fill="#15100c"/><ellipse cx="508.5" cy="652.7" rx="1.9" ry="1.0" fill="#3c2a20"/><ellipse cx="157.0" cy="649.6" rx="1.8" ry="1.2" fill="#15100c"/><ellipse cx="492.7" cy="661.5" rx="1.4" ry="1.1" fill="#85604a"/><ellipse cx="484.6" cy="640.2" rx="0.9" ry="0.9" fill="#5e4232"/><ellipse cx="165.0" cy="657.4" rx="0.8" ry="0.6" fill="#15100c"/><ellipse cx="343.9" cy="647.2" rx="0.8" ry="0.5" fill="#231a14"/><ellipse cx="518.0" cy="664.3" rx="0.8" ry="0.7" fill="#4c3426"/><ellipse cx="413.8" cy="660.0" rx="0.7" ry="0.6" fill="#85604a"/><ellipse cx="659.9" cy="654.6" rx="1.4" ry="1.1" fill="#3c2a20"/><ellipse cx="497.2" cy="658.2" rx="1.2" ry="0.7" fill="#15100c"/><ellipse cx="148.1" cy="677.1" rx="1.2" ry="1.1" fill="#96684c"/><ellipse cx="156.2" cy="653.2" rx="1.0" ry="0.8" fill="#15100c"/><ellipse cx="332.5" cy="632.8" rx="0.8" ry="0.6" fill="#5e4232"/><ellipse cx="144.7" cy="678.3" rx="1.1" ry="0.7" fill="#96684c"/><ellipse cx="144.6" cy="625.9" rx="1.9" ry="1.1" fill="#231a14"/><ellipse cx="654.6" cy="648.1" rx="0.8" ry="0.7" fill="#85604a"/><ellipse cx="279.6" cy="672.3" rx="2.0" ry="1.1" fill="#96684c"/><ellipse cx="156.7" cy="627.8" rx="0.8" ry="0.5" fill="#15100c"/><ellipse cx="153.9" cy="626.5" rx="1.2" ry="0.8" fill="#3c2a20"/><ellipse cx="94.7" cy="666.9" rx="1.0" ry="0.5" fill="#4c3426"/><ellipse cx="296.7" cy="649.5" rx="0.7" ry="0.6" fill="#4c3426"/><ellipse cx="310.5" cy="626.6" rx="0.6" ry="0.4" fill="#1e1612"/><ellipse cx="81.3" cy="647.6" rx="1.7" ry="0.9" fill="#5e4232"/><ellipse cx="104.6" cy="637.4" rx="0.8" ry="0.5" fill="#15100c"/><ellipse cx="85.4" cy="635.0" rx="1.8" ry="1.0" fill="#15100c"/><ellipse cx="286.4" cy="648.6" rx="0.8" ry="0.5" fill="#1e1612"/><ellipse cx="146.7" cy="640.0" rx="0.8" ry="0.4" fill="#4c3426"/><ellipse cx="121.5" cy="666.0" rx="0.6" ry="0.6" fill="#15100c"/><ellipse cx="362.2" cy="654.7" rx="1.0" ry="0.6" fill="#1e1612"/><ellipse cx="171.4" cy="628.0" rx="1.1" ry="0.8" fill="#231a14"/><ellipse cx="88.4" cy="655.8" rx="0.7" ry="0.6" fill="#74503c"/><ellipse cx="452.7" cy="646.4" rx="1.5" ry="0.8" fill="#96684c"/><ellipse cx="238.8" cy="656.6" rx="1.1" ry="0.6" fill="#3c2a20"/><ellipse cx="27.1" cy="661.8" rx="0.9" ry="0.5" fill="#5e4232"/><ellipse cx="257.9" cy="670.9" rx="1.6" ry="1.0" fill="#3c2a20"/><ellipse cx="424.5" cy="672.8" rx="1.0" ry="0.9" fill="#96684c"/><ellipse cx="592.7" cy="675.2" rx="1.4" ry="0.9" fill="#1e1612"/><ellipse cx="295.0" cy="633.7" rx="1.5" ry="0.8" fill="#96684c"/><ellipse cx="351.8" cy="676.0" rx="1.1" ry="0.7" fill="#5e4232"/><ellipse cx="419.3" cy="647.4" rx="1.1" ry="1.0" fill="#15100c"/><ellipse cx="490.7" cy="635.3" rx="1.2" ry="1.1" fill="#231a14"/><ellipse cx="353.7" cy="666.7" rx="0.6" ry="0.6" fill="#96684c"/><ellipse cx="100.8" cy="657.1" rx="1.8" ry="0.9" fill="#4c3426"/><ellipse cx="136.7" cy="627.5" rx="1.4" ry="0.8" fill="#231a14"/><ellipse cx="400.7" cy="675.8" rx="0.9" ry="0.7" fill="#231a14"/><ellipse cx="619.2" cy="638.8" rx="0.9" ry="0.6" fill="#85604a"/><ellipse cx="618.2" cy="625.8" rx="1.5" ry="0.9" fill="#74503c"/><ellipse cx="229.1" cy="654.7" rx="1.0" ry="0.9" fill="#5e4232"/><ellipse cx="228.1" cy="640.0" rx="1.3" ry="0.8" fill="#85604a"/><ellipse cx="322.5" cy="628.7" rx="1.2" ry="1.1" fill="#3c2a20"/><ellipse cx="614.7" cy="628.1" rx="1.5" ry="0.9" fill="#3c2a20"/><ellipse cx="620.4" cy="644.0" rx="1.5" ry="1.2" fill="#74503c"/><ellipse cx="523.9" cy="674.6" rx="0.8" ry="0.6" fill="#96684c"/><ellipse cx="537.0" cy="643.5" rx="1.7" ry="1.2" fill="#231a14"/><ellipse cx="113.7" cy="639.8" rx="1.3" ry="1.1" fill="#1e1612"/><ellipse cx="571.8" cy="628.9" rx="0.7" ry="0.7" fill="#231a14"/><ellipse cx="80.1" cy="669.7" rx="1.5" ry="1.2" fill="#5e4232"/><ellipse cx="636.0" cy="648.8" rx="1.3" ry="0.7" fill="#1e1612"/><ellipse cx="460.8" cy="640.4" rx="0.5" ry="0.5" fill="#4c3426"/><ellipse cx="478.3" cy="676.5" rx="1.4" ry="0.7" fill="#85604a"/><ellipse cx="580.0" cy="654.3" rx="2.0" ry="1.0" fill="#15100c"/><ellipse cx="124.1" cy="647.6" rx="0.9" ry="0.6" fill="#231a14"/><ellipse cx="366.6" cy="636.7" rx="1.9" ry="1.1" fill="#4c3426"/><ellipse cx="632.8" cy="677.5" rx="0.8" ry="0.7" fill="#15100c"/><ellipse cx="514.0" cy="629.5" rx="1.4" ry="0.9" fill="#231a14"/><ellipse cx="369.6" cy="678.5" rx="1.3" ry="0.7" fill="#5e4232"/><ellipse cx="538.7" cy="662.8" rx="1.6" ry="1.0" fill="#85604a"/><ellipse cx="569.7" cy="642.7" rx="1.7" ry="0.9" fill="#4c3426"/><ellipse cx="383.6" cy="643.3" rx="1.5" ry="0.9" fill="#231a14"/><ellipse cx="458.4" cy="645.8" rx="1.3" ry="1.0" fill="#231a14"/><ellipse cx="350.8" cy="628.9" rx="0.6" ry="0.4" fill="#231a14"/><ellipse cx="202.0" cy="645.1" rx="1.1" ry="0.7" fill="#3c2a20"/><ellipse cx="372.9" cy="646.6" rx="1.4" ry="0.8" fill="#15100c"/><ellipse cx="411.6" cy="630.2" rx="1.0" ry="1.0" fill="#4c3426"/><ellipse cx="193.2" cy="627.2" rx="0.9" ry="0.7" fill="#74503c"/><ellipse cx="341.3" cy="640.7" rx="0.7" ry="0.4" fill="#1e1612"/><ellipse cx="82.1" cy="654.6" rx="0.8" ry="0.6" fill="#96684c"/><ellipse cx="152.1" cy="626.8" rx="2.1" ry="1.2" fill="#74503c"/><ellipse cx="452.1" cy="645.8" rx="1.5" ry="1.1" fill="#1e1612"/><ellipse cx="461.9" cy="667.2" rx="2.1" ry="1.2" fill="#231a14"/><ellipse cx="153.2" cy="642.7" rx="1.6" ry="0.8" fill="#4c3426"/><ellipse cx="67.4" cy="639.5" rx="1.6" ry="1.1" fill="#96684c"/><ellipse cx="48.9" cy="628.0" rx="1.0" ry="0.6" fill="#5e4232"/><ellipse cx="401.5" cy="657.9" rx="0.9" ry="0.6" fill="#5e4232"/><ellipse cx="414.1" cy="664.7" rx="1.1" ry="0.9" fill="#96684c"/><ellipse cx="61.7" cy="638.6" rx="1.4" ry="0.9" fill="#15100c"/><ellipse cx="397.6" cy="661.0" rx="1.5" ry="0.8" fill="#3c2a20"/><ellipse cx="540.1" cy="637.7" rx="1.7" ry="1.1" fill="#231a14"/><ellipse cx="661.7" cy="669.0" rx="1.1" ry="0.8" fill="#1e1612"/><ellipse cx="438.1" cy="675.1" rx="0.7" ry="0.5" fill="#4c3426"/><ellipse cx="326.3" cy="656.0" rx="0.9" ry="0.5" fill="#85604a"/><ellipse cx="38.9" cy="634.2" rx="0.6" ry="0.4" fill="#15100c"/><ellipse cx="399.9" cy="657.7" rx="0.8" ry="0.4" fill="#5e4232"/><ellipse cx="383.7" cy="644.1" rx="1.1" ry="0.9" fill="#1e1612"/><ellipse cx="357.2" cy="662.3" rx="1.0" ry="0.9" fill="#231a14"/><ellipse cx="188.1" cy="663.2" rx="1.3" ry="1.0" fill="#96684c"/><ellipse cx="178.3" cy="634.0" rx="0.9" ry="0.5" fill="#96684c"/><ellipse cx="479.1" cy="629.7" rx="1.2" ry="0.6" fill="#96684c"/><ellipse cx="233.1" cy="627.3" rx="0.7" ry="0.5" fill="#96684c"/><ellipse cx="21.4" cy="655.8" rx="2.1" ry="1.1" fill="#15100c"/><ellipse cx="451.6" cy="628.1" rx="1.1" ry="0.6" fill="#96684c"/><ellipse cx="240.4" cy="633.6" rx="0.8" ry="0.7" fill="#1e1612"/><ellipse cx="469.8" cy="677.3" rx="0.5" ry="0.4" fill="#74503c"/><ellipse cx="614.4" cy="668.2" rx="2.2" ry="1.2" fill="#96684c"/><ellipse cx="135.3" cy="646.0" rx="2.3" ry="1.2" fill="#96684c"/><ellipse cx="675.1" cy="674.0" rx="1.5" ry="0.8" fill="#15100c"/><ellipse cx="292.5" cy="674.6" rx="1.6" ry="1.0" fill="#1e1612"/><ellipse cx="632.3" cy="678.8" rx="0.6" ry="0.6" fill="#85604a"/><ellipse cx="440.9" cy="640.9" rx="1.2" ry="0.8" fill="#231a14"/><ellipse cx="506.6" cy="662.1" rx="1.1" ry="0.8" fill="#15100c"/><ellipse cx="246.8" cy="677.3" rx="0.6" ry="0.5" fill="#1e1612"/><ellipse cx="161.4" cy="672.2" rx="1.8" ry="1.0" fill="#4c3426"/><ellipse cx="132.5" cy="651.3" rx="1.3" ry="1.1" fill="#74503c"/><ellipse cx="327.6" cy="656.8" rx="0.6" ry="0.4" fill="#85604a"/><ellipse cx="427.8" cy="654.5" rx="0.9" ry="0.6" fill="#4c3426"/><ellipse cx="234.8" cy="629.6" rx="1.4" ry="1.0" fill="#1e1612"/><ellipse cx="522.5" cy="669.7" rx="1.9" ry="1.0" fill="#85604a"/><ellipse cx="27.1" cy="675.9" rx="1.4" ry="0.8" fill="#74503c"/><ellipse cx="616.3" cy="665.5" rx="0.9" ry="0.7" fill="#85604a"/><ellipse cx="185.3" cy="668.7" rx="1.3" ry="0.9" fill="#1e1612"/><ellipse cx="549.7" cy="668.0" rx="1.5" ry="0.8" fill="#74503c"/><ellipse cx="418.4" cy="678.2" rx="1.4" ry="1.0" fill="#3c2a20"/><ellipse cx="670.0" cy="671.6" rx="0.9" ry="0.5" fill="#15100c"/><ellipse cx="655.4" cy="662.1" rx="1.4" ry="0.8" fill="#96684c"/><ellipse cx="525.5" cy="637.4" rx="0.6" ry="0.4" fill="#1e1612"/><ellipse cx="189.1" cy="627.4" rx="1.0" ry="1.0" fill="#96684c"/><ellipse cx="104.6" cy="653.6" rx="1.5" ry="1.1" fill="#5e4232"/><ellipse cx="504.8" cy="666.0" rx="1.2" ry="0.9" fill="#4c3426"/><ellipse cx="458.0" cy="656.6" rx="1.7" ry="1.2" fill="#15100c"/><ellipse cx="140.9" cy="631.1" rx="0.8" ry="0.5" fill="#74503c"/><ellipse cx="103.5" cy="635.2" rx="1.8" ry="1.1" fill="#3c2a20"/><ellipse cx="678.2" cy="659.2" rx="1.8" ry="1.1" fill="#96684c"/><ellipse cx="267.1" cy="645.8" rx="0.7" ry="0.6" fill="#85604a"/><ellipse cx="121.4" cy="637.5" rx="1.1" ry="0.9" fill="#3c2a20"/><ellipse cx="270.7" cy="657.7" rx="1.6" ry="0.9" fill="#96684c"/><ellipse cx="311.5" cy="646.5" rx="0.8" ry="0.6" fill="#4c3426"/><ellipse cx="149.1" cy="652.6" rx="1.4" ry="1.2" fill="#74503c"/><ellipse cx="408.6" cy="643.6" rx="1.2" ry="0.9" fill="#96684c"/><ellipse cx="416.6" cy="649.2" rx="2.1" ry="1.1" fill="#231a14"/><ellipse cx="94.1" cy="677.7" rx="1.6" ry="1.1" fill="#231a14"/><ellipse cx="449.9" cy="654.3" rx="1.4" ry="0.9" fill="#3c2a20"/><ellipse cx="296.7" cy="655.4" rx="0.7" ry="0.5" fill="#3c2a20"/><ellipse cx="384.8" cy="629.3" rx="1.4" ry="0.9" fill="#15100c"/><ellipse cx="338.8" cy="661.2" rx="0.9" ry="0.7" fill="#85604a"/><ellipse cx="488.7" cy="677.0" rx="1.2" ry="0.8" fill="#231a14"/><ellipse cx="232.8" cy="638.1" rx="1.3" ry="1.0" fill="#5e4232"/><ellipse cx="383.3" cy="649.8" rx="0.6" ry="0.5" fill="#15100c"/><ellipse cx="217.6" cy="645.4" rx="1.3" ry="1.1" fill="#231a14"/><ellipse cx="550.0" cy="630.8" rx="1.3" ry="0.9" fill="#4c3426"/><ellipse cx="201.9" cy="652.4" rx="0.7" ry="0.5" fill="#1e1612"/><ellipse cx="305.9" cy="677.5" rx="1.2" ry="1.0" fill="#85604a"/><ellipse cx="82.2" cy="629.8" rx="1.1" ry="0.8" fill="#85604a"/><ellipse cx="237.8" cy="675.3" rx="0.9" ry="0.6" fill="#1e1612"/><ellipse cx="380.6" cy="668.8" rx="1.8" ry="0.9" fill="#4c3426"/><ellipse cx="353.6" cy="658.5" rx="1.2" ry="0.8" fill="#4c3426"/><ellipse cx="21.2" cy="645.4" rx="1.6" ry="1.0" fill="#15100c"/><ellipse cx="551.4" cy="628.3" rx="0.6" ry="0.5" fill="#231a14"/><ellipse cx="616.4" cy="625.1" rx="1.2" ry="1.0" fill="#74503c"/><ellipse cx="672.1" cy="660.8" rx="2.1" ry="1.2" fill="#3c2a20"/><ellipse cx="151.8" cy="638.2" rx="1.4" ry="1.0" fill="#15100c"/><ellipse cx="488.8" cy="637.6" rx="1.5" ry="1.2" fill="#4c3426"/><ellipse cx="306.2" cy="672.9" rx="1.4" ry="1.0" fill="#96684c"/><ellipse cx="363.4" cy="660.7" rx="1.2" ry="1.1" fill="#96684c"/><ellipse cx="29.1" cy="671.1" rx="0.6" ry="0.5" fill="#5e4232"/><ellipse cx="166.4" cy="671.6" rx="1.4" ry="0.9" fill="#1e1612"/><ellipse cx="194.1" cy="652.8" rx="0.7" ry="0.7" fill="#96684c"/><ellipse cx="423.8" cy="625.0" rx="1.6" ry="1.1" fill="#85604a"/><ellipse cx="177.2" cy="652.9" rx="0.7" ry="0.4" fill="#85604a"/><ellipse cx="573.4" cy="677.6" rx="1.1" ry="0.8" fill="#15100c"/><ellipse cx="348.0" cy="672.7" rx="1.1" ry="0.7" fill="#5e4232"/><ellipse cx="263.0" cy="631.8" rx="1.1" ry="0.8" fill="#74503c"/><ellipse cx="210.6" cy="649.2" rx="0.4" ry="0.4" fill="#74503c"/><ellipse cx="160.4" cy="672.5" rx="1.2" ry="1.1" fill="#5e4232"/><ellipse cx="632.2" cy="636.2" rx="1.9" ry="1.2" fill="#96684c"/><ellipse cx="289.3" cy="634.3" rx="2.0" ry="1.1" fill="#231a14"/><ellipse cx="498.8" cy="661.7" rx="0.6" ry="0.5" fill="#96684c"/><ellipse cx="531.5" cy="628.0" rx="0.6" ry="0.5" fill="#74503c"/><ellipse cx="110.6" cy="676.4" rx="1.7" ry="0.9" fill="#1e1612"/><ellipse cx="43.0" cy="645.4" rx="0.8" ry="0.6" fill="#15100c"/><ellipse cx="625.2" cy="637.6" rx="1.1" ry="0.6" fill="#96684c"/><ellipse cx="35.3" cy="663.9" rx="1.0" ry="0.8" fill="#85604a"/><ellipse cx="547.4" cy="629.0" rx="1.2" ry="1.1" fill="#231a14"/><ellipse cx="108.5" cy="674.4" rx="1.2" ry="1.1" fill="#1e1612"/><ellipse cx="294.5" cy="638.3" rx="0.7" ry="0.6" fill="#96684c"/><ellipse cx="290.0" cy="658.6" rx="1.3" ry="0.9" fill="#85604a"/><ellipse cx="463.6" cy="645.0" rx="1.0" ry="0.6" fill="#15100c"/><ellipse cx="158.2" cy="657.1" rx="1.3" ry="0.6" fill="#4c3426"/><ellipse cx="674.0" cy="625.5" rx="1.7" ry="0.9" fill="#4c3426"/><ellipse cx="397.0" cy="656.1" rx="1.7" ry="0.9" fill="#4c3426"/><ellipse cx="249.3" cy="673.5" rx="1.9" ry="1.0" fill="#74503c"/><ellipse cx="54.2" cy="667.5" rx="1.9" ry="1.1" fill="#15100c"/><ellipse cx="651.9" cy="640.8" rx="1.6" ry="0.8" fill="#15100c"/><ellipse cx="330.2" cy="641.5" rx="1.4" ry="0.8" fill="#85604a"/><ellipse cx="407.2" cy="672.7" rx="1.0" ry="0.7" fill="#3c2a20"/><ellipse cx="427.6" cy="669.9" rx="1.2" ry="0.8" fill="#85604a"/><ellipse cx="10.6" cy="666.2" rx="1.0" ry="0.7" fill="#85604a"/><ellipse cx="149.3" cy="625.8" rx="1.2" ry="0.6" fill="#96684c"/><ellipse cx="457.7" cy="633.7" rx="1.5" ry="0.7" fill="#5e4232"/><ellipse cx="420.7" cy="644.6" rx="0.8" ry="0.8" fill="#3c2a20"/><ellipse cx="588.8" cy="648.2" rx="0.9" ry="0.5" fill="#74503c"/><ellipse cx="113.8" cy="650.1" rx="0.9" ry="0.6" fill="#231a14"/><ellipse cx="343.2" cy="629.5" rx="1.3" ry="0.8" fill="#96684c"/><ellipse cx="87.7" cy="659.1" rx="0.9" ry="0.5" fill="#4c3426"/><ellipse cx="209.7" cy="647.2" rx="1.3" ry="0.7" fill="#74503c"/><ellipse cx="130.5" cy="636.7" rx="0.7" ry="0.5" fill="#3c2a20"/><ellipse cx="44.5" cy="630.7" rx="0.7" ry="0.7" fill="#74503c"/><ellipse cx="450.4" cy="673.0" rx="1.0" ry="0.7" fill="#3c2a20"/><ellipse cx="438.5" cy="668.9" rx="0.7" ry="0.5" fill="#5e4232"/><ellipse cx="620.9" cy="654.8" rx="1.5" ry="0.9" fill="#4c3426"/><ellipse cx="644.3" cy="676.6" rx="1.2" ry="1.0" fill="#4c3426"/><ellipse cx="455.0" cy="676.6" rx="1.6" ry="0.8" fill="#231a14"/><ellipse cx="0.4" cy="653.6" rx="1.1" ry="0.8" fill="#15100c"/><ellipse cx="272.4" cy="660.3" rx="1.0" ry="0.9" fill="#4c3426"/><ellipse cx="607.0" cy="663.1" rx="2.0" ry="1.1" fill="#5e4232"/><ellipse cx="430.9" cy="627.2" rx="0.8" ry="0.4" fill="#15100c"/><ellipse cx="262.4" cy="636.4" rx="1.3" ry="0.8" fill="#231a14"/><ellipse cx="88.6" cy="635.9" rx="0.7" ry="0.6" fill="#3c2a20"/><ellipse cx="603.4" cy="647.2" rx="0.8" ry="0.6" fill="#96684c"/><ellipse cx="280.7" cy="657.0" rx="1.2" ry="0.8" fill="#74503c"/><ellipse cx="26.1" cy="637.0" rx="1.7" ry="1.2" fill="#1e1612"/><ellipse cx="592.8" cy="674.0" rx="1.7" ry="1.1" fill="#4c3426"/><ellipse cx="347.3" cy="663.7" rx="1.5" ry="0.9" fill="#4c3426"/><ellipse cx="138.9" cy="671.4" rx="0.8" ry="0.6" fill="#1e1612"/><ellipse cx="341.3" cy="643.5" rx="2.1" ry="1.1" fill="#4c3426"/><ellipse cx="446.3" cy="674.7" rx="1.2" ry="0.6" fill="#231a14"/><ellipse cx="474.1" cy="670.3" rx="1.6" ry="0.9" fill="#15100c"/><ellipse cx="517.1" cy="642.8" rx="0.6" ry="0.6" fill="#231a14"/><ellipse cx="206.2" cy="637.9" rx="1.6" ry="1.1" fill="#4c3426"/><ellipse cx="271.3" cy="662.7" rx="1.1" ry="1.0" fill="#231a14"/><ellipse cx="395.0" cy="639.8" rx="1.2" ry="1.0" fill="#74503c"/><ellipse cx="616.2" cy="675.5" rx="1.9" ry="1.1" fill="#15100c"/><ellipse cx="19.5" cy="675.7" rx="1.4" ry="0.9" fill="#5e4232"/><ellipse cx="301.3" cy="662.5" rx="0.6" ry="0.4" fill="#5e4232"/><ellipse cx="48.8" cy="660.1" rx="0.6" ry="0.4" fill="#85604a"/><ellipse cx="654.9" cy="632.3" rx="1.7" ry="0.8" fill="#4c3426"/><ellipse cx="189.6" cy="668.2" rx="1.6" ry="1.0" fill="#3c2a20"/><ellipse cx="95.0" cy="669.7" rx="1.8" ry="1.1" fill="#15100c"/><ellipse cx="172.3" cy="637.3" rx="1.3" ry="1.0" fill="#5e4232"/><ellipse cx="190.4" cy="653.4" rx="0.6" ry="0.4" fill="#231a14"/><ellipse cx="20.2" cy="673.6" rx="1.3" ry="1.0" fill="#96684c"/><ellipse cx="647.9" cy="659.6" rx="0.5" ry="0.4" fill="#15100c"/><ellipse cx="604.7" cy="657.2" rx="1.6" ry="0.9" fill="#5e4232"/><ellipse cx="277.6" cy="651.7" rx="1.3" ry="1.1" fill="#74503c"/><ellipse cx="578.5" cy="654.3" rx="1.8" ry="1.0" fill="#5e4232"/><ellipse cx="620.2" cy="677.5" rx="0.8" ry="0.6" fill="#231a14"/><ellipse cx="104.1" cy="673.0" rx="0.6" ry="0.5" fill="#4c3426"/><ellipse cx="490.9" cy="640.3" rx="1.3" ry="0.7" fill="#74503c"/><ellipse cx="95.2" cy="634.3" rx="0.7" ry="0.6" fill="#74503c"/><ellipse cx="337.2" cy="625.3" rx="1.1" ry="0.7" fill="#1e1612"/><ellipse cx="226.1" cy="648.7" rx="0.8" ry="0.6" fill="#5e4232"/><ellipse cx="450.6" cy="646.6" rx="0.5" ry="0.4" fill="#74503c"/><ellipse cx="79.8" cy="631.4" rx="1.7" ry="1.0" fill="#74503c"/><ellipse cx="528.6" cy="670.3" rx="1.7" ry="0.9" fill="#15100c"/><ellipse cx="220.3" cy="657.6" rx="1.2" ry="0.8" fill="#15100c"/><ellipse cx="198.5" cy="655.4" rx="1.9" ry="1.1" fill="#1e1612"/><ellipse cx="430.5" cy="640.1" rx="1.3" ry="1.1" fill="#5e4232"/><ellipse cx="44.0" cy="636.9" rx="0.8" ry="0.6" fill="#5e4232"/><ellipse cx="394.8" cy="644.3" rx="1.1" ry="1.0" fill="#74503c"/><ellipse cx="26.0" cy="636.2" rx="1.7" ry="1.0" fill="#74503c"/><ellipse cx="360.3" cy="642.8" rx="1.0" ry="0.5" fill="#74503c"/><ellipse cx="167.1" cy="676.0" rx="0.7" ry="0.5" fill="#15100c"/><ellipse cx="32.9" cy="642.6" rx="1.3" ry="0.8" fill="#74503c"/><ellipse cx="122.9" cy="678.0" rx="1.5" ry="0.8" fill="#15100c"/><ellipse cx="387.4" cy="643.7" rx="2.3" ry="1.1" fill="#15100c"/><ellipse cx="203.6" cy="651.1" rx="1.2" ry="0.8" fill="#231a14"/><ellipse cx="373.6" cy="652.8" rx="1.6" ry="1.1" fill="#231a14"/><ellipse cx="299.5" cy="675.7" rx="1.5" ry="1.0" fill="#96684c"/><ellipse cx="541.7" cy="649.5" rx="1.4" ry="0.8" fill="#85604a"/><ellipse cx="84.2" cy="653.2" rx="0.8" ry="0.5" fill="#5e4232"/><ellipse cx="287.9" cy="669.6" rx="1.0" ry="0.7" fill="#85604a"/><ellipse cx="41.2" cy="675.6" rx="0.7" ry="0.6" fill="#231a14"/><ellipse cx="498.5" cy="631.6" rx="2.1" ry="1.2" fill="#4c3426"/><ellipse cx="478.6" cy="657.9" rx="0.5" ry="0.5" fill="#15100c"/><ellipse cx="223.0" cy="673.5" rx="1.4" ry="1.0" fill="#4c3426"/><ellipse cx="103.7" cy="672.5" rx="0.9" ry="0.6" fill="#4c3426"/><ellipse cx="475.5" cy="662.6" rx="1.4" ry="1.1" fill="#5e4232"/><ellipse cx="169.0" cy="631.6" rx="0.7" ry="0.7" fill="#74503c"/><ellipse cx="570.5" cy="632.4" rx="1.0" ry="0.5" fill="#231a14"/><ellipse cx="166.3" cy="666.6" rx="0.7" ry="0.6" fill="#1e1612"/><ellipse cx="221.2" cy="638.7" rx="1.5" ry="0.9" fill="#1e1612"/><ellipse cx="153.4" cy="632.1" rx="1.6" ry="0.8" fill="#96684c"/><ellipse cx="622.9" cy="672.7" rx="1.4" ry="0.8" fill="#5e4232"/><ellipse cx="467.0" cy="659.5" rx="0.9" ry="0.8" fill="#85604a"/><ellipse cx="675.7" cy="674.5" rx="1.0" ry="0.7" fill="#4c3426"/><ellipse cx="666.0" cy="646.9" rx="1.8" ry="1.0" fill="#74503c"/><ellipse cx="2.6" cy="625.5" rx="1.1" ry="0.8" fill="#5e4232"/><ellipse cx="437.0" cy="647.0" rx="1.1" ry="1.1" fill="#4c3426"/><ellipse cx="428.5" cy="673.8" rx="0.9" ry="0.8" fill="#1e1612"/><ellipse cx="496.6" cy="656.1" rx="2.0" ry="1.1" fill="#74503c"/><ellipse cx="649.5" cy="665.0" rx="2.2" ry="1.2" fill="#231a14"/><ellipse cx="321.5" cy="642.4" rx="1.7" ry="1.2" fill="#74503c"/><ellipse cx="280.8" cy="676.2" rx="0.7" ry="0.6" fill="#4c3426"/><ellipse cx="173.8" cy="647.3" rx="1.6" ry="0.8" fill="#3c2a20"/><ellipse cx="558.3" cy="642.2" rx="0.7" ry="0.5" fill="#3c2a20"/><ellipse cx="614.6" cy="660.3" rx="1.7" ry="1.2" fill="#3c2a20"/><ellipse cx="14.3" cy="628.2" rx="1.1" ry="0.9" fill="#231a14"/><ellipse cx="307.1" cy="661.8" rx="1.0" ry="0.6" fill="#4c3426"/><ellipse cx="110.5" cy="660.2" rx="0.5" ry="0.4" fill="#15100c"/><ellipse cx="564.3" cy="642.4" rx="1.4" ry="0.7" fill="#231a14"/><ellipse cx="184.7" cy="649.5" rx="1.2" ry="1.0" fill="#74503c"/><ellipse cx="10.8" cy="627.7" rx="1.3" ry="0.7" fill="#3c2a20"/><ellipse cx="557.5" cy="675.0" rx="2.3" ry="1.2" fill="#231a14"/><ellipse cx="368.3" cy="676.5" rx="1.7" ry="1.0" fill="#96684c"/><ellipse cx="79.2" cy="673.2" rx="1.0" ry="0.8" fill="#1e1612"/><ellipse cx="268.1" cy="644.5" rx="2.0" ry="1.0" fill="#85604a"/><ellipse cx="362.7" cy="636.2" rx="1.1" ry="0.5" fill="#15100c"/><ellipse cx="138.0" cy="637.9" rx="0.6" ry="0.5" fill="#85604a"/><ellipse cx="612.9" cy="626.9" rx="0.9" ry="0.8" fill="#4c3426"/><ellipse cx="180.8" cy="647.6" rx="0.7" ry="0.5" fill="#5e4232"/><ellipse cx="322.4" cy="636.5" rx="0.9" ry="0.6" fill="#1e1612"/><ellipse cx="603.7" cy="658.2" rx="1.0" ry="0.6" fill="#96684c"/><ellipse cx="402.3" cy="653.3" rx="0.8" ry="0.7" fill="#4c3426"/><ellipse cx="141.2" cy="642.9" rx="0.6" ry="0.5" fill="#4c3426"/><ellipse cx="346.6" cy="662.4" rx="1.2" ry="0.8" fill="#1e1612"/><ellipse cx="144.2" cy="627.3" rx="1.6" ry="1.0" fill="#231a14"/><ellipse cx="176.4" cy="635.7" rx="1.3" ry="0.9" fill="#1e1612"/><ellipse cx="575.2" cy="670.6" rx="0.7" ry="0.6" fill="#85604a"/><ellipse cx="534.6" cy="626.8" rx="1.3" ry="1.0" fill="#3c2a20"/><ellipse cx="60.4" cy="647.7" rx="1.4" ry="1.1" fill="#1e1612"/><ellipse cx="32.6" cy="626.2" rx="1.8" ry="1.1" fill="#15100c"/><ellipse cx="94.6" cy="668.0" rx="1.2" ry="0.9" fill="#96684c"/><ellipse cx="121.6" cy="639.7" rx="2.2" ry="1.2" fill="#231a14"/><ellipse cx="298.9" cy="635.0" rx="1.1" ry="0.8" fill="#15100c"/><ellipse cx="157.7" cy="652.7" rx="2.1" ry="1.1" fill="#3c2a20"/><ellipse cx="133.2" cy="652.4" rx="2.0" ry="1.1" fill="#231a14"/><ellipse cx="548.4" cy="648.9" rx="1.4" ry="1.0" fill="#3c2a20"/><ellipse cx="353.2" cy="668.7" rx="1.5" ry="1.1" fill="#1e1612"/><ellipse cx="459.1" cy="654.7" rx="1.5" ry="1.1" fill="#85604a"/><ellipse cx="255.7" cy="636.1" rx="0.6" ry="0.6" fill="#15100c"/><ellipse cx="73.6" cy="632.6" rx="1.1" ry="0.9" fill="#231a14"/><ellipse cx="256.6" cy="646.8" rx="0.6" ry="0.5" fill="#3c2a20"/><ellipse cx="235.5" cy="637.5" rx="1.5" ry="1.1" fill="#96684c"/><ellipse cx="380.0" cy="675.6" rx="1.2" ry="0.6" fill="#5e4232"/><ellipse cx="623.0" cy="633.3" rx="0.7" ry="0.6" fill="#74503c"/><ellipse cx="10.0" cy="676.3" rx="1.8" ry="1.1" fill="#3c2a20"/><ellipse cx="98.8" cy="645.3" rx="0.5" ry="0.5" fill="#1e1612"/><ellipse cx="534.2" cy="678.4" rx="1.2" ry="0.9" fill="#96684c"/><ellipse cx="203.1" cy="666.1" rx="0.8" ry="0.4" fill="#1e1612"/><ellipse cx="431.4" cy="627.6" rx="0.5" ry="0.4" fill="#5e4232"/><ellipse cx="286.5" cy="660.2" rx="1.8" ry="0.9" fill="#1e1612"/><ellipse cx="272.7" cy="661.2" rx="1.9" ry="1.0" fill="#15100c"/><ellipse cx="466.4" cy="675.1" rx="1.3" ry="1.0" fill="#1e1612"/><ellipse cx="79.8" cy="676.7" rx="1.6" ry="0.8" fill="#85604a"/><ellipse cx="200.0" cy="641.7" rx="2.0" ry="1.1" fill="#74503c"/><ellipse cx="239.4" cy="669.5" rx="0.6" ry="0.5" fill="#5e4232"/><ellipse cx="518.8" cy="643.2" rx="2.2" ry="1.2" fill="#3c2a20"/><ellipse cx="395.8" cy="657.1" rx="0.6" ry="0.5" fill="#1e1612"/><ellipse cx="308.7" cy="676.4" rx="1.3" ry="1.2" fill="#15100c"/><ellipse cx="300.2" cy="670.0" rx="0.9" ry="0.5" fill="#74503c"/><ellipse cx="635.9" cy="655.0" rx="1.2" ry="0.6" fill="#15100c"/><ellipse cx="34.3" cy="662.9" rx="1.2" ry="1.0" fill="#4c3426"/><ellipse cx="574.5" cy="632.9" rx="0.9" ry="0.8" fill="#15100c"/><ellipse cx="447.2" cy="634.2" rx="1.0" ry="0.7" fill="#4c3426"/><ellipse cx="113.2" cy="645.6" rx="0.8" ry="0.6" fill="#5e4232"/><ellipse cx="594.4" cy="649.8" rx="0.7" ry="0.5" fill="#231a14"/><ellipse cx="633.8" cy="670.7" rx="1.2" ry="1.0" fill="#15100c"/><ellipse cx="464.9" cy="677.4" rx="0.6" ry="0.5" fill="#74503c"/><ellipse cx="136.6" cy="660.4" rx="1.6" ry="1.1" fill="#4c3426"/><ellipse cx="73.2" cy="670.5" rx="1.3" ry="0.7" fill="#5e4232"/><ellipse cx="17.4" cy="648.1" rx="0.6" ry="0.6" fill="#4c3426"/><ellipse cx="555.9" cy="676.0" rx="1.1" ry="0.7" fill="#85604a"/><ellipse cx="583.3" cy="677.2" rx="1.0" ry="0.7" fill="#4c3426"/><ellipse cx="582.3" cy="664.4" rx="1.9" ry="1.1" fill="#15100c"/><ellipse cx="80.3" cy="632.1" rx="0.7" ry="0.5" fill="#231a14"/><ellipse cx="324.6" cy="635.5" rx="1.6" ry="1.0" fill="#4c3426"/><ellipse cx="279.0" cy="645.7" rx="0.8" ry="0.6" fill="#5e4232"/><ellipse cx="501.3" cy="640.6" rx="1.4" ry="0.9" fill="#74503c"/><ellipse cx="279.0" cy="635.2" rx="0.8" ry="0.6" fill="#96684c"/><ellipse cx="126.3" cy="647.0" rx="1.6" ry="1.1" fill="#5e4232"/><ellipse cx="610.0" cy="673.1" rx="0.9" ry="0.6" fill="#3c2a20"/><ellipse cx="411.4" cy="674.9" rx="1.2" ry="0.8" fill="#5e4232"/><ellipse cx="430.4" cy="671.0" rx="0.9" ry="0.6" fill="#4c3426"/><ellipse cx="321.8" cy="641.4" rx="0.5" ry="0.4" fill="#231a14"/><ellipse cx="596.6" cy="631.9" rx="0.8" ry="0.5" fill="#85604a"/><ellipse cx="481.9" cy="625.8" rx="1.3" ry="0.8" fill="#96684c"/><ellipse cx="568.8" cy="660.8" rx="1.0" ry="0.6" fill="#3c2a20"/><ellipse cx="330.6" cy="675.0" rx="0.6" ry="0.4" fill="#85604a"/><ellipse cx="368.3" cy="668.0" rx="0.6" ry="0.5" fill="#3c2a20"/><ellipse cx="430.4" cy="630.0" rx="1.2" ry="0.9" fill="#3c2a20"/><ellipse cx="81.8" cy="675.3" rx="1.0" ry="0.8" fill="#1e1612"/><ellipse cx="314.5" cy="638.3" rx="1.4" ry="0.9" fill="#96684c"/><ellipse cx="396.8" cy="641.7" rx="1.9" ry="1.2" fill="#5e4232"/><ellipse cx="148.4" cy="650.0" rx="0.6" ry="0.4" fill="#85604a"/><ellipse cx="397.4" cy="668.2" rx="1.0" ry="0.6" fill="#231a14"/><ellipse cx="597.2" cy="673.5" rx="0.9" ry="0.7" fill="#96684c"/><ellipse cx="464.3" cy="633.5" rx="1.8" ry="0.9" fill="#1e1612"/><ellipse cx="543.4" cy="678.7" rx="1.0" ry="0.8" fill="#74503c"/><ellipse cx="638.8" cy="664.2" rx="0.8" ry="0.7" fill="#231a14"/><ellipse cx="678.9" cy="630.4" rx="1.7" ry="0.9" fill="#15100c"/><ellipse cx="521.2" cy="639.0" rx="0.9" ry="0.7" fill="#5e4232"/><ellipse cx="104.4" cy="642.6" rx="0.5" ry="0.4" fill="#85604a"/><ellipse cx="468.6" cy="676.9" rx="0.8" ry="0.7" fill="#74503c"/><ellipse cx="355.2" cy="662.1" rx="0.9" ry="0.7" fill="#85604a"/><ellipse cx="227.3" cy="678.8" rx="0.9" ry="0.7" fill="#3c2a20"/><ellipse cx="231.2" cy="665.2" rx="1.0" ry="0.6" fill="#5e4232"/><ellipse cx="268.1" cy="667.0" rx="1.6" ry="1.1" fill="#5e4232"/><ellipse cx="142.8" cy="667.5" rx="1.4" ry="1.1" fill="#96684c"/><ellipse cx="149.6" cy="671.0" rx="1.2" ry="0.9" fill="#4c3426"/><ellipse cx="372.5" cy="673.1" rx="1.8" ry="1.0" fill="#1e1612"/><ellipse cx="177.3" cy="672.9" rx="0.6" ry="0.4" fill="#4c3426"/><ellipse cx="180.6" cy="636.5" rx="1.1" ry="0.8" fill="#15100c"/><ellipse cx="514.5" cy="633.2" rx="0.7" ry="0.5" fill="#96684c"/><ellipse cx="8.5" cy="631.2" rx="1.4" ry="1.1" fill="#4c3426"/><ellipse cx="357.7" cy="675.8" rx="1.5" ry="0.8" fill="#231a14"/><ellipse cx="675.1" cy="662.4" rx="0.7" ry="0.5" fill="#85604a"/><ellipse cx="418.3" cy="644.0" rx="1.6" ry="1.0" fill="#74503c"/><ellipse cx="616.1" cy="649.1" rx="0.8" ry="0.7" fill="#96684c"/><ellipse cx="233.8" cy="663.8" rx="1.0" ry="0.7" fill="#15100c"/><ellipse cx="354.8" cy="651.7" rx="1.1" ry="0.6" fill="#5e4232"/><ellipse cx="670.1" cy="675.9" rx="1.5" ry="1.0" fill="#3c2a20"/><ellipse cx="76.1" cy="628.9" rx="0.8" ry="0.8" fill="#96684c"/><ellipse cx="411.2" cy="663.4" rx="1.1" ry="1.0" fill="#4c3426"/><ellipse cx="344.6" cy="642.1" rx="2.1" ry="1.1" fill="#96684c"/><ellipse cx="428.4" cy="639.1" rx="1.1" ry="0.8" fill="#5e4232"/><ellipse cx="441.0" cy="657.5" rx="2.2" ry="1.1" fill="#15100c"/><ellipse cx="154.3" cy="660.1" rx="2.2" ry="1.1" fill="#74503c"/><ellipse cx="288.9" cy="654.1" rx="2.0" ry="1.1" fill="#3c2a20"/><ellipse cx="226.4" cy="635.4" rx="1.1" ry="0.9" fill="#231a14"/><ellipse cx="406.2" cy="676.4" rx="0.5" ry="0.4" fill="#74503c"/><ellipse cx="335.1" cy="653.5" rx="0.7" ry="0.7" fill="#3c2a20"/><ellipse cx="612.4" cy="664.7" rx="0.9" ry="0.6" fill="#5e4232"/><ellipse cx="26.7" cy="651.1" rx="0.9" ry="0.5" fill="#85604a"/><ellipse cx="672.3" cy="629.9" rx="1.5" ry="1.1" fill="#5e4232"/><ellipse cx="421.2" cy="652.4" rx="1.7" ry="1.2" fill="#231a14"/><ellipse cx="190.8" cy="633.6" rx="0.9" ry="0.5" fill="#15100c"/><ellipse cx="169.5" cy="649.0" rx="0.7" ry="0.5" fill="#1e1612"/><ellipse cx="14.7" cy="659.0" rx="1.5" ry="0.8" fill="#74503c"/><ellipse cx="143.5" cy="675.3" rx="1.5" ry="1.1" fill="#85604a"/><ellipse cx="462.8" cy="628.8" rx="1.2" ry="1.2" fill="#5e4232"/><ellipse cx="94.0" cy="630.7" rx="1.2" ry="0.7" fill="#3c2a20"/><ellipse cx="221.4" cy="668.7" rx="0.7" ry="0.4" fill="#15100c"/><ellipse cx="351.3" cy="627.4" rx="1.2" ry="1.1" fill="#96684c"/><ellipse cx="323.3" cy="673.4" rx="1.5" ry="0.8" fill="#3c2a20"/><ellipse cx="432.5" cy="662.8" rx="0.7" ry="0.6" fill="#15100c"/><ellipse cx="36.8" cy="665.8" rx="2.2" ry="1.2" fill="#74503c"/><ellipse cx="142.3" cy="670.9" rx="0.9" ry="0.7" fill="#15100c"/><ellipse cx="203.0" cy="653.4" rx="0.6" ry="0.6" fill="#1e1612"/><ellipse cx="518.0" cy="677.7" rx="0.8" ry="0.7" fill="#231a14"/><ellipse cx="540.6" cy="674.1" rx="1.2" ry="0.7" fill="#15100c"/><ellipse cx="652.9" cy="650.8" rx="0.9" ry="0.8" fill="#5e4232"/><ellipse cx="166.0" cy="656.6" rx="1.0" ry="0.9" fill="#1e1612"/><ellipse cx="181.6" cy="672.7" rx="1.4" ry="1.1" fill="#74503c"/><ellipse cx="602.9" cy="664.9" rx="0.8" ry="0.7" fill="#15100c"/><ellipse cx="625.2" cy="640.7" rx="1.7" ry="1.1" fill="#96684c"/><ellipse cx="128.8" cy="655.6" rx="1.9" ry="1.1" fill="#74503c"/><ellipse cx="353.6" cy="665.5" rx="0.9" ry="0.8" fill="#231a14"/><ellipse cx="510.4" cy="663.1" rx="2.1" ry="1.1" fill="#96684c"/><ellipse cx="88.4" cy="627.8" rx="1.1" ry="0.9" fill="#96684c"/><ellipse cx="649.3" cy="636.7" rx="1.8" ry="1.1" fill="#74503c"/><ellipse cx="360.8" cy="659.4" rx="1.6" ry="0.9" fill="#96684c"/><ellipse cx="448.6" cy="659.0" rx="0.9" ry="0.5" fill="#85604a"/><ellipse cx="446.5" cy="660.3" rx="0.8" ry="0.7" fill="#15100c"/><ellipse cx="601.0" cy="651.4" rx="1.2" ry="0.8" fill="#1e1612"/><ellipse cx="676.1" cy="631.5" rx="0.6" ry="0.5" fill="#231a14"/><ellipse cx="154.4" cy="678.9" rx="1.2" ry="0.8" fill="#1e1612"/><ellipse cx="573.8" cy="644.8" rx="2.0" ry="1.0" fill="#96684c"/><ellipse cx="499.0" cy="644.4" rx="0.9" ry="0.5" fill="#5e4232"/><ellipse cx="64.5" cy="671.9" rx="1.2" ry="0.8" fill="#1e1612"/><ellipse cx="295.7" cy="625.5" rx="1.3" ry="0.9" fill="#85604a"/><ellipse cx="584.8" cy="637.9" rx="2.1" ry="1.2" fill="#4c3426"/><ellipse cx="484.8" cy="675.4" rx="1.1" ry="0.9" fill="#231a14"/><ellipse cx="453.8" cy="661.9" rx="0.6" ry="0.4" fill="#5e4232"/><ellipse cx="558.7" cy="625.4" rx="1.4" ry="0.8" fill="#15100c"/><ellipse cx="221.3" cy="660.9" rx="0.9" ry="0.8" fill="#5e4232"/><ellipse cx="596.5" cy="641.9" rx="0.9" ry="0.5" fill="#4c3426"/><ellipse cx="382.6" cy="663.4" rx="1.4" ry="0.8" fill="#231a14"/><ellipse cx="358.7" cy="631.4" rx="1.5" ry="0.8" fill="#74503c"/><ellipse cx="222.1" cy="634.4" rx="1.1" ry="0.5" fill="#3c2a20"/><ellipse cx="270.8" cy="663.4" rx="1.2" ry="0.8" fill="#85604a"/><ellipse cx="210.7" cy="671.8" rx="1.0" ry="0.9" fill="#5e4232"/><ellipse cx="262.3" cy="664.7" rx="0.8" ry="0.4" fill="#85604a"/><ellipse cx="217.5" cy="634.8" rx="1.0" ry="0.5" fill="#3c2a20"/><ellipse cx="135.8" cy="629.2" rx="1.1" ry="0.9" fill="#74503c"/><ellipse cx="460.1" cy="669.0" rx="1.4" ry="0.9" fill="#231a14"/><ellipse cx="508.8" cy="627.0" rx="1.9" ry="1.0" fill="#74503c"/><ellipse cx="62.2" cy="659.1" rx="0.7" ry="0.6" fill="#1e1612"/><ellipse cx="245.4" cy="677.2" rx="1.1" ry="0.7" fill="#15100c"/><ellipse cx="225.8" cy="650.3" rx="1.6" ry="0.8" fill="#96684c"/><ellipse cx="173.2" cy="668.3" rx="1.4" ry="1.0" fill="#1e1612"/><ellipse cx="248.8" cy="666.5" rx="1.6" ry="0.9" fill="#74503c"/><ellipse cx="621.3" cy="667.1" rx="1.0" ry="0.6" fill="#5e4232"/><ellipse cx="78.5" cy="666.5" rx="1.2" ry="0.7" fill="#15100c"/><ellipse cx="525.8" cy="658.7" rx="1.3" ry="0.7" fill="#1e1612"/><ellipse cx="541.5" cy="655.8" rx="2.2" ry="1.2" fill="#4c3426"/><ellipse cx="676.8" cy="665.6" rx="0.6" ry="0.6" fill="#4c3426"/><ellipse cx="103.9" cy="637.0" rx="1.4" ry="1.0" fill="#231a14"/><ellipse cx="227.9" cy="631.5" rx="0.9" ry="0.6" fill="#1e1612"/><ellipse cx="339.0" cy="628.3" rx="1.5" ry="0.7" fill="#231a14"/><ellipse cx="43.7" cy="660.5" rx="0.5" ry="0.4" fill="#15100c"/><ellipse cx="471.1" cy="659.2" rx="0.6" ry="0.6" fill="#3c2a20"/><ellipse cx="427.2" cy="656.2" rx="1.2" ry="0.7" fill="#15100c"/><ellipse cx="659.4" cy="654.3" rx="0.8" ry="0.7" fill="#15100c"/><ellipse cx="545.1" cy="676.9" rx="1.1" ry="0.9" fill="#96684c"/><ellipse cx="589.6" cy="643.8" rx="0.7" ry="0.6" fill="#96684c"/><ellipse cx="567.3" cy="635.4" rx="0.9" ry="0.8" fill="#96684c"/><ellipse cx="485.9" cy="648.2" rx="0.8" ry="0.5" fill="#3c2a20"/><ellipse cx="642.6" cy="634.5" rx="0.8" ry="0.4" fill="#74503c"/><ellipse cx="322.7" cy="638.5" rx="1.9" ry="1.1" fill="#74503c"/><ellipse cx="374.1" cy="633.0" rx="1.4" ry="0.8" fill="#4c3426"/><ellipse cx="106.6" cy="674.6" rx="0.5" ry="0.5" fill="#3c2a20"/><ellipse cx="447.6" cy="653.8" rx="1.3" ry="0.9" fill="#85604a"/><ellipse cx="552.6" cy="639.5" rx="1.5" ry="0.8" fill="#5e4232"/><ellipse cx="489.2" cy="650.4" rx="0.9" ry="0.6" fill="#3c2a20"/><ellipse cx="671.8" cy="672.7" rx="1.1" ry="1.0" fill="#4c3426"/><ellipse cx="143.6" cy="673.6" rx="0.9" ry="0.8" fill="#74503c"/><ellipse cx="148.6" cy="666.3" rx="1.4" ry="1.0" fill="#96684c"/><ellipse cx="637.0" cy="633.2" rx="1.0" ry="0.6" fill="#3c2a20"/><ellipse cx="413.4" cy="632.9" rx="1.1" ry="0.8" fill="#15100c"/><ellipse cx="393.9" cy="642.0" rx="1.0" ry="0.8" fill="#15100c"/><ellipse cx="650.5" cy="642.6" rx="2.0" ry="1.1" fill="#74503c"/><ellipse cx="590.6" cy="646.2" rx="2.3" ry="1.2" fill="#15100c"/><ellipse cx="289.4" cy="637.2" rx="1.2" ry="0.8" fill="#1e1612"/><ellipse cx="558.9" cy="636.3" rx="0.8" ry="0.5" fill="#231a14"/><ellipse cx="14.7" cy="652.6" rx="2.0" ry="1.1" fill="#15100c"/><ellipse cx="433.9" cy="678.7" rx="0.7" ry="0.4" fill="#96684c"/><ellipse cx="317.4" cy="669.7" rx="1.3" ry="0.8" fill="#1e1612"/><ellipse cx="11.6" cy="658.2" rx="1.0" ry="0.7" fill="#1e1612"/><ellipse cx="13.1" cy="670.1" rx="1.2" ry="1.1" fill="#74503c"/><ellipse cx="37.5" cy="672.9" rx="1.7" ry="1.1" fill="#4c3426"/><ellipse cx="363.3" cy="675.9" rx="1.5" ry="1.2" fill="#96684c"/><ellipse cx="54.6" cy="656.5" rx="1.8" ry="0.9" fill="#85604a"/><ellipse cx="420.9" cy="629.4" rx="1.7" ry="0.8" fill="#4c3426"/><ellipse cx="174.2" cy="663.6" rx="0.7" ry="0.6" fill="#85604a"/><ellipse cx="632.3" cy="672.1" rx="1.1" ry="0.8" fill="#5e4232"/><ellipse cx="330.7" cy="626.8" rx="1.5" ry="0.9" fill="#1e1612"/><ellipse cx="24.1" cy="641.6" rx="1.1" ry="0.6" fill="#5e4232"/><ellipse cx="341.3" cy="633.7" rx="1.0" ry="0.6" fill="#15100c"/><ellipse cx="622.6" cy="649.5" rx="1.1" ry="0.6" fill="#3c2a20"/><ellipse cx="395.8" cy="638.7" rx="0.9" ry="0.5" fill="#85604a"/><ellipse cx="645.6" cy="669.1" rx="1.3" ry="1.1" fill="#3c2a20"/><ellipse cx="201.2" cy="671.5" rx="1.0" ry="0.6" fill="#3c2a20"/><ellipse cx="24.5" cy="665.4" rx="0.8" ry="0.5" fill="#85604a"/><ellipse cx="533.2" cy="629.7" rx="0.7" ry="0.5" fill="#4c3426"/><ellipse cx="424.8" cy="651.4" rx="0.8" ry="0.5" fill="#74503c"/><ellipse cx="353.0" cy="669.4" rx="1.9" ry="1.0" fill="#1e1612"/><ellipse cx="518.9" cy="642.4" rx="0.7" ry="0.7" fill="#5e4232"/><ellipse cx="579.5" cy="653.3" rx="0.7" ry="0.5" fill="#15100c"/><ellipse cx="510.7" cy="643.7" rx="0.9" ry="0.8" fill="#231a14"/><ellipse cx="195.3" cy="677.3" rx="1.5" ry="0.9" fill="#4c3426"/><ellipse cx="129.9" cy="674.3" rx="0.6" ry="0.6" fill="#74503c"/><ellipse cx="356.5" cy="661.7" rx="1.4" ry="1.2" fill="#74503c"/><ellipse cx="39.8" cy="625.9" rx="0.4" ry="0.4" fill="#5e4232"/><ellipse cx="102.0" cy="627.6" rx="1.4" ry="0.7" fill="#231a14"/><ellipse cx="118.5" cy="657.8" rx="0.5" ry="0.4" fill="#231a14"/><ellipse cx="444.0" cy="632.0" rx="0.7" ry="0.6" fill="#15100c"/><ellipse cx="306.3" cy="660.7" rx="2.0" ry="1.2" fill="#15100c"/><ellipse cx="530.7" cy="665.0" rx="1.0" ry="0.7" fill="#96684c"/><ellipse cx="612.4" cy="641.1" rx="2.1" ry="1.1" fill="#231a14"/><ellipse cx="529.2" cy="637.9" rx="1.0" ry="0.7" fill="#3c2a20"/><ellipse cx="42.6" cy="678.6" rx="1.5" ry="0.8" fill="#4c3426"/><ellipse cx="479.8" cy="661.9" rx="0.7" ry="0.4" fill="#4c3426"/><ellipse cx="641.5" cy="666.5" rx="1.0" ry="0.9" fill="#1e1612"/><ellipse cx="41.6" cy="666.6" rx="1.1" ry="0.8" fill="#4c3426"/><ellipse cx="406.2" cy="673.0" rx="1.7" ry="0.9" fill="#1e1612"/><ellipse cx="162.8" cy="656.5" rx="1.2" ry="0.7" fill="#74503c"/><ellipse cx="392.7" cy="650.1" rx="1.6" ry="0.8" fill="#85604a"/><ellipse cx="17.1" cy="662.9" rx="1.6" ry="1.1" fill="#15100c"/><ellipse cx="505.1" cy="628.3" rx="1.0" ry="0.8" fill="#5e4232"/><ellipse cx="337.3" cy="659.4" rx="1.0" ry="0.8" fill="#4c3426"/><ellipse cx="206.6" cy="628.8" rx="1.1" ry="0.7" fill="#231a14"/><ellipse cx="606.8" cy="658.3" rx="1.6" ry="0.9" fill="#96684c"/><ellipse cx="29.5" cy="660.8" rx="1.6" ry="0.9" fill="#96684c"/><ellipse cx="39.3" cy="634.7" rx="1.2" ry="0.9" fill="#3c2a20"/><ellipse cx="615.0" cy="628.4" rx="0.7" ry="0.5" fill="#96684c"/><ellipse cx="259.3" cy="648.4" rx="1.1" ry="0.8" fill="#85604a"/><ellipse cx="282.6" cy="669.4" rx="2.0" ry="1.1" fill="#85604a"/><ellipse cx="112.9" cy="664.0" rx="1.7" ry="1.1" fill="#231a14"/><ellipse cx="271.1" cy="644.4" rx="1.4" ry="1.0" fill="#4c3426"/><ellipse cx="22.9" cy="671.3" rx="1.4" ry="1.1" fill="#3c2a20"/><ellipse cx="459.6" cy="674.6" rx="0.6" ry="0.6" fill="#74503c"/><ellipse cx="624.0" cy="668.3" rx="1.5" ry="0.8" fill="#5e4232"/><ellipse cx="454.1" cy="630.9" rx="1.4" ry="0.9" fill="#5e4232"/><ellipse cx="290.0" cy="659.8" rx="1.1" ry="0.6" fill="#85604a"/><ellipse cx="348.9" cy="648.2" rx="1.6" ry="1.0" fill="#85604a"/><ellipse cx="25.5" cy="633.7" rx="0.7" ry="0.6" fill="#3c2a20"/><ellipse cx="253.6" cy="658.5" rx="1.8" ry="1.0" fill="#1e1612"/><ellipse cx="129.8" cy="655.2" rx="1.0" ry="0.9" fill="#15100c"/><ellipse cx="230.5" cy="641.6" rx="1.9" ry="1.1" fill="#5e4232"/><ellipse cx="446.8" cy="676.7" rx="1.0" ry="0.6" fill="#5e4232"/><ellipse cx="350.9" cy="673.9" rx="2.0" ry="1.0" fill="#5e4232"/><ellipse cx="308.4" cy="654.3" rx="1.3" ry="0.9" fill="#5e4232"/><ellipse cx="610.1" cy="663.1" rx="0.9" ry="0.7" fill="#3c2a20"/><ellipse cx="35.2" cy="651.2" rx="0.5" ry="0.4" fill="#1e1612"/><ellipse cx="345.2" cy="632.6" rx="2.1" ry="1.1" fill="#231a14"/><ellipse cx="407.0" cy="631.4" rx="1.1" ry="0.7" fill="#5e4232"/><ellipse cx="184.8" cy="659.9" rx="0.7" ry="0.5" fill="#3c2a20"/><ellipse cx="124.4" cy="667.0" rx="0.9" ry="0.5" fill="#231a14"/><ellipse cx="455.4" cy="638.1" rx="2.1" ry="1.1" fill="#4c3426"/><ellipse cx="610.5" cy="635.2" rx="1.2" ry="0.7" fill="#5e4232"/><ellipse cx="212.4" cy="646.6" rx="0.7" ry="0.6" fill="#5e4232"/><ellipse cx="487.0" cy="673.3" rx="0.9" ry="0.5" fill="#96684c"/><ellipse cx="257.8" cy="664.0" rx="0.6" ry="0.4" fill="#4c3426"/><ellipse cx="668.3" cy="667.4" rx="1.2" ry="0.8" fill="#5e4232"/><ellipse cx="418.9" cy="625.4" rx="0.9" ry="0.6" fill="#1e1612"/><ellipse cx="267.8" cy="676.6" rx="1.8" ry="1.1" fill="#5e4232"/><ellipse cx="99.1" cy="638.8" rx="1.2" ry="0.9" fill="#15100c"/><ellipse cx="471.8" cy="643.0" rx="0.9" ry="0.7" fill="#4c3426"/><ellipse cx="590.6" cy="654.3" rx="0.8" ry="0.6" fill="#5e4232"/><ellipse cx="637.2" cy="655.8" rx="0.6" ry="0.5" fill="#5e4232"/><ellipse cx="468.9" cy="645.4" rx="2.0" ry="1.1" fill="#3c2a20"/><ellipse cx="298.1" cy="651.1" rx="1.8" ry="1.1" fill="#15100c"/><ellipse cx="386.4" cy="627.6" rx="0.9" ry="0.5" fill="#96684c"/><ellipse cx="620.6" cy="663.9" rx="1.2" ry="0.7" fill="#74503c"/><ellipse cx="501.0" cy="628.6" rx="1.7" ry="0.9" fill="#4c3426"/><ellipse cx="157.9" cy="636.9" rx="0.8" ry="0.7" fill="#85604a"/><ellipse cx="264.4" cy="637.7" rx="2.1" ry="1.2" fill="#96684c"/><ellipse cx="27.0" cy="666.4" rx="1.5" ry="0.9" fill="#1e1612"/><ellipse cx="424.5" cy="677.9" rx="1.5" ry="1.1" fill="#3c2a20"/><ellipse cx="540.8" cy="676.0" rx="2.1" ry="1.1" fill="#74503c"/><ellipse cx="320.6" cy="628.0" rx="0.6" ry="0.6" fill="#4c3426"/><ellipse cx="307.7" cy="634.3" rx="2.2" ry="1.1" fill="#1e1612"/><ellipse cx="259.5" cy="659.1" rx="0.7" ry="0.4" fill="#5e4232"/><ellipse cx="482.5" cy="644.8" rx="1.4" ry="0.8" fill="#4c3426"/><ellipse cx="68.9" cy="676.9" rx="1.1" ry="0.9" fill="#85604a"/><ellipse cx="215.8" cy="677.6" rx="1.3" ry="0.9" fill="#5e4232"/><ellipse cx="483.6" cy="628.2" rx="0.9" ry="0.6" fill="#96684c"/><ellipse cx="80.1" cy="662.7" rx="1.9" ry="1.0" fill="#74503c"/><ellipse cx="323.1" cy="660.1" rx="0.5" ry="0.4" fill="#1e1612"/><ellipse cx="644.6" cy="664.9" rx="0.9" ry="0.9" fill="#5e4232"/><ellipse cx="171.3" cy="656.6" rx="0.7" ry="0.4" fill="#231a14"/><ellipse cx="349.2" cy="672.6" rx="1.8" ry="1.0" fill="#74503c"/><ellipse cx="55.2" cy="647.6" rx="1.0" ry="0.8" fill="#85604a"/><ellipse cx="558.3" cy="657.9" rx="1.7" ry="1.0" fill="#3c2a20"/><ellipse cx="455.3" cy="641.1" rx="1.1" ry="0.6" fill="#231a14"/><ellipse cx="62.4" cy="658.2" rx="2.0" ry="1.1" fill="#15100c"/><ellipse cx="658.2" cy="657.5" rx="1.8" ry="0.9" fill="#85604a"/><ellipse cx="325.6" cy="661.4" rx="1.2" ry="0.7" fill="#15100c"/><ellipse cx="435.0" cy="669.6" rx="1.0" ry="0.8" fill="#15100c"/><ellipse cx="134.3" cy="659.8" rx="0.8" ry="0.8" fill="#4c3426"/><ellipse cx="300.5" cy="669.9" rx="1.7" ry="1.0" fill="#231a14"/><ellipse cx="61.0" cy="670.9" rx="1.4" ry="1.1" fill="#3c2a20"/><ellipse cx="592.2" cy="635.4" rx="0.9" ry="0.6" fill="#15100c"/><ellipse cx="69.4" cy="629.3" rx="1.1" ry="1.1" fill="#3c2a20"/><ellipse cx="539.4" cy="645.4" rx="1.0" ry="0.6" fill="#85604a"/><ellipse cx="406.0" cy="639.9" rx="0.8" ry="0.7" fill="#3c2a20"/><ellipse cx="358.1" cy="642.7" rx="0.6" ry="0.5" fill="#5e4232"/><ellipse cx="465.5" cy="637.5" rx="1.4" ry="1.0" fill="#3c2a20"/><ellipse cx="114.5" cy="637.8" rx="1.1" ry="0.7" fill="#5e4232"/><ellipse cx="302.4" cy="636.5" rx="1.5" ry="1.0" fill="#85604a"/><ellipse cx="328.3" cy="657.6" rx="1.2" ry="1.0" fill="#74503c"/><ellipse cx="163.4" cy="635.9" rx="1.2" ry="1.1" fill="#231a14"/><ellipse cx="609.4" cy="637.1" rx="1.5" ry="1.0" fill="#3c2a20"/><ellipse cx="400.9" cy="667.9" rx="1.2" ry="0.8" fill="#3c2a20"/><ellipse cx="41.4" cy="632.5" rx="0.7" ry="0.6" fill="#4c3426"/><ellipse cx="673.8" cy="633.6" rx="1.0" ry="0.9" fill="#4c3426"/><ellipse cx="450.6" cy="653.0" rx="0.7" ry="0.7" fill="#96684c"/><ellipse cx="547.3" cy="678.1" rx="1.4" ry="1.0" fill="#231a14"/><ellipse cx="427.2" cy="662.0" rx="1.9" ry="1.0" fill="#1e1612"/><ellipse cx="229.1" cy="667.9" rx="1.6" ry="0.9" fill="#231a14"/><ellipse cx="473.0" cy="647.9" rx="1.2" ry="1.0" fill="#3c2a20"/><ellipse cx="105.6" cy="642.2" rx="1.5" ry="0.9" fill="#5e4232"/><ellipse cx="245.0" cy="634.9" rx="0.9" ry="0.9" fill="#15100c"/><ellipse cx="582.7" cy="666.0" rx="1.3" ry="0.7" fill="#74503c"/><ellipse cx="400.5" cy="674.6" rx="1.3" ry="1.0" fill="#4c3426"/><ellipse cx="677.6" cy="672.0" rx="0.8" ry="0.4" fill="#4c3426"/><ellipse cx="608.3" cy="635.2" rx="1.7" ry="1.2" fill="#1e1612"/><ellipse cx="593.6" cy="676.1" rx="1.6" ry="1.0" fill="#231a14"/><ellipse cx="3.7" cy="626.8" rx="0.7" ry="0.6" fill="#74503c"/><ellipse cx="316.2" cy="630.0" rx="1.3" ry="0.9" fill="#15100c"/><ellipse cx="482.7" cy="640.4" rx="0.9" ry="0.5" fill="#1e1612"/><ellipse cx="418.4" cy="661.2" rx="0.7" ry="0.7" fill="#96684c"/><ellipse cx="266.0" cy="675.6" rx="1.8" ry="1.1" fill="#231a14"/><ellipse cx="637.9" cy="657.5" rx="0.7" ry="0.6" fill="#3c2a20"/><ellipse cx="250.1" cy="626.8" rx="1.3" ry="1.0" fill="#85604a"/><ellipse cx="189.3" cy="665.7" rx="1.3" ry="1.0" fill="#5e4232"/><ellipse cx="24.5" cy="657.1" rx="0.5" ry="0.4" fill="#15100c"/><ellipse cx="474.7" cy="643.3" rx="1.3" ry="0.8" fill="#4c3426"/><ellipse cx="294.4" cy="646.4" rx="1.4" ry="1.1" fill="#15100c"/><ellipse cx="636.1" cy="673.5" rx="0.7" ry="0.5" fill="#4c3426"/><ellipse cx="20.9" cy="638.6" rx="1.0" ry="0.9" fill="#5e4232"/><ellipse cx="312.0" cy="641.6" rx="1.5" ry="0.9" fill="#4c3426"/><ellipse cx="537.1" cy="645.0" rx="1.7" ry="1.0" fill="#4c3426"/><ellipse cx="645.1" cy="647.4" rx="0.6" ry="0.4" fill="#231a14"/><ellipse cx="364.5" cy="630.9" rx="1.1" ry="0.9" fill="#5e4232"/><ellipse cx="238.1" cy="642.2" rx="1.0" ry="0.9" fill="#5e4232"/><ellipse cx="98.9" cy="669.4" rx="1.3" ry="1.1" fill="#85604a"/><ellipse cx="470.5" cy="629.1" rx="1.7" ry="0.9" fill="#85604a"/><ellipse cx="534.4" cy="642.3" rx="0.9" ry="0.4" fill="#85604a"/><ellipse cx="606.4" cy="660.0" rx="1.2" ry="0.9" fill="#231a14"/><ellipse cx="235.9" cy="657.2" rx="0.9" ry="0.8" fill="#74503c"/><ellipse cx="453.4" cy="648.0" rx="0.8" ry="0.6" fill="#1e1612"/><ellipse cx="528.8" cy="653.6" rx="1.9" ry="1.1" fill="#15100c"/><ellipse cx="605.6" cy="641.2" rx="2.2" ry="1.1" fill="#1e1612"/><ellipse cx="120.8" cy="633.4" rx="0.9" ry="0.5" fill="#74503c"/><ellipse cx="430.7" cy="638.7" rx="2.0" ry="1.2" fill="#231a14"/><ellipse cx="31.6" cy="663.9" rx="1.4" ry="1.2" fill="#1e1612"/><ellipse cx="130.5" cy="654.3" rx="1.0" ry="0.6" fill="#85604a"/><ellipse cx="294.2" cy="628.7" rx="1.9" ry="1.1" fill="#3c2a20"/><ellipse cx="259.7" cy="660.9" rx="1.0" ry="0.5" fill="#231a14"/><ellipse cx="41.9" cy="625.6" rx="1.6" ry="1.1" fill="#3c2a20"/><ellipse cx="421.0" cy="657.1" rx="0.9" ry="0.6" fill="#96684c"/><ellipse cx="526.6" cy="664.0" rx="1.3" ry="1.2" fill="#15100c"/><ellipse cx="126.5" cy="632.6" rx="2.0" ry="1.1" fill="#5e4232"/><ellipse cx="471.3" cy="665.5" rx="1.1" ry="1.0" fill="#85604a"/><ellipse cx="222.7" cy="637.2" rx="0.9" ry="0.7" fill="#5e4232"/><ellipse cx="294.1" cy="655.0" rx="0.6" ry="0.6" fill="#1e1612"/><ellipse cx="601.6" cy="628.9" rx="2.0" ry="1.1" fill="#85604a"/><ellipse cx="294.8" cy="645.9" rx="1.2" ry="1.0" fill="#96684c"/><path d="M361.9,642.8 Q366.5,640.5 369.2,640.3" stroke="#8e6a50" stroke-width="1.1" fill="none"/><path d="M275.1,642.1 Q272.6,639.4 269.6,637.3" stroke="#7a5842" stroke-width="1.1" fill="none"/><path d="M203.8,631.7 Q205.0,631.5 207.8,631.9" stroke="#8e6a50" stroke-width="1.1" fill="none"/><path d="M22.1,662.2 Q18.0,661.4 13.0,662.9" stroke="#8e6a50" stroke-width="0.9" fill="none"/><path d="M275.7,656.7 Q278.1,655.9 283.0,656.8" stroke="#8e6a50" stroke-width="0.7" fill="none"/><path d="M44.8,670.4 Q41.9,669.9 38.4,671.3" stroke="#7a5842" stroke-width="0.6" fill="none"/><path d="M21.7,651.7 Q15.1,650.7 10.1,652.8" stroke="#6a4a36" stroke-width="1.0" fill="none"/><path d="M51.9,668.8 Q46.2,666.3 41.8,667.4" stroke="#8e6a50" stroke-width="0.6" fill="none"/><path d="M313.9,646.2 Q306.9,645.6 302.5,645.8" stroke="#7a5842" stroke-width="0.6" fill="none"/><path d="M54.1,644.8 Q56.3,642.3 60.7,643.8" stroke="#6a4a36" stroke-width="0.8" fill="none"/><path d="M72.9,643.0 Q70.1,640.7 66.8,636.9" stroke="#7a5842" stroke-width="0.8" fill="none"/><path d="M381.9,675.0 Q384.4,673.8 390.7,672.4" stroke="#7a5842" stroke-width="0.7" fill="none"/><path d="M189.4,631.6 Q186.2,634.4 184.9,633.9" stroke="#7a5842" stroke-width="1.0" fill="none"/><path d="M421.7,670.8 Q422.6,670.9 424.8,673.9" stroke="#8e6a50" stroke-width="1.0" fill="none"/><path d="M628.9,636.6 Q631.0,634.1 635.7,631.3" stroke="#8e6a50" stroke-width="1.0" fill="none"/><path d="M278.9,662.5 Q281.0,662.2 285.9,663.2" stroke="#8e6a50" stroke-width="1.0" fill="none"/><path d="M94.6,651.2 Q97.3,654.5 99.8,656.2" stroke="#6a4a36" stroke-width="1.0" fill="none"/><path d="M558.4,660.6 Q559.4,663.4 563.8,667.0" stroke="#7a5842" stroke-width="1.0" fill="none"/><path d="M583.5,643.0 Q580.7,644.6 578.7,646.5" stroke="#6a4a36" stroke-width="0.9" fill="none"/><path d="M524.2,639.5 Q519.3,636.6 518.0,636.1" stroke="#7a5842" stroke-width="0.6" fill="none"/><path d="M491.6,652.3 Q496.0,653.4 498.8,658.0" stroke="#6a4a36" stroke-width="1.1" fill="none"/><path d="M209.5,656.7 Q209.6,656.6 212.0,653.7" stroke="#7a5842" stroke-width="0.9" fill="none"/><path d="M605.2,632.7 Q601.5,630.3 601.5,629.0" stroke="#8e6a50" stroke-width="0.7" fill="none"/><path d="M210.5,675.4 Q206.9,674.4 199.6,677.3" stroke="#8e6a50" stroke-width="0.9" fill="none"/><path d="M654.8,650.3 Q656.6,650.5 661.8,649.1" stroke="#7a5842" stroke-width="0.6" fill="none"/><path d="M4.1,644.4 Q3.8,642.4 0.0,642.6" stroke="#7a5842" stroke-width="0.9" fill="none"/><path d="M318.4,664.5 Q316.1,665.5 315.5,668.6" stroke="#8e6a50" stroke-width="0.8" fill="none"/><path d="M80.1,633.0 Q77.2,631.4 76.7,630.8" stroke="#7a5842" stroke-width="0.8" fill="none"/><path d="M488.2,668.1 Q485.1,670.8 480.9,669.5" stroke="#8e6a50" stroke-width="1.0" fill="none"/><path d="M86.7,660.4 Q85.8,661.2 82.0,665.3" stroke="#8e6a50" stroke-width="0.8" fill="none"/><path d="M7.6,672.9 Q3.1,673.9 -1.1,673.6" stroke="#6a4a36" stroke-width="0.9" fill="none"/><path d="M576.8,661.9 Q571.6,663.5 569.7,661.6" stroke="#7a5842" stroke-width="0.8" fill="none"/><path d="M141.9,643.2 Q146.3,646.1 151.3,645.8" stroke="#7a5842" stroke-width="0.7" fill="none"/><path d="M107.9,632.9 Q109.1,633.0 114.0,631.6" stroke="#6a4a36" stroke-width="1.0" fill="none"/><path d="M388.5,637.2 Q388.9,640.7 391.4,640.3" stroke="#6a4a36" stroke-width="0.8" fill="none"/><path d="M144.8,670.0 Q143.4,667.5 140.2,669.0" stroke="#7a5842" stroke-width="1.0" fill="none"/><path d="M525.8,630.8 Q529.0,630.8 533.8,634.8" stroke="#7a5842" stroke-width="1.0" fill="none"/><path d="M366.1,670.9 Q367.0,670.4 370.1,669.4" stroke="#8e6a50" stroke-width="0.9" fill="none"/><path d="M648.8,655.9 Q647.4,658.9 645.2,660.3" stroke="#7a5842" stroke-width="0.9" fill="none"/><path d="M127.4,645.8 Q125.3,647.5 123.4,649.5" stroke="#6a4a36" stroke-width="0.7" fill="none"/>

<!-- trellis -->
<path d="M472.6,663 L472.6,175 A75.4,83 0 0 1 623.4,175 L623.4,663" fill="none" stroke="#3a6e61" stroke-width="3.6"/>
<use href="#tr" fill="none" stroke="#3a6e61" stroke-width="3.0"/>
<use href="#tr" fill="none" stroke="#b5cfc6" stroke-width="1.0"/>
<!-- rings -->
<circle cx="547" cy="214.6" r="3.6" fill="#f8f8f8" stroke="#3d7566" stroke-width="1.5"/>
<rect x="470.6" y="379" width="4.2" height="26" rx="1" fill="#356a5a"/><rect x="472.1" y="380" width="1.2" height="24" fill="#a3c4b9"/>
<circle cx="472.7" cy="385.9" r="3.8" fill="#f8f8f8" stroke="#3d7566" stroke-width="1.5"/>
<rect x="621.4" y="380" width="4.2" height="25" rx="1" fill="#356a5a"/><rect x="622.9" y="381" width="1.2" height="23" fill="#a3c4b9"/>
<ellipse cx="623.5" cy="386.6" rx="3.2" ry="2.3" fill="#fff"/><circle cx="619.3" cy="386.6" r="1" fill="#888"/><circle cx="627.7" cy="386.6" r="1" fill="#888"/>
</svg>
</body></html>
